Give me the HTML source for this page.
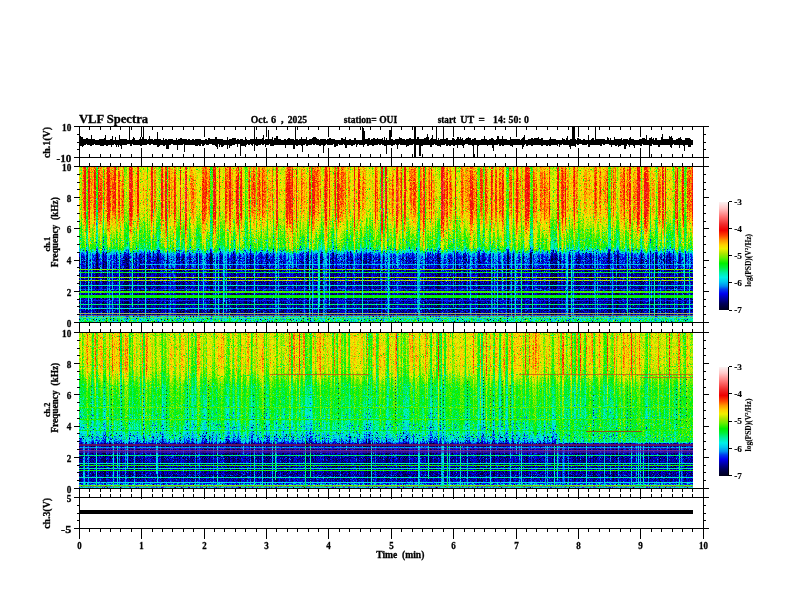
<!DOCTYPE html>
<html><head><meta charset="utf-8"><title>VLF Spectra</title>
<style>html,body{margin:0;padding:0;background:#fff;}body{width:792px;height:612px;position:relative;overflow:hidden;}</style>
</head><body>
<svg width="792" height="612" viewBox="0 0 792 612" style="position:absolute;left:0;top:0;will-change:transform" shape-rendering="crispEdges">
<svg x="79" y="166" width="614" height="157" viewBox="0 0 614 157" overflow="hidden">
<defs>
<filter id="cma" filterUnits="userSpaceOnUse" x="0" y="0" width="614" height="157" color-interpolation-filters="sRGB">
<feColorMatrix in="SourceGraphic" type="matrix" values="0 1 0 0 0 0 1 0 0 0 0 1 0 0 0 0 0 0 0 1" result="AG"/>
<feColorMatrix in="SourceGraphic" type="matrix" values="0 0 1 0 0 0 0 1 0 0 0 0 1 0 0 0 0 0 0 1" result="AB"/>
<feColorMatrix in="SourceGraphic" type="matrix" values="1 0 0 0 0 1 0 0 0 0 1 0 0 0 0 0 0 0 0 1" result="R"/>
<feTurbulence type="fractalNoise" baseFrequency="1.3 1.1" numOctaves="1" seed="3" result="T1"/>
<feColorMatrix in="T1" type="matrix" values="1 0 0 0 0 1 0 0 0 0 1 0 0 0 0 0 0 0 0 1" result="T1r"/>
<feComponentTransfer in="T1r" result="N1"><feFuncR type="table" tableValues="0.000 0.000 0.000 0.000 0.000 0.000 0.000 0.000 0.000 0.000 0.000 0.000 0.000 0.000 0.000 0.000 0.000 0.000 0.000 0.000 0.000 0.000 0.000 0.000 0.000 0.000 0.000 0.000 0.000 0.000 0.000 0.310 0.320 0.330 0.340 0.350 0.360 0.370 0.380 0.390 0.400 0.410 0.420 0.430 0.440 0.450 0.460 0.470 0.480 0.490 0.500 0.510 0.520 0.530 0.540 0.550 0.560 0.570 0.580 0.590 0.600 0.610 0.620 0.630 0.640 0.650 0.660 0.670 0.680 0.690 0.700 0.710 0.720 0.730 0.740 0.750 0.760 0.770 0.780 0.790 0.800 0.810 0.820 0.830 0.840 0.850 0.860 0.870 0.880 0.890 0.900 0.910 0.920 0.930 0.940 0.950 0.960 0.970 0.980 0.990 1.000"/><feFuncG type="table" tableValues="0.000 0.000 0.000 0.000 0.000 0.000 0.000 0.000 0.000 0.000 0.000 0.000 0.000 0.000 0.000 0.000 0.000 0.000 0.000 0.000 0.000 0.000 0.000 0.000 0.000 0.000 0.000 0.000 0.000 0.000 0.000 0.310 0.320 0.330 0.340 0.350 0.360 0.370 0.380 0.390 0.400 0.410 0.420 0.430 0.440 0.450 0.460 0.470 0.480 0.490 0.500 0.510 0.520 0.530 0.540 0.550 0.560 0.570 0.580 0.590 0.600 0.610 0.620 0.630 0.640 0.650 0.660 0.670 0.680 0.690 0.700 0.710 0.720 0.730 0.740 0.750 0.760 0.770 0.780 0.790 0.800 0.810 0.820 0.830 0.840 0.850 0.860 0.870 0.880 0.890 0.900 0.910 0.920 0.930 0.940 0.950 0.960 0.970 0.980 0.990 1.000"/><feFuncB type="table" tableValues="0.000 0.000 0.000 0.000 0.000 0.000 0.000 0.000 0.000 0.000 0.000 0.000 0.000 0.000 0.000 0.000 0.000 0.000 0.000 0.000 0.000 0.000 0.000 0.000 0.000 0.000 0.000 0.000 0.000 0.000 0.000 0.310 0.320 0.330 0.340 0.350 0.360 0.370 0.380 0.390 0.400 0.410 0.420 0.430 0.440 0.450 0.460 0.470 0.480 0.490 0.500 0.510 0.520 0.530 0.540 0.550 0.560 0.570 0.580 0.590 0.600 0.610 0.620 0.630 0.640 0.650 0.660 0.670 0.680 0.690 0.700 0.710 0.720 0.730 0.740 0.750 0.760 0.770 0.780 0.790 0.800 0.810 0.820 0.830 0.840 0.850 0.860 0.870 0.880 0.890 0.900 0.910 0.920 0.930 0.940 0.950 0.960 0.970 0.980 0.990 1.000"/></feComponentTransfer>
<feTurbulence type="fractalNoise" baseFrequency="0.5 0.006" numOctaves="2" seed="20" result="T2"/>
<feColorMatrix in="T2" type="matrix" values="3 0 0 0 -1 3 0 0 0 -1 3 0 0 0 -1 0 0 0 0 1" result="N2"/>
<feComposite in="AG" in2="N1" operator="arithmetic" k1="1" k2="-0.5" k3="0" k4="0.5" result="M1"/>
<feComposite in="AB" in2="N2" operator="arithmetic" k1="1" k2="-0.5" k3="0" k4="0.5" result="M2"/>
<feComposite in="R" in2="M1" operator="arithmetic" k1="0" k2="1" k3="1" k4="-0.5" result="S1"/>
<feComposite in="S1" in2="M2" operator="arithmetic" k1="0" k2="1" k3="1" k4="-0.5" result="S"/>
<feComponentTransfer in="S"><feFuncR type="table" tableValues="0.000 0.000 0.000 0.000 0.000 0.000 0.000 0.000 0.000 0.000 0.000 0.000 0.000 0.000 0.000 0.000 0.000 0.000 0.000 0.000 0.000 0.000 0.000 0.000 0.000 0.000 0.000 0.000 0.000 0.000 0.000 0.000 0.000 0.000 0.000 0.000 0.000 0.000 0.000 0.000 0.000 0.000 0.000 0.000 0.000 0.000 0.000 0.000 0.000 0.000 0.000 0.000 0.000 0.000 0.000 0.024 0.086 0.148 0.209 0.271 0.333 0.394 0.448 0.502 0.556 0.610 0.665 0.713 0.761 0.809 0.857 0.905 0.944 0.958 0.971 0.984 0.997 1.000 1.000 1.000 1.000 1.000 1.000 1.000 1.000 1.000 1.000 0.999 0.990 0.981 0.972 0.963 0.954 0.945 0.941 0.941 0.941 0.941 0.941 0.941 0.942 0.948 0.955 0.961 0.968 0.975 0.981 0.988 0.994 1.000 1.000 1.000 1.000 1.000 1.000 1.000 1.000 1.000 1.000 1.000 0.998 0.996 0.993 0.991 0.988 0.986 0.983 0.980"/><feFuncG type="table" tableValues="0.000 0.000 0.000 0.000 0.000 0.000 0.000 0.000 0.000 0.000 0.000 0.000 0.000 0.000 0.000 0.000 0.000 0.000 0.000 0.000 0.044 0.090 0.137 0.183 0.229 0.307 0.389 0.472 0.552 0.598 0.644 0.691 0.737 0.783 0.815 0.845 0.876 0.907 0.938 0.941 0.941 0.941 0.941 0.941 0.941 0.941 0.941 0.941 0.941 0.941 0.941 0.941 0.941 0.941 0.941 0.941 0.941 0.941 0.941 0.941 0.941 0.941 0.933 0.925 0.918 0.910 0.902 0.909 0.915 0.922 0.929 0.936 0.935 0.908 0.882 0.855 0.829 0.789 0.746 0.703 0.660 0.617 0.568 0.508 0.447 0.387 0.327 0.269 0.227 0.186 0.144 0.103 0.061 0.020 0.013 0.037 0.061 0.085 0.110 0.134 0.158 0.189 0.220 0.251 0.282 0.313 0.344 0.375 0.405 0.437 0.470 0.504 0.537 0.571 0.604 0.638 0.671 0.705 0.738 0.772 0.799 0.822 0.845 0.868 0.891 0.914 0.938 0.961"/><feFuncB type="table" tableValues="0.118 0.149 0.179 0.210 0.241 0.272 0.303 0.334 0.372 0.421 0.471 0.520 0.569 0.619 0.668 0.722 0.776 0.830 0.884 0.938 0.941 0.941 0.941 0.941 0.941 0.941 0.941 0.941 0.941 0.941 0.941 0.941 0.941 0.941 0.934 0.926 0.918 0.910 0.903 0.859 0.811 0.763 0.715 0.667 0.615 0.546 0.478 0.409 0.340 0.272 0.214 0.167 0.121 0.075 0.028 0.000 0.000 0.000 0.000 0.000 0.000 0.000 0.000 0.000 0.000 0.000 0.000 0.000 0.000 0.000 0.000 0.000 0.000 0.000 0.000 0.000 0.000 0.000 0.000 0.000 0.000 0.000 0.000 0.000 0.000 0.000 0.000 0.000 0.000 0.000 0.000 0.000 0.000 0.000 0.013 0.037 0.061 0.085 0.110 0.134 0.158 0.189 0.220 0.251 0.282 0.313 0.344 0.375 0.405 0.437 0.470 0.504 0.537 0.571 0.604 0.638 0.671 0.705 0.738 0.772 0.799 0.822 0.845 0.868 0.891 0.914 0.938 0.961"/><feFuncA type="identity"/></feComponentTransfer>
</filter>
<linearGradient id="ga0" x1="0" y1="0" x2="0" y2="1">
<stop offset="0.0032" stop-color="rgb(112,71,18)"/>
<stop offset="0.1025" stop-color="rgb(120,74,20)"/>
<stop offset="0.1522" stop-color="rgb(121,75,21)"/>
<stop offset="0.2019" stop-color="rgb(120,77,22)"/>
<stop offset="0.2417" stop-color="rgb(118,78,22)"/>
<stop offset="0.2516" stop-color="rgb(117,78,23)"/>
<stop offset="0.2715" stop-color="rgb(115,78,23)"/>
<stop offset="0.2913" stop-color="rgb(113,79,23)"/>
<stop offset="0.3013" stop-color="rgb(113,79,24)"/>
<stop offset="0.3211" stop-color="rgb(110,80,24)"/>
<stop offset="0.3410" stop-color="rgb(107,80,24)"/>
<stop offset="0.3609" stop-color="rgb(104,81,25)"/>
<stop offset="0.3708" stop-color="rgb(102,81,25)"/>
<stop offset="0.4006" stop-color="rgb(102,82,26)"/>
<stop offset="0.4304" stop-color="rgb(102,88,29)"/>
<stop offset="0.4603" stop-color="rgb(102,94,32)"/>
<stop offset="0.4901" stop-color="rgb(102,100,35)"/>
<stop offset="0.5000" stop-color="rgb(102,102,36)"/>
<stop offset="0.5099" stop-color="rgb(102,105,38)"/>
<stop offset="0.5199" stop-color="rgb(89,108,41)"/>
<stop offset="0.5298" stop-color="rgb(76,112,43)"/>
<stop offset="0.5348" stop-color="rgb(65,113,45)"/>
<stop offset="0.5397" stop-color="rgb(56,115,46)"/>
<stop offset="0.5497" stop-color="rgb(45,108,38)"/>
<stop offset="0.5596" stop-color="rgb(30,102,31)"/>
<stop offset="0.5696" stop-color="rgb(24,102,30)"/>
<stop offset="0.5795" stop-color="rgb(19,102,29)"/>
<stop offset="0.5994" stop-color="rgb(20,102,28)"/>
<stop offset="0.6292" stop-color="rgb(21,102,27)"/>
<stop offset="0.6391" stop-color="rgb(21,102,26)"/>
<stop offset="0.6490" stop-color="rgb(21,102,26)"/>
<stop offset="0.6590" stop-color="rgb(14,97,20)"/>
<stop offset="0.6689" stop-color="rgb(14,97,20)"/>
<stop offset="0.6888" stop-color="rgb(13,97,20)"/>
<stop offset="0.6987" stop-color="rgb(13,97,20)"/>
<stop offset="0.7037" stop-color="rgb(13,97,20)"/>
<stop offset="0.7087" stop-color="rgb(13,97,20)"/>
<stop offset="0.7136" stop-color="rgb(13,97,20)"/>
<stop offset="0.7186" stop-color="rgb(13,97,20)"/>
<stop offset="0.7981" stop-color="rgb(12,97,20)"/>
<stop offset="0.8975" stop-color="rgb(12,97,20)"/>
<stop offset="0.9471" stop-color="rgb(11,97,20)"/>
<stop offset="0.9620" stop-color="rgb(65,139,20)"/>
<stop offset="0.9670" stop-color="rgb(67,153,20)"/>
<stop offset="0.9769" stop-color="rgb(71,153,20)"/>
<stop offset="0.9869" stop-color="rgb(76,153,20)"/>
<stop offset="0.9968" stop-color="rgb(80,153,20)"/>
</linearGradient>
<linearGradient id="ga1" x1="0" y1="0" x2="0" y2="1">
<stop offset="0.0032" stop-color="rgb(118,71,18)"/>
<stop offset="0.1025" stop-color="rgb(125,74,20)"/>
<stop offset="0.1522" stop-color="rgb(127,75,21)"/>
<stop offset="0.2019" stop-color="rgb(126,77,22)"/>
<stop offset="0.2417" stop-color="rgb(124,78,22)"/>
<stop offset="0.2516" stop-color="rgb(123,78,23)"/>
<stop offset="0.2715" stop-color="rgb(121,78,23)"/>
<stop offset="0.2913" stop-color="rgb(119,79,23)"/>
<stop offset="0.3013" stop-color="rgb(118,79,24)"/>
<stop offset="0.3211" stop-color="rgb(116,80,24)"/>
<stop offset="0.3410" stop-color="rgb(113,80,24)"/>
<stop offset="0.3609" stop-color="rgb(110,81,25)"/>
<stop offset="0.3708" stop-color="rgb(108,81,25)"/>
<stop offset="0.4006" stop-color="rgb(102,82,26)"/>
<stop offset="0.4304" stop-color="rgb(102,88,29)"/>
<stop offset="0.4603" stop-color="rgb(102,94,32)"/>
<stop offset="0.4901" stop-color="rgb(102,100,35)"/>
<stop offset="0.5000" stop-color="rgb(102,102,36)"/>
<stop offset="0.5099" stop-color="rgb(102,105,38)"/>
<stop offset="0.5199" stop-color="rgb(89,108,41)"/>
<stop offset="0.5298" stop-color="rgb(76,112,43)"/>
<stop offset="0.5348" stop-color="rgb(69,113,45)"/>
<stop offset="0.5397" stop-color="rgb(60,115,46)"/>
<stop offset="0.5497" stop-color="rgb(49,108,38)"/>
<stop offset="0.5596" stop-color="rgb(32,102,31)"/>
<stop offset="0.5696" stop-color="rgb(27,102,30)"/>
<stop offset="0.5795" stop-color="rgb(22,102,29)"/>
<stop offset="0.5994" stop-color="rgb(22,102,28)"/>
<stop offset="0.6292" stop-color="rgb(23,102,27)"/>
<stop offset="0.6391" stop-color="rgb(23,102,26)"/>
<stop offset="0.6490" stop-color="rgb(23,102,26)"/>
<stop offset="0.6590" stop-color="rgb(15,97,20)"/>
<stop offset="0.6689" stop-color="rgb(15,97,20)"/>
<stop offset="0.6888" stop-color="rgb(15,97,20)"/>
<stop offset="0.6987" stop-color="rgb(15,97,20)"/>
<stop offset="0.7037" stop-color="rgb(15,97,20)"/>
<stop offset="0.7087" stop-color="rgb(15,97,20)"/>
<stop offset="0.7136" stop-color="rgb(15,97,20)"/>
<stop offset="0.7186" stop-color="rgb(15,97,20)"/>
<stop offset="0.7981" stop-color="rgb(14,97,20)"/>
<stop offset="0.8975" stop-color="rgb(13,97,20)"/>
<stop offset="0.9471" stop-color="rgb(13,97,20)"/>
<stop offset="0.9620" stop-color="rgb(66,139,20)"/>
<stop offset="0.9670" stop-color="rgb(69,153,20)"/>
<stop offset="0.9769" stop-color="rgb(73,153,20)"/>
<stop offset="0.9869" stop-color="rgb(77,153,20)"/>
<stop offset="0.9968" stop-color="rgb(82,153,20)"/>
</linearGradient>
<linearGradient id="ga2" x1="0" y1="0" x2="0" y2="1">
<stop offset="0.0032" stop-color="rgb(123,71,18)"/>
<stop offset="0.1025" stop-color="rgb(131,74,20)"/>
<stop offset="0.1522" stop-color="rgb(132,75,21)"/>
<stop offset="0.2019" stop-color="rgb(131,77,22)"/>
<stop offset="0.2417" stop-color="rgb(129,78,22)"/>
<stop offset="0.2516" stop-color="rgb(128,78,23)"/>
<stop offset="0.2715" stop-color="rgb(127,78,23)"/>
<stop offset="0.2913" stop-color="rgb(125,79,23)"/>
<stop offset="0.3013" stop-color="rgb(124,79,24)"/>
<stop offset="0.3211" stop-color="rgb(121,80,24)"/>
<stop offset="0.3410" stop-color="rgb(118,80,24)"/>
<stop offset="0.3609" stop-color="rgb(115,81,25)"/>
<stop offset="0.3708" stop-color="rgb(113,81,25)"/>
<stop offset="0.4006" stop-color="rgb(107,82,26)"/>
<stop offset="0.4304" stop-color="rgb(103,88,29)"/>
<stop offset="0.4603" stop-color="rgb(102,94,32)"/>
<stop offset="0.4901" stop-color="rgb(102,100,35)"/>
<stop offset="0.5000" stop-color="rgb(102,102,36)"/>
<stop offset="0.5099" stop-color="rgb(102,105,38)"/>
<stop offset="0.5199" stop-color="rgb(89,108,41)"/>
<stop offset="0.5298" stop-color="rgb(78,112,43)"/>
<stop offset="0.5348" stop-color="rgb(73,113,45)"/>
<stop offset="0.5397" stop-color="rgb(64,115,46)"/>
<stop offset="0.5497" stop-color="rgb(52,108,38)"/>
<stop offset="0.5596" stop-color="rgb(35,102,31)"/>
<stop offset="0.5696" stop-color="rgb(30,102,30)"/>
<stop offset="0.5795" stop-color="rgb(25,102,29)"/>
<stop offset="0.5994" stop-color="rgb(25,102,28)"/>
<stop offset="0.6292" stop-color="rgb(25,102,27)"/>
<stop offset="0.6391" stop-color="rgb(25,102,26)"/>
<stop offset="0.6490" stop-color="rgb(25,102,26)"/>
<stop offset="0.6590" stop-color="rgb(17,97,20)"/>
<stop offset="0.6689" stop-color="rgb(17,97,20)"/>
<stop offset="0.6888" stop-color="rgb(17,97,20)"/>
<stop offset="0.6987" stop-color="rgb(17,97,20)"/>
<stop offset="0.7037" stop-color="rgb(17,97,20)"/>
<stop offset="0.7087" stop-color="rgb(17,97,20)"/>
<stop offset="0.7136" stop-color="rgb(17,97,20)"/>
<stop offset="0.7186" stop-color="rgb(17,97,20)"/>
<stop offset="0.7981" stop-color="rgb(16,97,20)"/>
<stop offset="0.8975" stop-color="rgb(15,97,20)"/>
<stop offset="0.9471" stop-color="rgb(15,97,20)"/>
<stop offset="0.9620" stop-color="rgb(68,139,20)"/>
<stop offset="0.9670" stop-color="rgb(70,153,20)"/>
<stop offset="0.9769" stop-color="rgb(75,153,20)"/>
<stop offset="0.9869" stop-color="rgb(79,153,20)"/>
<stop offset="0.9968" stop-color="rgb(84,153,20)"/>
</linearGradient>
<linearGradient id="ga3" x1="0" y1="0" x2="0" y2="1">
<stop offset="0.0032" stop-color="rgb(129,71,18)"/>
<stop offset="0.1025" stop-color="rgb(137,74,20)"/>
<stop offset="0.1522" stop-color="rgb(138,75,21)"/>
<stop offset="0.2019" stop-color="rgb(137,77,22)"/>
<stop offset="0.2417" stop-color="rgb(135,78,22)"/>
<stop offset="0.2516" stop-color="rgb(134,78,23)"/>
<stop offset="0.2715" stop-color="rgb(133,78,23)"/>
<stop offset="0.2913" stop-color="rgb(131,79,23)"/>
<stop offset="0.3013" stop-color="rgb(130,79,24)"/>
<stop offset="0.3211" stop-color="rgb(127,80,24)"/>
<stop offset="0.3410" stop-color="rgb(124,80,24)"/>
<stop offset="0.3609" stop-color="rgb(120,81,25)"/>
<stop offset="0.3708" stop-color="rgb(118,81,25)"/>
<stop offset="0.4006" stop-color="rgb(112,82,26)"/>
<stop offset="0.4304" stop-color="rgb(107,88,29)"/>
<stop offset="0.4603" stop-color="rgb(103,94,32)"/>
<stop offset="0.4901" stop-color="rgb(102,100,35)"/>
<stop offset="0.5000" stop-color="rgb(102,102,36)"/>
<stop offset="0.5099" stop-color="rgb(102,105,38)"/>
<stop offset="0.5199" stop-color="rgb(92,108,41)"/>
<stop offset="0.5298" stop-color="rgb(82,112,43)"/>
<stop offset="0.5348" stop-color="rgb(77,113,45)"/>
<stop offset="0.5397" stop-color="rgb(69,115,46)"/>
<stop offset="0.5497" stop-color="rgb(56,108,38)"/>
<stop offset="0.5596" stop-color="rgb(38,102,31)"/>
<stop offset="0.5696" stop-color="rgb(33,102,30)"/>
<stop offset="0.5795" stop-color="rgb(27,102,29)"/>
<stop offset="0.5994" stop-color="rgb(27,102,28)"/>
<stop offset="0.6292" stop-color="rgb(27,102,27)"/>
<stop offset="0.6391" stop-color="rgb(27,102,26)"/>
<stop offset="0.6490" stop-color="rgb(27,102,26)"/>
<stop offset="0.6590" stop-color="rgb(19,97,20)"/>
<stop offset="0.6689" stop-color="rgb(19,97,20)"/>
<stop offset="0.6888" stop-color="rgb(19,97,20)"/>
<stop offset="0.6987" stop-color="rgb(19,97,20)"/>
<stop offset="0.7037" stop-color="rgb(19,97,20)"/>
<stop offset="0.7087" stop-color="rgb(19,97,20)"/>
<stop offset="0.7136" stop-color="rgb(19,97,20)"/>
<stop offset="0.7186" stop-color="rgb(19,97,20)"/>
<stop offset="0.7981" stop-color="rgb(18,97,20)"/>
<stop offset="0.8975" stop-color="rgb(17,97,20)"/>
<stop offset="0.9471" stop-color="rgb(17,97,20)"/>
<stop offset="0.9620" stop-color="rgb(70,139,20)"/>
<stop offset="0.9670" stop-color="rgb(72,153,20)"/>
<stop offset="0.9769" stop-color="rgb(77,153,20)"/>
<stop offset="0.9869" stop-color="rgb(81,153,20)"/>
<stop offset="0.9968" stop-color="rgb(85,153,20)"/>
</linearGradient>
<linearGradient id="ga4" x1="0" y1="0" x2="0" y2="1">
<stop offset="0.0032" stop-color="rgb(134,71,18)"/>
<stop offset="0.1025" stop-color="rgb(142,74,20)"/>
<stop offset="0.1522" stop-color="rgb(144,75,21)"/>
<stop offset="0.2019" stop-color="rgb(143,77,22)"/>
<stop offset="0.2417" stop-color="rgb(141,78,22)"/>
<stop offset="0.2516" stop-color="rgb(140,78,23)"/>
<stop offset="0.2715" stop-color="rgb(138,78,23)"/>
<stop offset="0.2913" stop-color="rgb(137,79,23)"/>
<stop offset="0.3013" stop-color="rgb(136,79,24)"/>
<stop offset="0.3211" stop-color="rgb(133,80,24)"/>
<stop offset="0.3410" stop-color="rgb(129,80,24)"/>
<stop offset="0.3609" stop-color="rgb(126,81,25)"/>
<stop offset="0.3708" stop-color="rgb(124,81,25)"/>
<stop offset="0.4006" stop-color="rgb(117,82,26)"/>
<stop offset="0.4304" stop-color="rgb(112,88,29)"/>
<stop offset="0.4603" stop-color="rgb(107,94,32)"/>
<stop offset="0.4901" stop-color="rgb(103,100,35)"/>
<stop offset="0.5000" stop-color="rgb(102,102,36)"/>
<stop offset="0.5099" stop-color="rgb(102,105,38)"/>
<stop offset="0.5199" stop-color="rgb(95,108,41)"/>
<stop offset="0.5298" stop-color="rgb(86,112,43)"/>
<stop offset="0.5348" stop-color="rgb(81,113,45)"/>
<stop offset="0.5397" stop-color="rgb(73,115,46)"/>
<stop offset="0.5497" stop-color="rgb(60,108,38)"/>
<stop offset="0.5596" stop-color="rgb(41,102,31)"/>
<stop offset="0.5696" stop-color="rgb(36,102,30)"/>
<stop offset="0.5795" stop-color="rgb(30,102,29)"/>
<stop offset="0.5994" stop-color="rgb(30,102,28)"/>
<stop offset="0.6292" stop-color="rgb(30,102,27)"/>
<stop offset="0.6391" stop-color="rgb(30,102,26)"/>
<stop offset="0.6490" stop-color="rgb(29,102,26)"/>
<stop offset="0.6590" stop-color="rgb(21,97,20)"/>
<stop offset="0.6689" stop-color="rgb(21,97,20)"/>
<stop offset="0.6888" stop-color="rgb(21,97,20)"/>
<stop offset="0.6987" stop-color="rgb(21,97,20)"/>
<stop offset="0.7037" stop-color="rgb(21,97,20)"/>
<stop offset="0.7087" stop-color="rgb(21,97,20)"/>
<stop offset="0.7136" stop-color="rgb(20,97,20)"/>
<stop offset="0.7186" stop-color="rgb(20,97,20)"/>
<stop offset="0.7981" stop-color="rgb(20,97,20)"/>
<stop offset="0.8975" stop-color="rgb(19,97,20)"/>
<stop offset="0.9471" stop-color="rgb(18,97,20)"/>
<stop offset="0.9620" stop-color="rgb(72,139,20)"/>
<stop offset="0.9670" stop-color="rgb(74,153,20)"/>
<stop offset="0.9769" stop-color="rgb(79,153,20)"/>
<stop offset="0.9869" stop-color="rgb(83,153,20)"/>
<stop offset="0.9968" stop-color="rgb(87,153,20)"/>
</linearGradient>
<linearGradient id="ga5" x1="0" y1="0" x2="0" y2="1">
<stop offset="0.0032" stop-color="rgb(140,71,18)"/>
<stop offset="0.1025" stop-color="rgb(148,74,20)"/>
<stop offset="0.1522" stop-color="rgb(149,75,21)"/>
<stop offset="0.2019" stop-color="rgb(149,77,22)"/>
<stop offset="0.2417" stop-color="rgb(147,78,22)"/>
<stop offset="0.2516" stop-color="rgb(146,78,23)"/>
<stop offset="0.2715" stop-color="rgb(144,78,23)"/>
<stop offset="0.2913" stop-color="rgb(143,79,23)"/>
<stop offset="0.3013" stop-color="rgb(142,79,24)"/>
<stop offset="0.3211" stop-color="rgb(138,80,24)"/>
<stop offset="0.3410" stop-color="rgb(135,80,24)"/>
<stop offset="0.3609" stop-color="rgb(131,81,25)"/>
<stop offset="0.3708" stop-color="rgb(129,81,25)"/>
<stop offset="0.4006" stop-color="rgb(122,82,26)"/>
<stop offset="0.4304" stop-color="rgb(116,88,29)"/>
<stop offset="0.4603" stop-color="rgb(111,94,32)"/>
<stop offset="0.4901" stop-color="rgb(107,100,35)"/>
<stop offset="0.5000" stop-color="rgb(105,102,36)"/>
<stop offset="0.5099" stop-color="rgb(102,105,38)"/>
<stop offset="0.5199" stop-color="rgb(99,108,41)"/>
<stop offset="0.5298" stop-color="rgb(90,112,43)"/>
<stop offset="0.5348" stop-color="rgb(86,113,45)"/>
<stop offset="0.5397" stop-color="rgb(78,115,46)"/>
<stop offset="0.5497" stop-color="rgb(63,108,38)"/>
<stop offset="0.5596" stop-color="rgb(44,102,31)"/>
<stop offset="0.5696" stop-color="rgb(38,102,30)"/>
<stop offset="0.5795" stop-color="rgb(33,102,29)"/>
<stop offset="0.5994" stop-color="rgb(32,102,28)"/>
<stop offset="0.6292" stop-color="rgb(32,102,27)"/>
<stop offset="0.6391" stop-color="rgb(32,102,26)"/>
<stop offset="0.6490" stop-color="rgb(31,102,26)"/>
<stop offset="0.6590" stop-color="rgb(23,97,20)"/>
<stop offset="0.6689" stop-color="rgb(23,97,20)"/>
<stop offset="0.6888" stop-color="rgb(23,97,20)"/>
<stop offset="0.6987" stop-color="rgb(22,97,20)"/>
<stop offset="0.7037" stop-color="rgb(22,97,20)"/>
<stop offset="0.7087" stop-color="rgb(22,97,20)"/>
<stop offset="0.7136" stop-color="rgb(22,97,20)"/>
<stop offset="0.7186" stop-color="rgb(22,97,20)"/>
<stop offset="0.7981" stop-color="rgb(22,97,20)"/>
<stop offset="0.8975" stop-color="rgb(21,97,20)"/>
<stop offset="0.9471" stop-color="rgb(20,97,20)"/>
<stop offset="0.9620" stop-color="rgb(74,139,20)"/>
<stop offset="0.9670" stop-color="rgb(76,153,20)"/>
<stop offset="0.9769" stop-color="rgb(80,153,20)"/>
<stop offset="0.9869" stop-color="rgb(85,153,20)"/>
<stop offset="0.9968" stop-color="rgb(89,153,20)"/>
</linearGradient>
<linearGradient id="ga6" x1="0" y1="0" x2="0" y2="1">
<stop offset="0.0032" stop-color="rgb(145,71,18)"/>
<stop offset="0.1025" stop-color="rgb(153,74,20)"/>
<stop offset="0.1522" stop-color="rgb(155,75,21)"/>
<stop offset="0.2019" stop-color="rgb(154,77,22)"/>
<stop offset="0.2417" stop-color="rgb(152,78,22)"/>
<stop offset="0.2516" stop-color="rgb(152,78,23)"/>
<stop offset="0.2715" stop-color="rgb(150,78,23)"/>
<stop offset="0.2913" stop-color="rgb(148,79,23)"/>
<stop offset="0.3013" stop-color="rgb(148,79,24)"/>
<stop offset="0.3211" stop-color="rgb(144,80,24)"/>
<stop offset="0.3410" stop-color="rgb(141,80,24)"/>
<stop offset="0.3609" stop-color="rgb(137,81,25)"/>
<stop offset="0.3708" stop-color="rgb(134,81,25)"/>
<stop offset="0.4006" stop-color="rgb(128,82,26)"/>
<stop offset="0.4304" stop-color="rgb(121,88,29)"/>
<stop offset="0.4603" stop-color="rgb(115,94,32)"/>
<stop offset="0.4901" stop-color="rgb(111,100,35)"/>
<stop offset="0.5000" stop-color="rgb(109,102,36)"/>
<stop offset="0.5099" stop-color="rgb(106,105,38)"/>
<stop offset="0.5199" stop-color="rgb(103,108,41)"/>
<stop offset="0.5298" stop-color="rgb(94,112,43)"/>
<stop offset="0.5348" stop-color="rgb(90,113,45)"/>
<stop offset="0.5397" stop-color="rgb(82,115,46)"/>
<stop offset="0.5497" stop-color="rgb(67,108,38)"/>
<stop offset="0.5596" stop-color="rgb(47,102,31)"/>
<stop offset="0.5696" stop-color="rgb(41,102,30)"/>
<stop offset="0.5795" stop-color="rgb(36,102,29)"/>
<stop offset="0.5994" stop-color="rgb(35,102,28)"/>
<stop offset="0.6292" stop-color="rgb(34,102,27)"/>
<stop offset="0.6391" stop-color="rgb(34,102,26)"/>
<stop offset="0.6490" stop-color="rgb(33,102,26)"/>
<stop offset="0.6590" stop-color="rgb(25,97,20)"/>
<stop offset="0.6689" stop-color="rgb(25,97,20)"/>
<stop offset="0.6888" stop-color="rgb(24,97,20)"/>
<stop offset="0.6987" stop-color="rgb(24,97,20)"/>
<stop offset="0.7037" stop-color="rgb(24,97,20)"/>
<stop offset="0.7087" stop-color="rgb(24,97,20)"/>
<stop offset="0.7136" stop-color="rgb(24,97,20)"/>
<stop offset="0.7186" stop-color="rgb(24,97,20)"/>
<stop offset="0.7981" stop-color="rgb(23,97,20)"/>
<stop offset="0.8975" stop-color="rgb(22,97,20)"/>
<stop offset="0.9471" stop-color="rgb(22,97,20)"/>
<stop offset="0.9620" stop-color="rgb(76,139,20)"/>
<stop offset="0.9670" stop-color="rgb(78,153,20)"/>
<stop offset="0.9769" stop-color="rgb(82,153,20)"/>
<stop offset="0.9869" stop-color="rgb(87,153,20)"/>
<stop offset="0.9968" stop-color="rgb(91,153,20)"/>
</linearGradient>
<linearGradient id="ga7" x1="0" y1="0" x2="0" y2="1">
<stop offset="0.0032" stop-color="rgb(151,71,18)"/>
<stop offset="0.1025" stop-color="rgb(159,74,20)"/>
<stop offset="0.1522" stop-color="rgb(161,75,21)"/>
<stop offset="0.2019" stop-color="rgb(160,77,22)"/>
<stop offset="0.2417" stop-color="rgb(158,78,22)"/>
<stop offset="0.2516" stop-color="rgb(157,78,23)"/>
<stop offset="0.2715" stop-color="rgb(156,78,23)"/>
<stop offset="0.2913" stop-color="rgb(154,79,23)"/>
<stop offset="0.3013" stop-color="rgb(153,79,24)"/>
<stop offset="0.3211" stop-color="rgb(150,80,24)"/>
<stop offset="0.3410" stop-color="rgb(146,80,24)"/>
<stop offset="0.3609" stop-color="rgb(142,81,25)"/>
<stop offset="0.3708" stop-color="rgb(140,81,25)"/>
<stop offset="0.4006" stop-color="rgb(133,82,26)"/>
<stop offset="0.4304" stop-color="rgb(125,88,29)"/>
<stop offset="0.4603" stop-color="rgb(119,94,32)"/>
<stop offset="0.4901" stop-color="rgb(114,100,35)"/>
<stop offset="0.5000" stop-color="rgb(113,102,36)"/>
<stop offset="0.5099" stop-color="rgb(110,105,38)"/>
<stop offset="0.5199" stop-color="rgb(106,108,41)"/>
<stop offset="0.5298" stop-color="rgb(98,112,43)"/>
<stop offset="0.5348" stop-color="rgb(94,113,45)"/>
<stop offset="0.5397" stop-color="rgb(86,115,46)"/>
<stop offset="0.5497" stop-color="rgb(71,108,38)"/>
<stop offset="0.5596" stop-color="rgb(50,102,31)"/>
<stop offset="0.5696" stop-color="rgb(44,102,30)"/>
<stop offset="0.5795" stop-color="rgb(38,102,29)"/>
<stop offset="0.5994" stop-color="rgb(38,102,28)"/>
<stop offset="0.6292" stop-color="rgb(36,102,27)"/>
<stop offset="0.6391" stop-color="rgb(36,102,26)"/>
<stop offset="0.6490" stop-color="rgb(35,102,26)"/>
<stop offset="0.6590" stop-color="rgb(26,97,20)"/>
<stop offset="0.6689" stop-color="rgb(26,97,20)"/>
<stop offset="0.6888" stop-color="rgb(26,97,20)"/>
<stop offset="0.6987" stop-color="rgb(26,97,20)"/>
<stop offset="0.7037" stop-color="rgb(26,97,20)"/>
<stop offset="0.7087" stop-color="rgb(26,97,20)"/>
<stop offset="0.7136" stop-color="rgb(26,97,20)"/>
<stop offset="0.7186" stop-color="rgb(26,97,20)"/>
<stop offset="0.7981" stop-color="rgb(25,97,20)"/>
<stop offset="0.8975" stop-color="rgb(24,97,20)"/>
<stop offset="0.9471" stop-color="rgb(24,97,20)"/>
<stop offset="0.9620" stop-color="rgb(77,139,20)"/>
<stop offset="0.9670" stop-color="rgb(80,153,20)"/>
<stop offset="0.9769" stop-color="rgb(84,153,20)"/>
<stop offset="0.9869" stop-color="rgb(88,153,20)"/>
<stop offset="0.9968" stop-color="rgb(93,153,20)"/>
</linearGradient>
<linearGradient id="ga8" x1="0" y1="0" x2="0" y2="1">
<stop offset="0.0032" stop-color="rgb(156,71,18)"/>
<stop offset="0.1025" stop-color="rgb(165,74,20)"/>
<stop offset="0.1522" stop-color="rgb(166,75,21)"/>
<stop offset="0.2019" stop-color="rgb(166,77,22)"/>
<stop offset="0.2417" stop-color="rgb(164,78,22)"/>
<stop offset="0.2516" stop-color="rgb(163,78,23)"/>
<stop offset="0.2715" stop-color="rgb(162,78,23)"/>
<stop offset="0.2913" stop-color="rgb(160,79,23)"/>
<stop offset="0.3013" stop-color="rgb(159,79,24)"/>
<stop offset="0.3211" stop-color="rgb(155,80,24)"/>
<stop offset="0.3410" stop-color="rgb(152,80,24)"/>
<stop offset="0.3609" stop-color="rgb(147,81,25)"/>
<stop offset="0.3708" stop-color="rgb(145,81,25)"/>
<stop offset="0.4006" stop-color="rgb(138,82,26)"/>
<stop offset="0.4304" stop-color="rgb(130,88,29)"/>
<stop offset="0.4603" stop-color="rgb(123,94,32)"/>
<stop offset="0.4901" stop-color="rgb(118,100,35)"/>
<stop offset="0.5000" stop-color="rgb(116,102,36)"/>
<stop offset="0.5099" stop-color="rgb(113,105,38)"/>
<stop offset="0.5199" stop-color="rgb(110,108,41)"/>
<stop offset="0.5298" stop-color="rgb(102,112,43)"/>
<stop offset="0.5348" stop-color="rgb(98,113,45)"/>
<stop offset="0.5397" stop-color="rgb(91,115,46)"/>
<stop offset="0.5497" stop-color="rgb(74,108,38)"/>
<stop offset="0.5596" stop-color="rgb(53,102,31)"/>
<stop offset="0.5696" stop-color="rgb(47,102,30)"/>
<stop offset="0.5795" stop-color="rgb(41,102,29)"/>
<stop offset="0.5994" stop-color="rgb(40,102,28)"/>
<stop offset="0.6292" stop-color="rgb(38,102,27)"/>
<stop offset="0.6391" stop-color="rgb(38,102,26)"/>
<stop offset="0.6490" stop-color="rgb(37,102,26)"/>
<stop offset="0.6590" stop-color="rgb(28,97,20)"/>
<stop offset="0.6689" stop-color="rgb(28,97,20)"/>
<stop offset="0.6888" stop-color="rgb(28,97,20)"/>
<stop offset="0.6987" stop-color="rgb(28,97,20)"/>
<stop offset="0.7037" stop-color="rgb(28,97,20)"/>
<stop offset="0.7087" stop-color="rgb(28,97,20)"/>
<stop offset="0.7136" stop-color="rgb(28,97,20)"/>
<stop offset="0.7186" stop-color="rgb(28,97,20)"/>
<stop offset="0.7981" stop-color="rgb(27,97,20)"/>
<stop offset="0.8975" stop-color="rgb(26,97,20)"/>
<stop offset="0.9471" stop-color="rgb(26,97,20)"/>
<stop offset="0.9620" stop-color="rgb(79,139,20)"/>
<stop offset="0.9670" stop-color="rgb(81,153,20)"/>
<stop offset="0.9769" stop-color="rgb(86,153,20)"/>
<stop offset="0.9869" stop-color="rgb(90,153,20)"/>
<stop offset="0.9968" stop-color="rgb(95,153,20)"/>
</linearGradient>
<linearGradient id="ga9" x1="0" y1="0" x2="0" y2="1">
<stop offset="0.0032" stop-color="rgb(162,71,18)"/>
<stop offset="0.1025" stop-color="rgb(170,74,20)"/>
<stop offset="0.1522" stop-color="rgb(172,75,21)"/>
<stop offset="0.2019" stop-color="rgb(171,77,22)"/>
<stop offset="0.2417" stop-color="rgb(170,78,22)"/>
<stop offset="0.2516" stop-color="rgb(169,78,23)"/>
<stop offset="0.2715" stop-color="rgb(167,78,23)"/>
<stop offset="0.2913" stop-color="rgb(166,79,23)"/>
<stop offset="0.3013" stop-color="rgb(165,79,24)"/>
<stop offset="0.3211" stop-color="rgb(161,80,24)"/>
<stop offset="0.3410" stop-color="rgb(157,80,24)"/>
<stop offset="0.3609" stop-color="rgb(153,81,25)"/>
<stop offset="0.3708" stop-color="rgb(150,81,25)"/>
<stop offset="0.4006" stop-color="rgb(143,82,26)"/>
<stop offset="0.4304" stop-color="rgb(135,88,29)"/>
<stop offset="0.4603" stop-color="rgb(127,94,32)"/>
<stop offset="0.4901" stop-color="rgb(122,100,35)"/>
<stop offset="0.5000" stop-color="rgb(120,102,36)"/>
<stop offset="0.5099" stop-color="rgb(117,105,38)"/>
<stop offset="0.5199" stop-color="rgb(114,108,41)"/>
<stop offset="0.5298" stop-color="rgb(106,112,43)"/>
<stop offset="0.5348" stop-color="rgb(102,113,45)"/>
<stop offset="0.5397" stop-color="rgb(95,115,46)"/>
<stop offset="0.5497" stop-color="rgb(78,108,38)"/>
<stop offset="0.5596" stop-color="rgb(56,102,31)"/>
<stop offset="0.5696" stop-color="rgb(50,102,30)"/>
<stop offset="0.5795" stop-color="rgb(44,102,29)"/>
<stop offset="0.5994" stop-color="rgb(43,102,28)"/>
<stop offset="0.6292" stop-color="rgb(41,102,27)"/>
<stop offset="0.6391" stop-color="rgb(40,102,26)"/>
<stop offset="0.6490" stop-color="rgb(39,102,26)"/>
<stop offset="0.6590" stop-color="rgb(30,97,20)"/>
<stop offset="0.6689" stop-color="rgb(30,97,20)"/>
<stop offset="0.6888" stop-color="rgb(30,97,20)"/>
<stop offset="0.6987" stop-color="rgb(30,97,20)"/>
<stop offset="0.7037" stop-color="rgb(30,97,20)"/>
<stop offset="0.7087" stop-color="rgb(30,97,20)"/>
<stop offset="0.7136" stop-color="rgb(30,97,20)"/>
<stop offset="0.7186" stop-color="rgb(30,97,20)"/>
<stop offset="0.7981" stop-color="rgb(29,97,20)"/>
<stop offset="0.8975" stop-color="rgb(28,97,20)"/>
<stop offset="0.9471" stop-color="rgb(28,97,20)"/>
<stop offset="0.9620" stop-color="rgb(81,139,20)"/>
<stop offset="0.9670" stop-color="rgb(83,153,20)"/>
<stop offset="0.9769" stop-color="rgb(88,153,20)"/>
<stop offset="0.9869" stop-color="rgb(92,153,20)"/>
<stop offset="0.9968" stop-color="rgb(96,153,20)"/>
</linearGradient>
<linearGradient id="ga10" x1="0" y1="0" x2="0" y2="1">
<stop offset="0.0032" stop-color="rgb(167,71,18)"/>
<stop offset="0.1025" stop-color="rgb(176,74,20)"/>
<stop offset="0.1522" stop-color="rgb(178,75,21)"/>
<stop offset="0.2019" stop-color="rgb(177,77,22)"/>
<stop offset="0.2417" stop-color="rgb(175,78,22)"/>
<stop offset="0.2516" stop-color="rgb(175,78,23)"/>
<stop offset="0.2715" stop-color="rgb(173,78,23)"/>
<stop offset="0.2913" stop-color="rgb(172,79,23)"/>
<stop offset="0.3013" stop-color="rgb(171,79,24)"/>
<stop offset="0.3211" stop-color="rgb(167,80,24)"/>
<stop offset="0.3410" stop-color="rgb(163,80,24)"/>
<stop offset="0.3609" stop-color="rgb(158,81,25)"/>
<stop offset="0.3708" stop-color="rgb(156,81,25)"/>
<stop offset="0.4006" stop-color="rgb(148,82,26)"/>
<stop offset="0.4304" stop-color="rgb(139,88,29)"/>
<stop offset="0.4603" stop-color="rgb(131,94,32)"/>
<stop offset="0.4901" stop-color="rgb(125,100,35)"/>
<stop offset="0.5000" stop-color="rgb(124,102,36)"/>
<stop offset="0.5099" stop-color="rgb(120,105,38)"/>
<stop offset="0.5199" stop-color="rgb(117,108,41)"/>
<stop offset="0.5298" stop-color="rgb(110,112,43)"/>
<stop offset="0.5348" stop-color="rgb(106,113,45)"/>
<stop offset="0.5397" stop-color="rgb(99,115,46)"/>
<stop offset="0.5497" stop-color="rgb(82,108,38)"/>
<stop offset="0.5596" stop-color="rgb(59,102,31)"/>
<stop offset="0.5696" stop-color="rgb(53,102,30)"/>
<stop offset="0.5795" stop-color="rgb(46,102,29)"/>
<stop offset="0.5994" stop-color="rgb(45,102,28)"/>
<stop offset="0.6292" stop-color="rgb(43,102,27)"/>
<stop offset="0.6391" stop-color="rgb(42,102,26)"/>
<stop offset="0.6490" stop-color="rgb(41,102,26)"/>
<stop offset="0.6590" stop-color="rgb(32,97,20)"/>
<stop offset="0.6689" stop-color="rgb(32,97,20)"/>
<stop offset="0.6888" stop-color="rgb(32,97,20)"/>
<stop offset="0.6987" stop-color="rgb(32,97,20)"/>
<stop offset="0.7037" stop-color="rgb(31,97,20)"/>
<stop offset="0.7087" stop-color="rgb(31,97,20)"/>
<stop offset="0.7136" stop-color="rgb(31,97,20)"/>
<stop offset="0.7186" stop-color="rgb(31,97,20)"/>
<stop offset="0.7981" stop-color="rgb(31,97,20)"/>
<stop offset="0.8975" stop-color="rgb(30,97,20)"/>
<stop offset="0.9471" stop-color="rgb(29,97,20)"/>
<stop offset="0.9620" stop-color="rgb(83,139,20)"/>
<stop offset="0.9670" stop-color="rgb(85,153,20)"/>
<stop offset="0.9769" stop-color="rgb(89,153,20)"/>
<stop offset="0.9869" stop-color="rgb(94,153,20)"/>
<stop offset="0.9968" stop-color="rgb(98,153,20)"/>
</linearGradient>
<linearGradient id="ga11" x1="0" y1="0" x2="0" y2="1">
<stop offset="0.0032" stop-color="rgb(172,71,18)"/>
<stop offset="0.1025" stop-color="rgb(181,74,20)"/>
<stop offset="0.1522" stop-color="rgb(183,75,21)"/>
<stop offset="0.2019" stop-color="rgb(183,77,22)"/>
<stop offset="0.2417" stop-color="rgb(181,78,22)"/>
<stop offset="0.2516" stop-color="rgb(180,78,23)"/>
<stop offset="0.2715" stop-color="rgb(179,78,23)"/>
<stop offset="0.2913" stop-color="rgb(177,79,23)"/>
<stop offset="0.3013" stop-color="rgb(177,79,24)"/>
<stop offset="0.3211" stop-color="rgb(172,80,24)"/>
<stop offset="0.3410" stop-color="rgb(168,80,24)"/>
<stop offset="0.3609" stop-color="rgb(163,81,25)"/>
<stop offset="0.3708" stop-color="rgb(161,81,25)"/>
<stop offset="0.4006" stop-color="rgb(153,82,26)"/>
<stop offset="0.4304" stop-color="rgb(144,88,29)"/>
<stop offset="0.4603" stop-color="rgb(135,94,32)"/>
<stop offset="0.4901" stop-color="rgb(129,100,35)"/>
<stop offset="0.5000" stop-color="rgb(127,102,36)"/>
<stop offset="0.5099" stop-color="rgb(124,105,38)"/>
<stop offset="0.5199" stop-color="rgb(121,108,41)"/>
<stop offset="0.5298" stop-color="rgb(114,112,43)"/>
<stop offset="0.5348" stop-color="rgb(111,113,45)"/>
<stop offset="0.5397" stop-color="rgb(104,115,46)"/>
<stop offset="0.5497" stop-color="rgb(85,108,38)"/>
<stop offset="0.5596" stop-color="rgb(62,102,31)"/>
<stop offset="0.5696" stop-color="rgb(55,102,30)"/>
<stop offset="0.5795" stop-color="rgb(49,102,29)"/>
<stop offset="0.5994" stop-color="rgb(48,102,28)"/>
<stop offset="0.6292" stop-color="rgb(45,102,27)"/>
<stop offset="0.6391" stop-color="rgb(44,102,26)"/>
<stop offset="0.6490" stop-color="rgb(43,102,26)"/>
<stop offset="0.6590" stop-color="rgb(34,97,20)"/>
<stop offset="0.6689" stop-color="rgb(34,97,20)"/>
<stop offset="0.6888" stop-color="rgb(33,97,20)"/>
<stop offset="0.6987" stop-color="rgb(33,97,20)"/>
<stop offset="0.7037" stop-color="rgb(33,97,20)"/>
<stop offset="0.7087" stop-color="rgb(33,97,20)"/>
<stop offset="0.7136" stop-color="rgb(33,97,20)"/>
<stop offset="0.7186" stop-color="rgb(33,97,20)"/>
<stop offset="0.7981" stop-color="rgb(32,97,20)"/>
<stop offset="0.8975" stop-color="rgb(32,97,20)"/>
<stop offset="0.9471" stop-color="rgb(31,97,20)"/>
<stop offset="0.9620" stop-color="rgb(85,139,20)"/>
<stop offset="0.9670" stop-color="rgb(87,153,20)"/>
<stop offset="0.9769" stop-color="rgb(91,153,20)"/>
<stop offset="0.9869" stop-color="rgb(96,153,20)"/>
<stop offset="0.9968" stop-color="rgb(100,153,20)"/>
</linearGradient>
<linearGradient id="ga12" x1="0" y1="0" x2="0" y2="1">
<stop offset="0.0032" stop-color="rgb(178,71,18)"/>
<stop offset="0.1025" stop-color="rgb(187,74,20)"/>
<stop offset="0.1522" stop-color="rgb(189,75,21)"/>
<stop offset="0.2019" stop-color="rgb(188,77,22)"/>
<stop offset="0.2417" stop-color="rgb(187,78,22)"/>
<stop offset="0.2516" stop-color="rgb(186,78,23)"/>
<stop offset="0.2715" stop-color="rgb(185,78,23)"/>
<stop offset="0.2913" stop-color="rgb(183,79,23)"/>
<stop offset="0.3013" stop-color="rgb(183,79,24)"/>
<stop offset="0.3211" stop-color="rgb(178,80,24)"/>
<stop offset="0.3410" stop-color="rgb(174,80,24)"/>
<stop offset="0.3609" stop-color="rgb(169,81,25)"/>
<stop offset="0.3708" stop-color="rgb(166,81,25)"/>
<stop offset="0.4006" stop-color="rgb(158,82,26)"/>
<stop offset="0.4304" stop-color="rgb(148,88,29)"/>
<stop offset="0.4603" stop-color="rgb(139,94,32)"/>
<stop offset="0.4901" stop-color="rgb(132,100,35)"/>
<stop offset="0.5000" stop-color="rgb(131,102,36)"/>
<stop offset="0.5099" stop-color="rgb(128,105,38)"/>
<stop offset="0.5199" stop-color="rgb(125,108,41)"/>
<stop offset="0.5298" stop-color="rgb(118,112,43)"/>
<stop offset="0.5348" stop-color="rgb(115,113,45)"/>
<stop offset="0.5397" stop-color="rgb(108,115,46)"/>
<stop offset="0.5497" stop-color="rgb(89,108,38)"/>
<stop offset="0.5596" stop-color="rgb(64,102,31)"/>
<stop offset="0.5696" stop-color="rgb(58,102,30)"/>
<stop offset="0.5795" stop-color="rgb(52,102,29)"/>
<stop offset="0.5994" stop-color="rgb(50,102,28)"/>
<stop offset="0.6292" stop-color="rgb(47,102,27)"/>
<stop offset="0.6391" stop-color="rgb(46,102,26)"/>
<stop offset="0.6490" stop-color="rgb(45,102,26)"/>
<stop offset="0.6590" stop-color="rgb(36,97,20)"/>
<stop offset="0.6689" stop-color="rgb(35,97,20)"/>
<stop offset="0.6888" stop-color="rgb(35,97,20)"/>
<stop offset="0.6987" stop-color="rgb(35,97,20)"/>
<stop offset="0.7037" stop-color="rgb(35,97,20)"/>
<stop offset="0.7087" stop-color="rgb(35,97,20)"/>
<stop offset="0.7136" stop-color="rgb(35,97,20)"/>
<stop offset="0.7186" stop-color="rgb(35,97,20)"/>
<stop offset="0.7981" stop-color="rgb(34,97,20)"/>
<stop offset="0.8975" stop-color="rgb(33,97,20)"/>
<stop offset="0.9471" stop-color="rgb(33,97,20)"/>
<stop offset="0.9620" stop-color="rgb(87,139,20)"/>
<stop offset="0.9670" stop-color="rgb(89,153,20)"/>
<stop offset="0.9769" stop-color="rgb(93,153,20)"/>
<stop offset="0.9869" stop-color="rgb(97,153,20)"/>
<stop offset="0.9968" stop-color="rgb(102,153,20)"/>
</linearGradient>
<linearGradient id="ga13" x1="0" y1="0" x2="0" y2="1">
<stop offset="0.0032" stop-color="rgb(183,71,18)"/>
<stop offset="0.1025" stop-color="rgb(192,74,20)"/>
<stop offset="0.1522" stop-color="rgb(195,75,21)"/>
<stop offset="0.2019" stop-color="rgb(194,77,22)"/>
<stop offset="0.2417" stop-color="rgb(193,78,22)"/>
<stop offset="0.2516" stop-color="rgb(192,78,23)"/>
<stop offset="0.2715" stop-color="rgb(190,78,23)"/>
<stop offset="0.2913" stop-color="rgb(189,79,23)"/>
<stop offset="0.3013" stop-color="rgb(188,79,24)"/>
<stop offset="0.3211" stop-color="rgb(184,80,24)"/>
<stop offset="0.3410" stop-color="rgb(179,80,24)"/>
<stop offset="0.3609" stop-color="rgb(174,81,25)"/>
<stop offset="0.3708" stop-color="rgb(172,81,25)"/>
<stop offset="0.4006" stop-color="rgb(163,82,26)"/>
<stop offset="0.4304" stop-color="rgb(153,88,29)"/>
<stop offset="0.4603" stop-color="rgb(143,94,32)"/>
<stop offset="0.4901" stop-color="rgb(136,100,35)"/>
<stop offset="0.5000" stop-color="rgb(135,102,36)"/>
<stop offset="0.5099" stop-color="rgb(131,105,38)"/>
<stop offset="0.5199" stop-color="rgb(128,108,41)"/>
<stop offset="0.5298" stop-color="rgb(122,112,43)"/>
<stop offset="0.5348" stop-color="rgb(119,113,45)"/>
<stop offset="0.5397" stop-color="rgb(113,115,46)"/>
<stop offset="0.5497" stop-color="rgb(93,108,38)"/>
<stop offset="0.5596" stop-color="rgb(67,102,31)"/>
<stop offset="0.5696" stop-color="rgb(61,102,30)"/>
<stop offset="0.5795" stop-color="rgb(55,102,29)"/>
<stop offset="0.5994" stop-color="rgb(53,102,28)"/>
<stop offset="0.6292" stop-color="rgb(49,102,27)"/>
<stop offset="0.6391" stop-color="rgb(48,102,26)"/>
<stop offset="0.6490" stop-color="rgb(47,102,26)"/>
<stop offset="0.6590" stop-color="rgb(37,97,20)"/>
<stop offset="0.6689" stop-color="rgb(37,97,20)"/>
<stop offset="0.6888" stop-color="rgb(37,97,20)"/>
<stop offset="0.6987" stop-color="rgb(37,97,20)"/>
<stop offset="0.7037" stop-color="rgb(37,97,20)"/>
<stop offset="0.7087" stop-color="rgb(37,97,20)"/>
<stop offset="0.7136" stop-color="rgb(37,97,20)"/>
<stop offset="0.7186" stop-color="rgb(37,97,20)"/>
<stop offset="0.7981" stop-color="rgb(36,97,20)"/>
<stop offset="0.8975" stop-color="rgb(35,97,20)"/>
<stop offset="0.9471" stop-color="rgb(35,97,20)"/>
<stop offset="0.9620" stop-color="rgb(88,139,20)"/>
<stop offset="0.9670" stop-color="rgb(91,153,20)"/>
<stop offset="0.9769" stop-color="rgb(95,153,20)"/>
<stop offset="0.9869" stop-color="rgb(99,153,20)"/>
<stop offset="0.9968" stop-color="rgb(104,153,20)"/>
</linearGradient>
</defs>
<g filter="url(#cma)">
<rect width="614" height="157" fill="rgb(20,60,0)"/>
<rect x="0" width="3" height="157" fill="url(#ga3)"/>
<rect x="3" width="2" height="157" fill="url(#ga8)"/>
<rect x="5" width="2" height="157" fill="url(#ga13)"/>
<rect x="7" width="2" height="157" fill="url(#ga2)"/>
<rect x="9" width="2" height="157" fill="url(#ga11)"/>
<rect x="11" width="2" height="157" fill="url(#ga7)"/>
<rect x="13" width="1" height="157" fill="url(#ga8)"/>
<rect x="14" width="1" height="157" fill="url(#ga7)"/>
<rect x="15" width="2" height="157" fill="url(#ga12)"/>
<rect x="17" width="2" height="157" fill="url(#ga0)"/>
<rect x="19" width="1" height="157" fill="url(#ga11)"/>
<rect x="20" width="4" height="157" fill="url(#ga8)"/>
<rect x="24" width="1" height="157" fill="url(#ga1)"/>
<rect x="25" width="1" height="157" fill="url(#ga10)"/>
<rect x="26" width="2" height="157" fill="url(#ga8)"/>
<rect x="28" width="3" height="157" fill="url(#ga12)"/>
<rect x="31" width="3" height="157" fill="url(#ga9)"/>
<rect x="34" width="3" height="157" fill="url(#ga11)"/>
<rect x="37" width="2" height="157" fill="url(#ga6)"/>
<rect x="39" width="2" height="157" fill="url(#ga10)"/>
<rect x="41" width="2" height="157" fill="url(#ga6)"/>
<rect x="43" width="2" height="157" fill="url(#ga8)"/>
<rect x="45" width="3" height="157" fill="url(#ga1)"/>
<rect x="48" width="2" height="157" fill="url(#ga4)"/>
<rect x="50" width="3" height="157" fill="url(#ga13)"/>
<rect x="53" width="1" height="157" fill="url(#ga10)"/>
<rect x="54" width="4" height="157" fill="url(#ga5)"/>
<rect x="58" width="2" height="157" fill="url(#ga13)"/>
<rect x="60" width="3" height="157" fill="url(#ga4)"/>
<rect x="63" width="4" height="157" fill="url(#ga5)"/>
<rect x="67" width="1" height="157" fill="url(#ga6)"/>
<rect x="68" width="1" height="157" fill="url(#ga0)"/>
<rect x="69" width="3" height="157" fill="url(#ga6)"/>
<rect x="72" width="2" height="157" fill="url(#ga12)"/>
<rect x="74" width="1" height="157" fill="url(#ga4)"/>
<rect x="75" width="2" height="157" fill="url(#ga9)"/>
<rect x="77" width="1" height="157" fill="url(#ga4)"/>
<rect x="78" width="2" height="157" fill="url(#ga3)"/>
<rect x="80" width="2" height="157" fill="url(#ga1)"/>
<rect x="82" width="2" height="157" fill="url(#ga13)"/>
<rect x="84" width="2" height="157" fill="url(#ga6)"/>
<rect x="86" width="2" height="157" fill="url(#ga12)"/>
<rect x="88" width="1" height="157" fill="url(#ga0)"/>
<rect x="89" width="2" height="157" fill="url(#ga9)"/>
<rect x="91" width="4" height="157" fill="url(#ga7)"/>
<rect x="95" width="2" height="157" fill="url(#ga10)"/>
<rect x="97" width="4" height="157" fill="url(#ga4)"/>
<rect x="101" width="1" height="157" fill="url(#ga12)"/>
<rect x="102" width="4" height="157" fill="url(#ga5)"/>
<rect x="106" width="2" height="157" fill="url(#ga13)"/>
<rect x="108" width="1" height="157" fill="url(#ga4)"/>
<rect x="109" width="2" height="157" fill="url(#ga5)"/>
<rect x="111" width="1" height="157" fill="url(#ga8)"/>
<rect x="112" width="2" height="157" fill="url(#ga7)"/>
<rect x="114" width="1" height="157" fill="url(#ga8)"/>
<rect x="115" width="8" height="157" fill="url(#ga5)"/>
<rect x="123" width="3" height="157" fill="url(#ga9)"/>
<rect x="126" width="2" height="157" fill="url(#ga11)"/>
<rect x="128" width="2" height="157" fill="url(#ga8)"/>
<rect x="130" width="1" height="157" fill="url(#ga10)"/>
<rect x="131" width="3" height="157" fill="url(#ga0)"/>
<rect x="134" width="3" height="157" fill="url(#ga12)"/>
<rect x="137" width="2" height="157" fill="url(#ga5)"/>
<rect x="139" width="1" height="157" fill="url(#ga4)"/>
<rect x="140" width="1" height="157" fill="url(#ga12)"/>
<rect x="141" width="5" height="157" fill="url(#ga5)"/>
<rect x="146" width="4" height="157" fill="url(#ga9)"/>
<rect x="150" width="2" height="157" fill="url(#ga13)"/>
<rect x="152" width="2" height="157" fill="url(#ga8)"/>
<rect x="154" width="1" height="157" fill="url(#ga6)"/>
<rect x="155" width="2" height="157" fill="url(#ga5)"/>
<rect x="157" width="2" height="157" fill="url(#ga11)"/>
<rect x="159" width="1" height="157" fill="url(#ga13)"/>
<rect x="160" width="1" height="157" fill="url(#ga2)"/>
<rect x="161" width="2" height="157" fill="url(#ga10)"/>
<rect x="163" width="1" height="157" fill="url(#ga6)"/>
<rect x="164" width="2" height="157" fill="url(#ga4)"/>
<rect x="166" width="3" height="157" fill="url(#ga1)"/>
<rect x="169" width="2" height="157" fill="url(#ga9)"/>
<rect x="171" width="1" height="157" fill="url(#ga2)"/>
<rect x="172" width="2" height="157" fill="url(#ga8)"/>
<rect x="174" width="3" height="157" fill="url(#ga10)"/>
<rect x="177" width="1" height="157" fill="url(#ga0)"/>
<rect x="178" width="1" height="157" fill="url(#ga7)"/>
<rect x="179" width="2" height="157" fill="url(#ga10)"/>
<rect x="181" width="2" height="157" fill="url(#ga7)"/>
<rect x="183" width="1" height="157" fill="url(#ga11)"/>
<rect x="184" width="2" height="157" fill="url(#ga9)"/>
<rect x="186" width="2" height="157" fill="url(#ga8)"/>
<rect x="188" width="1" height="157" fill="url(#ga4)"/>
<rect x="189" width="4" height="157" fill="url(#ga6)"/>
<rect x="193" width="1" height="157" fill="url(#ga10)"/>
<rect x="194" width="1" height="157" fill="url(#ga2)"/>
<rect x="195" width="2" height="157" fill="url(#ga4)"/>
<rect x="197" width="2" height="157" fill="url(#ga12)"/>
<rect x="199" width="7" height="157" fill="url(#ga4)"/>
<rect x="206" width="2" height="157" fill="url(#ga9)"/>
<rect x="208" width="3" height="157" fill="url(#ga11)"/>
<rect x="211" width="2" height="157" fill="url(#ga9)"/>
<rect x="213" width="1" height="157" fill="url(#ga13)"/>
<rect x="214" width="2" height="157" fill="url(#ga7)"/>
<rect x="216" width="1" height="157" fill="url(#ga4)"/>
<rect x="217" width="1" height="157" fill="url(#ga11)"/>
<rect x="218" width="1" height="157" fill="url(#ga1)"/>
<rect x="219" width="1" height="157" fill="url(#ga6)"/>
<rect x="220" width="2" height="157" fill="url(#ga5)"/>
<rect x="222" width="4" height="157" fill="url(#ga8)"/>
<rect x="226" width="2" height="157" fill="url(#ga5)"/>
<rect x="228" width="2" height="157" fill="url(#ga4)"/>
<rect x="230" width="2" height="157" fill="url(#ga10)"/>
<rect x="232" width="1" height="157" fill="url(#ga0)"/>
<rect x="233" width="3" height="157" fill="url(#ga11)"/>
<rect x="236" width="4" height="157" fill="url(#ga9)"/>
<rect x="240" width="2" height="157" fill="url(#ga8)"/>
<rect x="242" width="3" height="157" fill="url(#ga4)"/>
<rect x="245" width="1" height="157" fill="url(#ga8)"/>
<rect x="246" width="2" height="157" fill="url(#ga12)"/>
<rect x="248" width="2" height="157" fill="url(#ga7)"/>
<rect x="250" width="1" height="157" fill="url(#ga13)"/>
<rect x="251" width="4" height="157" fill="url(#ga5)"/>
<rect x="255" width="2" height="157" fill="url(#ga10)"/>
<rect x="257" width="1" height="157" fill="url(#ga2)"/>
<rect x="258" width="2" height="157" fill="url(#ga13)"/>
<rect x="260" width="2" height="157" fill="url(#ga7)"/>
<rect x="262" width="2" height="157" fill="url(#ga10)"/>
<rect x="264" width="3" height="157" fill="url(#ga9)"/>
<rect x="267" width="1" height="157" fill="url(#ga5)"/>
<rect x="268" width="1" height="157" fill="url(#ga4)"/>
<rect x="269" width="2" height="157" fill="url(#ga9)"/>
<rect x="271" width="1" height="157" fill="url(#ga3)"/>
<rect x="272" width="3" height="157" fill="url(#ga5)"/>
<rect x="275" width="1" height="157" fill="url(#ga13)"/>
<rect x="276" width="3" height="157" fill="url(#ga5)"/>
<rect x="279" width="2" height="157" fill="url(#ga12)"/>
<rect x="281" width="4" height="157" fill="url(#ga7)"/>
<rect x="285" width="2" height="157" fill="url(#ga8)"/>
<rect x="287" width="1" height="157" fill="url(#ga4)"/>
<rect x="288" width="4" height="157" fill="url(#ga5)"/>
<rect x="292" width="1" height="157" fill="url(#ga6)"/>
<rect x="293" width="1" height="157" fill="url(#ga2)"/>
<rect x="294" width="2" height="157" fill="url(#ga6)"/>
<rect x="296" width="3" height="157" fill="url(#ga10)"/>
<rect x="299" width="2" height="157" fill="url(#ga5)"/>
<rect x="301" width="1" height="157" fill="url(#ga1)"/>
<rect x="302" width="2" height="157" fill="url(#ga13)"/>
<rect x="304" width="2" height="157" fill="url(#ga2)"/>
<rect x="306" width="2" height="157" fill="url(#ga13)"/>
<rect x="308" width="1" height="157" fill="url(#ga3)"/>
<rect x="309" width="4" height="157" fill="url(#ga6)"/>
<rect x="313" width="2" height="157" fill="url(#ga8)"/>
<rect x="315" width="2" height="157" fill="url(#ga6)"/>
<rect x="317" width="2" height="157" fill="url(#ga12)"/>
<rect x="319" width="3" height="157" fill="url(#ga8)"/>
<rect x="322" width="1" height="157" fill="url(#ga11)"/>
<rect x="323" width="2" height="157" fill="url(#ga2)"/>
<rect x="325" width="1" height="157" fill="url(#ga12)"/>
<rect x="326" width="1" height="157" fill="url(#ga13)"/>
<rect x="327" width="2" height="157" fill="url(#ga6)"/>
<rect x="329" width="1" height="157" fill="url(#ga5)"/>
<rect x="330" width="5" height="157" fill="url(#ga9)"/>
<rect x="335" width="2" height="157" fill="url(#ga10)"/>
<rect x="337" width="2" height="157" fill="url(#ga6)"/>
<rect x="339" width="2" height="157" fill="url(#ga0)"/>
<rect x="341" width="1" height="157" fill="url(#ga10)"/>
<rect x="342" width="1" height="157" fill="url(#ga7)"/>
<rect x="343" width="1" height="157" fill="url(#ga6)"/>
<rect x="344" width="1" height="157" fill="url(#ga13)"/>
<rect x="345" width="1" height="157" fill="url(#ga11)"/>
<rect x="346" width="1" height="157" fill="url(#ga0)"/>
<rect x="347" width="2" height="157" fill="url(#ga7)"/>
<rect x="349" width="2" height="157" fill="url(#ga9)"/>
<rect x="351" width="1" height="157" fill="url(#ga5)"/>
<rect x="352" width="1" height="157" fill="url(#ga13)"/>
<rect x="353" width="3" height="157" fill="url(#ga6)"/>
<rect x="356" width="1" height="157" fill="url(#ga1)"/>
<rect x="357" width="2" height="157" fill="url(#ga6)"/>
<rect x="359" width="3" height="157" fill="url(#ga3)"/>
<rect x="362" width="3" height="157" fill="url(#ga13)"/>
<rect x="365" width="4" height="157" fill="url(#ga9)"/>
<rect x="369" width="1" height="157" fill="url(#ga5)"/>
<rect x="370" width="3" height="157" fill="url(#ga9)"/>
<rect x="373" width="3" height="157" fill="url(#ga5)"/>
<rect x="376" width="1" height="157" fill="url(#ga12)"/>
<rect x="377" width="3" height="157" fill="url(#ga3)"/>
<rect x="380" width="2" height="157" fill="url(#ga5)"/>
<rect x="382" width="2" height="157" fill="url(#ga10)"/>
<rect x="384" width="3" height="157" fill="url(#ga7)"/>
<rect x="387" width="4" height="157" fill="url(#ga8)"/>
<rect x="391" width="2" height="157" fill="url(#ga11)"/>
<rect x="393" width="1" height="157" fill="url(#ga10)"/>
<rect x="394" width="4" height="157" fill="url(#ga8)"/>
<rect x="398" width="3" height="157" fill="url(#ga1)"/>
<rect x="401" width="1" height="157" fill="url(#ga11)"/>
<rect x="402" width="2" height="157" fill="url(#ga9)"/>
<rect x="404" width="2" height="157" fill="url(#ga2)"/>
<rect x="406" width="2" height="157" fill="url(#ga9)"/>
<rect x="408" width="4" height="157" fill="url(#ga6)"/>
<rect x="412" width="2" height="157" fill="url(#ga11)"/>
<rect x="414" width="2" height="157" fill="url(#ga4)"/>
<rect x="416" width="2" height="157" fill="url(#ga10)"/>
<rect x="418" width="2" height="157" fill="url(#ga6)"/>
<rect x="420" width="3" height="157" fill="url(#ga9)"/>
<rect x="423" width="2" height="157" fill="url(#ga10)"/>
<rect x="425" width="2" height="157" fill="url(#ga6)"/>
<rect x="427" width="3" height="157" fill="url(#ga0)"/>
<rect x="430" width="1" height="157" fill="url(#ga10)"/>
<rect x="431" width="2" height="157" fill="url(#ga9)"/>
<rect x="433" width="1" height="157" fill="url(#ga3)"/>
<rect x="434" width="1" height="157" fill="url(#ga0)"/>
<rect x="435" width="1" height="157" fill="url(#ga7)"/>
<rect x="436" width="1" height="157" fill="url(#ga6)"/>
<rect x="437" width="2" height="157" fill="url(#ga11)"/>
<rect x="439" width="1" height="157" fill="url(#ga8)"/>
<rect x="440" width="2" height="157" fill="url(#ga7)"/>
<rect x="442" width="1" height="157" fill="url(#ga0)"/>
<rect x="443" width="1" height="157" fill="url(#ga9)"/>
<rect x="444" width="2" height="157" fill="url(#ga6)"/>
<rect x="446" width="4" height="157" fill="url(#ga12)"/>
<rect x="450" width="1" height="157" fill="url(#ga9)"/>
<rect x="451" width="3" height="157" fill="url(#ga1)"/>
<rect x="454" width="4" height="157" fill="url(#ga8)"/>
<rect x="458" width="1" height="157" fill="url(#ga4)"/>
<rect x="459" width="2" height="157" fill="url(#ga5)"/>
<rect x="461" width="3" height="157" fill="url(#ga9)"/>
<rect x="464" width="1" height="157" fill="url(#ga6)"/>
<rect x="465" width="2" height="157" fill="url(#ga9)"/>
<rect x="467" width="3" height="157" fill="url(#ga6)"/>
<rect x="470" width="1" height="157" fill="url(#ga11)"/>
<rect x="471" width="7" height="157" fill="url(#ga4)"/>
<rect x="478" width="2" height="157" fill="url(#ga12)"/>
<rect x="480" width="1" height="157" fill="url(#ga2)"/>
<rect x="481" width="1" height="157" fill="url(#ga7)"/>
<rect x="482" width="2" height="157" fill="url(#ga11)"/>
<rect x="484" width="2" height="157" fill="url(#ga8)"/>
<rect x="486" width="1" height="157" fill="url(#ga12)"/>
<rect x="487" width="1" height="157" fill="url(#ga6)"/>
<rect x="488" width="2" height="157" fill="url(#ga8)"/>
<rect x="490" width="1" height="157" fill="url(#ga4)"/>
<rect x="491" width="3" height="157" fill="url(#ga5)"/>
<rect x="494" width="1" height="157" fill="url(#ga11)"/>
<rect x="495" width="1" height="157" fill="url(#ga12)"/>
<rect x="496" width="2" height="157" fill="url(#ga8)"/>
<rect x="498" width="1" height="157" fill="url(#ga10)"/>
<rect x="499" width="2" height="157" fill="url(#ga4)"/>
<rect x="501" width="4" height="157" fill="url(#ga5)"/>
<rect x="505" width="3" height="157" fill="url(#ga8)"/>
<rect x="508" width="4" height="157" fill="url(#ga7)"/>
<rect x="512" width="3" height="157" fill="url(#ga5)"/>
<rect x="515" width="3" height="157" fill="url(#ga10)"/>
<rect x="518" width="2" height="157" fill="url(#ga6)"/>
<rect x="520" width="2" height="157" fill="url(#ga10)"/>
<rect x="522" width="3" height="157" fill="url(#ga5)"/>
<rect x="525" width="3" height="157" fill="url(#ga8)"/>
<rect x="528" width="1" height="157" fill="url(#ga11)"/>
<rect x="529" width="3" height="157" fill="url(#ga1)"/>
<rect x="532" width="1" height="157" fill="url(#ga8)"/>
<rect x="533" width="1" height="157" fill="url(#ga2)"/>
<rect x="534" width="2" height="157" fill="url(#ga8)"/>
<rect x="536" width="1" height="157" fill="url(#ga10)"/>
<rect x="537" width="4" height="157" fill="url(#ga4)"/>
<rect x="541" width="3" height="157" fill="url(#ga8)"/>
<rect x="544" width="2" height="157" fill="url(#ga11)"/>
<rect x="546" width="2" height="157" fill="url(#ga7)"/>
<rect x="548" width="2" height="157" fill="url(#ga8)"/>
<rect x="550" width="2" height="157" fill="url(#ga13)"/>
<rect x="552" width="2" height="157" fill="url(#ga5)"/>
<rect x="554" width="4" height="157" fill="url(#ga7)"/>
<rect x="558" width="3" height="157" fill="url(#ga12)"/>
<rect x="561" width="1" height="157" fill="url(#ga8)"/>
<rect x="562" width="1" height="157" fill="url(#ga2)"/>
<rect x="563" width="2" height="157" fill="url(#ga6)"/>
<rect x="565" width="3" height="157" fill="url(#ga13)"/>
<rect x="568" width="3" height="157" fill="url(#ga9)"/>
<rect x="571" width="1" height="157" fill="url(#ga2)"/>
<rect x="572" width="4" height="157" fill="url(#ga7)"/>
<rect x="576" width="3" height="157" fill="url(#ga2)"/>
<rect x="579" width="2" height="157" fill="url(#ga9)"/>
<rect x="581" width="2" height="157" fill="url(#ga8)"/>
<rect x="583" width="2" height="157" fill="url(#ga12)"/>
<rect x="585" width="1" height="157" fill="url(#ga4)"/>
<rect x="586" width="1" height="157" fill="url(#ga13)"/>
<rect x="587" width="4" height="157" fill="url(#ga5)"/>
<rect x="591" width="2" height="157" fill="url(#ga6)"/>
<rect x="593" width="3" height="157" fill="url(#ga2)"/>
<rect x="596" width="2" height="157" fill="url(#ga9)"/>
<rect x="598" width="1" height="157" fill="url(#ga13)"/>
<rect x="599" width="1" height="157" fill="url(#ga2)"/>
<rect x="600" width="2" height="157" fill="url(#ga3)"/>
<rect x="602" width="1" height="157" fill="url(#ga6)"/>
<rect x="603" width="2" height="157" fill="url(#ga12)"/>
<rect x="605" width="3" height="157" fill="url(#ga1)"/>
<rect x="608" width="5" height="157" fill="url(#ga9)"/>
<rect x="613" width="1" height="157" fill="url(#ga11)"/>
<rect x="61.0" y="98.0" width="553.0" height="1.0" fill="rgb(82,26,0)" opacity="0.60"/>
<rect x="0.0" y="102.5" width="614.0" height="1.0" fill="rgb(128,26,0)" opacity="1.00"/>
<rect x="0.0" y="105.5" width="614.0" height="1.0" fill="rgb(135,26,0)" opacity="0.70"/>
<rect x="0.0" y="110.6" width="614.0" height="1.0" fill="rgb(128,26,0)" opacity="1.00"/>
<rect x="0.0" y="114.0" width="614.0" height="1.0" fill="rgb(158,26,0)" opacity="0.80"/>
<rect x="0.0" y="118.7" width="614.0" height="1.0" fill="rgb(82,26,0)" opacity="1.00"/>
<rect x="0.0" y="122.8" width="614.0" height="1.0" fill="rgb(56,26,0)" opacity="0.70"/>
<rect x="0.0" y="125.4" width="614.0" height="2.0" fill="rgb(115,26,0)" opacity="1.00"/>
<rect x="0.0" y="129.0" width="614.0" height="2.5" fill="rgb(107,26,0)" opacity="1.00"/>
<rect x="0.0" y="133.5" width="614.0" height="1.0" fill="rgb(43,26,0)" opacity="1.00"/>
<rect x="0.0" y="138.1" width="614.0" height="1.0" fill="rgb(92,26,0)" opacity="1.00"/>
<rect x="0.0" y="142.1" width="614.0" height="1.0" fill="rgb(76,26,0)" opacity="1.00"/>
<rect x="0.0" y="146.5" width="614.0" height="1.0" fill="rgb(128,26,0)" opacity="0.60"/>
<rect x="1.0" y="83.5" width="1.0" height="73.0" fill="rgb(105,38,0)" opacity="0.47"/>
<rect x="9.0" y="77.7" width="1.0" height="66.1" fill="rgb(80,38,0)" opacity="0.65"/>
<rect x="12.0" y="78.9" width="1.0" height="77.6" fill="rgb(107,38,0)" opacity="0.40"/>
<rect x="28.0" y="78.5" width="1.0" height="72.6" fill="rgb(80,38,0)" opacity="0.34"/>
<rect x="30.0" y="82.5" width="1.0" height="74.0" fill="rgb(85,38,0)" opacity="0.44"/>
<rect x="33.0" y="84.8" width="1.0" height="71.7" fill="rgb(66,38,0)" opacity="0.78"/>
<rect x="38.0" y="85.7" width="1.0" height="70.8" fill="rgb(64,38,0)" opacity="0.30"/>
<rect x="40.0" y="82.6" width="1.0" height="73.9" fill="rgb(104,38,0)" opacity="0.79"/>
<rect x="53.0" y="84.2" width="1.0" height="56.8" fill="rgb(92,38,0)" opacity="0.77"/>
<rect x="66.0" y="82.4" width="1.0" height="74.1" fill="rgb(88,38,0)" opacity="0.71"/>
<rect x="91.0" y="87.4" width="1.0" height="69.1" fill="rgb(93,38,0)" opacity="0.30"/>
<rect x="94.0" y="87.3" width="1.0" height="69.2" fill="rgb(71,38,0)" opacity="0.41"/>
<rect x="119.0" y="84.0" width="1.0" height="72.5" fill="rgb(89,38,0)" opacity="0.79"/>
<rect x="124.0" y="79.3" width="1.0" height="62.6" fill="rgb(80,38,0)" opacity="0.67"/>
<rect x="136.0" y="78.9" width="1.0" height="77.6" fill="rgb(94,38,0)" opacity="0.49"/>
<rect x="139.0" y="79.9" width="1.0" height="76.6" fill="rgb(101,38,0)" opacity="0.58"/>
<rect x="144.0" y="87.3" width="1.0" height="69.2" fill="rgb(76,38,0)" opacity="0.57"/>
<rect x="144.0" y="78.8" width="1.0" height="77.7" fill="rgb(86,38,0)" opacity="0.56"/>
<rect x="145.0" y="81.3" width="1.0" height="54.7" fill="rgb(87,38,0)" opacity="0.57"/>
<rect x="147.0" y="81.1" width="1.0" height="75.4" fill="rgb(87,38,0)" opacity="0.57"/>
<rect x="166.0" y="85.8" width="1.0" height="41.6" fill="rgb(87,38,0)" opacity="0.67"/>
<rect x="175.0" y="83.0" width="1.0" height="73.5" fill="rgb(105,38,0)" opacity="0.46"/>
<rect x="194.0" y="85.2" width="1.0" height="65.0" fill="rgb(63,38,0)" opacity="0.31"/>
<rect x="196.0" y="87.1" width="1.0" height="69.4" fill="rgb(93,38,0)" opacity="0.44"/>
<rect x="199.0" y="81.9" width="1.0" height="74.6" fill="rgb(92,38,0)" opacity="0.58"/>
<rect x="225.0" y="77.8" width="1.0" height="78.7" fill="rgb(74,38,0)" opacity="0.57"/>
<rect x="230.0" y="85.7" width="1.0" height="70.8" fill="rgb(95,38,0)" opacity="0.44"/>
<rect x="233.0" y="83.9" width="1.0" height="72.6" fill="rgb(65,38,0)" opacity="0.81"/>
<rect x="234.0" y="85.5" width="1.0" height="71.0" fill="rgb(61,38,0)" opacity="0.33"/>
<rect x="239.0" y="78.1" width="1.0" height="78.4" fill="rgb(89,38,0)" opacity="0.84"/>
<rect x="240.0" y="86.8" width="1.0" height="54.3" fill="rgb(89,38,0)" opacity="0.81"/>
<rect x="244.0" y="81.0" width="1.0" height="75.5" fill="rgb(97,38,0)" opacity="0.48"/>
<rect x="245.0" y="78.9" width="1.0" height="77.6" fill="rgb(66,38,0)" opacity="0.72"/>
<rect x="250.0" y="83.8" width="1.0" height="56.4" fill="rgb(79,38,0)" opacity="0.82"/>
<rect x="266.0" y="87.2" width="1.0" height="69.3" fill="rgb(78,38,0)" opacity="0.50"/>
<rect x="267.0" y="81.9" width="1.0" height="74.6" fill="rgb(72,38,0)" opacity="0.33"/>
<rect x="274.0" y="77.8" width="1.0" height="78.7" fill="rgb(62,38,0)" opacity="0.39"/>
<rect x="283.0" y="86.6" width="1.0" height="69.9" fill="rgb(78,38,0)" opacity="0.82"/>
<rect x="293.0" y="87.1" width="1.0" height="42.7" fill="rgb(98,38,0)" opacity="0.31"/>
<rect x="301.0" y="85.1" width="1.0" height="34.3" fill="rgb(73,38,0)" opacity="0.56"/>
<rect x="308.0" y="85.9" width="1.0" height="70.6" fill="rgb(64,38,0)" opacity="0.59"/>
<rect x="309.0" y="85.8" width="1.0" height="70.7" fill="rgb(95,38,0)" opacity="0.69"/>
<rect x="310.0" y="80.4" width="1.0" height="63.0" fill="rgb(81,38,0)" opacity="0.51"/>
<rect x="315.0" y="83.9" width="1.0" height="53.1" fill="rgb(81,38,0)" opacity="0.34"/>
<rect x="338.0" y="81.7" width="1.0" height="64.7" fill="rgb(87,38,0)" opacity="0.63"/>
<rect x="339.0" y="82.4" width="1.0" height="68.7" fill="rgb(76,38,0)" opacity="0.79"/>
<rect x="340.0" y="82.7" width="1.0" height="68.7" fill="rgb(97,38,0)" opacity="0.56"/>
<rect x="374.0" y="84.1" width="1.0" height="56.9" fill="rgb(85,38,0)" opacity="0.44"/>
<rect x="388.0" y="76.9" width="1.0" height="53.1" fill="rgb(97,38,0)" opacity="0.31"/>
<rect x="391.0" y="85.8" width="1.0" height="70.7" fill="rgb(70,38,0)" opacity="0.66"/>
<rect x="398.0" y="86.1" width="1.0" height="70.4" fill="rgb(63,38,0)" opacity="0.34"/>
<rect x="412.0" y="78.8" width="1.0" height="77.7" fill="rgb(100,38,0)" opacity="0.43"/>
<rect x="413.0" y="77.7" width="1.0" height="78.2" fill="rgb(64,38,0)" opacity="0.33"/>
<rect x="415.0" y="85.0" width="1.0" height="71.5" fill="rgb(104,38,0)" opacity="0.42"/>
<rect x="418.0" y="83.9" width="1.0" height="72.6" fill="rgb(71,38,0)" opacity="0.84"/>
<rect x="423.0" y="79.8" width="1.0" height="53.4" fill="rgb(87,38,0)" opacity="0.45"/>
<rect x="427.0" y="80.6" width="1.0" height="75.9" fill="rgb(65,38,0)" opacity="0.74"/>
<rect x="432.0" y="84.5" width="1.0" height="72.0" fill="rgb(91,38,0)" opacity="0.44"/>
<rect x="435.0" y="85.9" width="1.0" height="70.6" fill="rgb(64,38,0)" opacity="0.62"/>
<rect x="436.0" y="85.2" width="1.0" height="71.3" fill="rgb(103,38,0)" opacity="0.62"/>
<rect x="442.0" y="79.1" width="1.0" height="77.4" fill="rgb(107,38,0)" opacity="0.79"/>
<rect x="453.0" y="86.9" width="1.0" height="69.6" fill="rgb(88,38,0)" opacity="0.62"/>
<rect x="487.0" y="79.8" width="1.0" height="76.7" fill="rgb(85,38,0)" opacity="0.59"/>
<rect x="488.0" y="84.6" width="1.0" height="71.9" fill="rgb(71,38,0)" opacity="0.84"/>
<rect x="488.0" y="81.7" width="1.0" height="74.8" fill="rgb(64,38,0)" opacity="0.47"/>
<rect x="488.0" y="86.2" width="1.0" height="32.8" fill="rgb(74,38,0)" opacity="0.44"/>
<rect x="492.0" y="87.1" width="1.0" height="69.4" fill="rgb(103,38,0)" opacity="0.54"/>
<rect x="492.0" y="79.9" width="1.0" height="41.7" fill="rgb(85,38,0)" opacity="0.51"/>
<rect x="493.0" y="77.9" width="1.0" height="73.6" fill="rgb(83,38,0)" opacity="0.43"/>
<rect x="494.0" y="78.9" width="1.0" height="76.8" fill="rgb(71,38,0)" opacity="0.66"/>
<rect x="515.0" y="81.8" width="1.0" height="52.9" fill="rgb(70,38,0)" opacity="0.53"/>
<rect x="516.0" y="80.8" width="1.0" height="75.7" fill="rgb(85,38,0)" opacity="0.43"/>
<rect x="518.0" y="86.5" width="1.0" height="70.0" fill="rgb(105,38,0)" opacity="0.40"/>
<rect x="531.0" y="86.0" width="1.0" height="38.4" fill="rgb(76,38,0)" opacity="0.55"/>
<rect x="533.0" y="86.9" width="1.0" height="69.6" fill="rgb(61,38,0)" opacity="0.80"/>
<rect x="537.0" y="85.5" width="1.0" height="38.3" fill="rgb(84,38,0)" opacity="0.53"/>
<rect x="547.0" y="82.2" width="1.0" height="74.3" fill="rgb(72,38,0)" opacity="0.39"/>
<rect x="548.0" y="78.7" width="1.0" height="77.8" fill="rgb(104,38,0)" opacity="0.77"/>
<rect x="570.0" y="82.9" width="1.0" height="73.6" fill="rgb(97,38,0)" opacity="0.52"/>
<rect x="572.0" y="85.7" width="1.0" height="48.7" fill="rgb(63,38,0)" opacity="0.67"/>
<rect x="575.0" y="84.6" width="1.0" height="71.9" fill="rgb(88,38,0)" opacity="0.79"/>
<rect x="581.0" y="86.2" width="1.0" height="70.3" fill="rgb(71,38,0)" opacity="0.55"/>
<rect x="595.0" y="84.1" width="1.0" height="72.4" fill="rgb(95,38,0)" opacity="0.51"/>
<rect x="605.0" y="86.0" width="1.0" height="40.3" fill="rgb(86,38,0)" opacity="0.85"/>
<rect x="610.0" y="82.2" width="1.0" height="74.3" fill="rgb(89,38,0)" opacity="0.60"/>
</g>
<rect x="0.0" y="146.5" width="614.0" height="1.0" fill="rgb(190,170,80)" opacity="0.80"/><rect x="0.0" y="148.7" width="614.0" height="1.0" fill="rgb(180,100,50)" opacity="0.70"/><rect x="0.0" y="150.7" width="614.0" height="1.0" fill="rgb(150,220,60)" opacity="0.60"/>
</svg>
<svg x="79" y="332" width="614" height="157" viewBox="0 0 614 157" overflow="hidden">
<defs>
<filter id="cmb" filterUnits="userSpaceOnUse" x="0" y="0" width="614" height="157" color-interpolation-filters="sRGB">
<feColorMatrix in="SourceGraphic" type="matrix" values="0 1 0 0 0 0 1 0 0 0 0 1 0 0 0 0 0 0 0 1" result="AG"/>
<feColorMatrix in="SourceGraphic" type="matrix" values="0 0 1 0 0 0 0 1 0 0 0 0 1 0 0 0 0 0 0 1" result="AB"/>
<feColorMatrix in="SourceGraphic" type="matrix" values="1 0 0 0 0 1 0 0 0 0 1 0 0 0 0 0 0 0 0 1" result="R"/>
<feTurbulence type="fractalNoise" baseFrequency="1.3 1.1" numOctaves="1" seed="8" result="T1"/>
<feColorMatrix in="T1" type="matrix" values="1 0 0 0 0 1 0 0 0 0 1 0 0 0 0 0 0 0 0 1" result="T1r"/>
<feComponentTransfer in="T1r" result="N1"><feFuncR type="table" tableValues="0.000 0.000 0.000 0.000 0.000 0.000 0.000 0.000 0.000 0.000 0.000 0.000 0.000 0.000 0.000 0.000 0.000 0.000 0.000 0.000 0.000 0.000 0.000 0.000 0.000 0.000 0.000 0.000 0.000 0.000 0.000 0.310 0.320 0.330 0.340 0.350 0.360 0.370 0.380 0.390 0.400 0.410 0.420 0.430 0.440 0.450 0.460 0.470 0.480 0.490 0.500 0.510 0.520 0.530 0.540 0.550 0.560 0.570 0.580 0.590 0.600 0.610 0.620 0.630 0.640 0.650 0.660 0.670 0.680 0.690 0.700 0.710 0.720 0.730 0.740 0.750 0.760 0.770 0.780 0.790 0.800 0.810 0.820 0.830 0.840 0.850 0.860 0.870 0.880 0.890 0.900 0.910 0.920 0.930 0.940 0.950 0.960 0.970 0.980 0.990 1.000"/><feFuncG type="table" tableValues="0.000 0.000 0.000 0.000 0.000 0.000 0.000 0.000 0.000 0.000 0.000 0.000 0.000 0.000 0.000 0.000 0.000 0.000 0.000 0.000 0.000 0.000 0.000 0.000 0.000 0.000 0.000 0.000 0.000 0.000 0.000 0.310 0.320 0.330 0.340 0.350 0.360 0.370 0.380 0.390 0.400 0.410 0.420 0.430 0.440 0.450 0.460 0.470 0.480 0.490 0.500 0.510 0.520 0.530 0.540 0.550 0.560 0.570 0.580 0.590 0.600 0.610 0.620 0.630 0.640 0.650 0.660 0.670 0.680 0.690 0.700 0.710 0.720 0.730 0.740 0.750 0.760 0.770 0.780 0.790 0.800 0.810 0.820 0.830 0.840 0.850 0.860 0.870 0.880 0.890 0.900 0.910 0.920 0.930 0.940 0.950 0.960 0.970 0.980 0.990 1.000"/><feFuncB type="table" tableValues="0.000 0.000 0.000 0.000 0.000 0.000 0.000 0.000 0.000 0.000 0.000 0.000 0.000 0.000 0.000 0.000 0.000 0.000 0.000 0.000 0.000 0.000 0.000 0.000 0.000 0.000 0.000 0.000 0.000 0.000 0.000 0.310 0.320 0.330 0.340 0.350 0.360 0.370 0.380 0.390 0.400 0.410 0.420 0.430 0.440 0.450 0.460 0.470 0.480 0.490 0.500 0.510 0.520 0.530 0.540 0.550 0.560 0.570 0.580 0.590 0.600 0.610 0.620 0.630 0.640 0.650 0.660 0.670 0.680 0.690 0.700 0.710 0.720 0.730 0.740 0.750 0.760 0.770 0.780 0.790 0.800 0.810 0.820 0.830 0.840 0.850 0.860 0.870 0.880 0.890 0.900 0.910 0.920 0.930 0.940 0.950 0.960 0.970 0.980 0.990 1.000"/></feComponentTransfer>
<feTurbulence type="fractalNoise" baseFrequency="0.5 0.006" numOctaves="2" seed="25" result="T2"/>
<feColorMatrix in="T2" type="matrix" values="3 0 0 0 -1 3 0 0 0 -1 3 0 0 0 -1 0 0 0 0 1" result="N2"/>
<feComposite in="AG" in2="N1" operator="arithmetic" k1="1" k2="-0.5" k3="0" k4="0.5" result="M1"/>
<feComposite in="AB" in2="N2" operator="arithmetic" k1="1" k2="-0.5" k3="0" k4="0.5" result="M2"/>
<feComposite in="R" in2="M1" operator="arithmetic" k1="0" k2="1" k3="1" k4="-0.5" result="S1"/>
<feComposite in="S1" in2="M2" operator="arithmetic" k1="0" k2="1" k3="1" k4="-0.5" result="S"/>
<feComponentTransfer in="S"><feFuncR type="table" tableValues="0.000 0.000 0.000 0.000 0.000 0.000 0.000 0.000 0.000 0.000 0.000 0.000 0.000 0.000 0.000 0.000 0.000 0.000 0.000 0.000 0.000 0.000 0.000 0.000 0.000 0.000 0.000 0.000 0.000 0.000 0.000 0.000 0.000 0.000 0.000 0.000 0.000 0.000 0.000 0.000 0.000 0.000 0.000 0.000 0.000 0.000 0.000 0.000 0.000 0.000 0.000 0.000 0.000 0.000 0.000 0.024 0.086 0.148 0.209 0.271 0.333 0.394 0.448 0.502 0.556 0.610 0.665 0.713 0.761 0.809 0.857 0.905 0.944 0.958 0.971 0.984 0.997 1.000 1.000 1.000 1.000 1.000 1.000 1.000 1.000 1.000 1.000 0.999 0.990 0.981 0.972 0.963 0.954 0.945 0.941 0.941 0.941 0.941 0.941 0.941 0.942 0.948 0.955 0.961 0.968 0.975 0.981 0.988 0.994 1.000 1.000 1.000 1.000 1.000 1.000 1.000 1.000 1.000 1.000 1.000 0.998 0.996 0.993 0.991 0.988 0.986 0.983 0.980"/><feFuncG type="table" tableValues="0.000 0.000 0.000 0.000 0.000 0.000 0.000 0.000 0.000 0.000 0.000 0.000 0.000 0.000 0.000 0.000 0.000 0.000 0.000 0.000 0.044 0.090 0.137 0.183 0.229 0.307 0.389 0.472 0.552 0.598 0.644 0.691 0.737 0.783 0.815 0.845 0.876 0.907 0.938 0.941 0.941 0.941 0.941 0.941 0.941 0.941 0.941 0.941 0.941 0.941 0.941 0.941 0.941 0.941 0.941 0.941 0.941 0.941 0.941 0.941 0.941 0.941 0.933 0.925 0.918 0.910 0.902 0.909 0.915 0.922 0.929 0.936 0.935 0.908 0.882 0.855 0.829 0.789 0.746 0.703 0.660 0.617 0.568 0.508 0.447 0.387 0.327 0.269 0.227 0.186 0.144 0.103 0.061 0.020 0.013 0.037 0.061 0.085 0.110 0.134 0.158 0.189 0.220 0.251 0.282 0.313 0.344 0.375 0.405 0.437 0.470 0.504 0.537 0.571 0.604 0.638 0.671 0.705 0.738 0.772 0.799 0.822 0.845 0.868 0.891 0.914 0.938 0.961"/><feFuncB type="table" tableValues="0.118 0.149 0.179 0.210 0.241 0.272 0.303 0.334 0.372 0.421 0.471 0.520 0.569 0.619 0.668 0.722 0.776 0.830 0.884 0.938 0.941 0.941 0.941 0.941 0.941 0.941 0.941 0.941 0.941 0.941 0.941 0.941 0.941 0.941 0.934 0.926 0.918 0.910 0.903 0.859 0.811 0.763 0.715 0.667 0.615 0.546 0.478 0.409 0.340 0.272 0.214 0.167 0.121 0.075 0.028 0.000 0.000 0.000 0.000 0.000 0.000 0.000 0.000 0.000 0.000 0.000 0.000 0.000 0.000 0.000 0.000 0.000 0.000 0.000 0.000 0.000 0.000 0.000 0.000 0.000 0.000 0.000 0.000 0.000 0.000 0.000 0.000 0.000 0.000 0.000 0.000 0.000 0.000 0.000 0.013 0.037 0.061 0.085 0.110 0.134 0.158 0.189 0.220 0.251 0.282 0.313 0.344 0.375 0.405 0.437 0.470 0.504 0.537 0.571 0.604 0.638 0.671 0.705 0.738 0.772 0.799 0.822 0.845 0.868 0.891 0.914 0.938 0.961"/><feFuncA type="identity"/></feComponentTransfer>
</filter>
<linearGradient id="gb0" x1="0" y1="0" x2="0" y2="1">
<stop offset="0.0032" stop-color="rgb(109,76,26)"/>
<stop offset="0.1025" stop-color="rgb(110,76,26)"/>
<stop offset="0.1522" stop-color="rgb(111,76,26)"/>
<stop offset="0.2019" stop-color="rgb(109,76,26)"/>
<stop offset="0.2417" stop-color="rgb(106,76,26)"/>
<stop offset="0.2516" stop-color="rgb(104,76,26)"/>
<stop offset="0.2715" stop-color="rgb(101,72,26)"/>
<stop offset="0.2913" stop-color="rgb(99,68,26)"/>
<stop offset="0.3013" stop-color="rgb(99,66,26)"/>
<stop offset="0.3211" stop-color="rgb(98,66,26)"/>
<stop offset="0.3410" stop-color="rgb(95,66,26)"/>
<stop offset="0.3609" stop-color="rgb(93,66,26)"/>
<stop offset="0.3708" stop-color="rgb(93,66,26)"/>
<stop offset="0.4006" stop-color="rgb(93,66,26)"/>
<stop offset="0.4304" stop-color="rgb(91,66,26)"/>
<stop offset="0.4603" stop-color="rgb(90,68,26)"/>
<stop offset="0.4901" stop-color="rgb(88,72,26)"/>
<stop offset="0.5000" stop-color="rgb(88,74,27)"/>
<stop offset="0.5099" stop-color="rgb(87,75,27)"/>
<stop offset="0.5199" stop-color="rgb(86,77,27)"/>
<stop offset="0.5298" stop-color="rgb(85,79,27)"/>
<stop offset="0.5348" stop-color="rgb(85,79,27)"/>
<stop offset="0.5397" stop-color="rgb(85,80,27)"/>
<stop offset="0.5497" stop-color="rgb(83,82,28)"/>
<stop offset="0.5596" stop-color="rgb(82,83,28)"/>
<stop offset="0.5696" stop-color="rgb(80,85,28)"/>
<stop offset="0.5795" stop-color="rgb(79,86,28)"/>
<stop offset="0.5994" stop-color="rgb(76,89,29)"/>
<stop offset="0.6292" stop-color="rgb(70,101,29)"/>
<stop offset="0.6391" stop-color="rgb(68,105,29)"/>
<stop offset="0.6490" stop-color="rgb(64,108,30)"/>
<stop offset="0.6590" stop-color="rgb(61,112,30)"/>
<stop offset="0.6689" stop-color="rgb(58,116,30)"/>
<stop offset="0.6888" stop-color="rgb(49,124,30)"/>
<stop offset="0.6987" stop-color="rgb(41,128,31)"/>
<stop offset="0.7037" stop-color="rgb(35,121,26)"/>
<stop offset="0.7087" stop-color="rgb(24,115,22)"/>
<stop offset="0.7136" stop-color="rgb(18,108,17)"/>
<stop offset="0.7186" stop-color="rgb(16,102,13)"/>
<stop offset="0.7981" stop-color="rgb(16,102,13)"/>
<stop offset="0.8975" stop-color="rgb(16,102,13)"/>
<stop offset="0.9471" stop-color="rgb(16,102,13)"/>
<stop offset="0.9620" stop-color="rgb(28,102,13)"/>
<stop offset="0.9670" stop-color="rgb(40,102,13)"/>
<stop offset="0.9769" stop-color="rgb(53,102,13)"/>
<stop offset="0.9869" stop-color="rgb(55,102,13)"/>
<stop offset="0.9968" stop-color="rgb(57,102,13)"/>
</linearGradient>
<linearGradient id="gb1" x1="0" y1="0" x2="0" y2="1">
<stop offset="0.0032" stop-color="rgb(114,76,26)"/>
<stop offset="0.1025" stop-color="rgb(115,76,26)"/>
<stop offset="0.1522" stop-color="rgb(115,76,26)"/>
<stop offset="0.2019" stop-color="rgb(114,76,26)"/>
<stop offset="0.2417" stop-color="rgb(110,76,26)"/>
<stop offset="0.2516" stop-color="rgb(109,76,26)"/>
<stop offset="0.2715" stop-color="rgb(106,72,26)"/>
<stop offset="0.2913" stop-color="rgb(103,68,26)"/>
<stop offset="0.3013" stop-color="rgb(102,66,26)"/>
<stop offset="0.3211" stop-color="rgb(101,66,26)"/>
<stop offset="0.3410" stop-color="rgb(98,66,26)"/>
<stop offset="0.3609" stop-color="rgb(96,66,26)"/>
<stop offset="0.3708" stop-color="rgb(95,66,26)"/>
<stop offset="0.4006" stop-color="rgb(95,66,26)"/>
<stop offset="0.4304" stop-color="rgb(94,66,26)"/>
<stop offset="0.4603" stop-color="rgb(92,68,26)"/>
<stop offset="0.4901" stop-color="rgb(91,72,26)"/>
<stop offset="0.5000" stop-color="rgb(90,74,27)"/>
<stop offset="0.5099" stop-color="rgb(89,75,27)"/>
<stop offset="0.5199" stop-color="rgb(88,77,27)"/>
<stop offset="0.5298" stop-color="rgb(88,79,27)"/>
<stop offset="0.5348" stop-color="rgb(87,79,27)"/>
<stop offset="0.5397" stop-color="rgb(87,80,27)"/>
<stop offset="0.5497" stop-color="rgb(85,82,28)"/>
<stop offset="0.5596" stop-color="rgb(84,83,28)"/>
<stop offset="0.5696" stop-color="rgb(83,85,28)"/>
<stop offset="0.5795" stop-color="rgb(81,86,28)"/>
<stop offset="0.5994" stop-color="rgb(78,89,29)"/>
<stop offset="0.6292" stop-color="rgb(72,101,29)"/>
<stop offset="0.6391" stop-color="rgb(70,105,29)"/>
<stop offset="0.6490" stop-color="rgb(67,108,30)"/>
<stop offset="0.6590" stop-color="rgb(64,112,30)"/>
<stop offset="0.6689" stop-color="rgb(61,116,30)"/>
<stop offset="0.6888" stop-color="rgb(51,124,30)"/>
<stop offset="0.6987" stop-color="rgb(43,128,31)"/>
<stop offset="0.7037" stop-color="rgb(37,121,26)"/>
<stop offset="0.7087" stop-color="rgb(26,115,22)"/>
<stop offset="0.7136" stop-color="rgb(20,108,17)"/>
<stop offset="0.7186" stop-color="rgb(17,102,13)"/>
<stop offset="0.7981" stop-color="rgb(17,102,13)"/>
<stop offset="0.8975" stop-color="rgb(17,102,13)"/>
<stop offset="0.9471" stop-color="rgb(17,102,13)"/>
<stop offset="0.9620" stop-color="rgb(29,102,13)"/>
<stop offset="0.9670" stop-color="rgb(41,102,13)"/>
<stop offset="0.9769" stop-color="rgb(54,102,13)"/>
<stop offset="0.9869" stop-color="rgb(56,102,13)"/>
<stop offset="0.9968" stop-color="rgb(58,102,13)"/>
</linearGradient>
<linearGradient id="gb2" x1="0" y1="0" x2="0" y2="1">
<stop offset="0.0032" stop-color="rgb(119,76,26)"/>
<stop offset="0.1025" stop-color="rgb(120,76,26)"/>
<stop offset="0.1522" stop-color="rgb(120,76,26)"/>
<stop offset="0.2019" stop-color="rgb(119,76,26)"/>
<stop offset="0.2417" stop-color="rgb(115,76,26)"/>
<stop offset="0.2516" stop-color="rgb(113,76,26)"/>
<stop offset="0.2715" stop-color="rgb(110,72,26)"/>
<stop offset="0.2913" stop-color="rgb(107,68,26)"/>
<stop offset="0.3013" stop-color="rgb(106,66,26)"/>
<stop offset="0.3211" stop-color="rgb(104,66,26)"/>
<stop offset="0.3410" stop-color="rgb(101,66,26)"/>
<stop offset="0.3609" stop-color="rgb(98,66,26)"/>
<stop offset="0.3708" stop-color="rgb(98,66,26)"/>
<stop offset="0.4006" stop-color="rgb(97,66,26)"/>
<stop offset="0.4304" stop-color="rgb(96,66,26)"/>
<stop offset="0.4603" stop-color="rgb(94,68,26)"/>
<stop offset="0.4901" stop-color="rgb(93,72,26)"/>
<stop offset="0.5000" stop-color="rgb(92,74,27)"/>
<stop offset="0.5099" stop-color="rgb(91,75,27)"/>
<stop offset="0.5199" stop-color="rgb(91,77,27)"/>
<stop offset="0.5298" stop-color="rgb(90,79,27)"/>
<stop offset="0.5348" stop-color="rgb(90,79,27)"/>
<stop offset="0.5397" stop-color="rgb(89,80,27)"/>
<stop offset="0.5497" stop-color="rgb(88,82,28)"/>
<stop offset="0.5596" stop-color="rgb(86,83,28)"/>
<stop offset="0.5696" stop-color="rgb(85,85,28)"/>
<stop offset="0.5795" stop-color="rgb(84,86,28)"/>
<stop offset="0.5994" stop-color="rgb(81,89,29)"/>
<stop offset="0.6292" stop-color="rgb(75,101,29)"/>
<stop offset="0.6391" stop-color="rgb(73,105,29)"/>
<stop offset="0.6490" stop-color="rgb(69,108,30)"/>
<stop offset="0.6590" stop-color="rgb(66,112,30)"/>
<stop offset="0.6689" stop-color="rgb(63,116,30)"/>
<stop offset="0.6888" stop-color="rgb(54,124,30)"/>
<stop offset="0.6987" stop-color="rgb(45,128,31)"/>
<stop offset="0.7037" stop-color="rgb(39,121,26)"/>
<stop offset="0.7087" stop-color="rgb(28,115,22)"/>
<stop offset="0.7136" stop-color="rgb(21,108,17)"/>
<stop offset="0.7186" stop-color="rgb(19,102,13)"/>
<stop offset="0.7981" stop-color="rgb(19,102,13)"/>
<stop offset="0.8975" stop-color="rgb(19,102,13)"/>
<stop offset="0.9471" stop-color="rgb(19,102,13)"/>
<stop offset="0.9620" stop-color="rgb(31,102,13)"/>
<stop offset="0.9670" stop-color="rgb(43,102,13)"/>
<stop offset="0.9769" stop-color="rgb(56,102,13)"/>
<stop offset="0.9869" stop-color="rgb(58,102,13)"/>
<stop offset="0.9968" stop-color="rgb(60,102,13)"/>
</linearGradient>
<linearGradient id="gb3" x1="0" y1="0" x2="0" y2="1">
<stop offset="0.0032" stop-color="rgb(124,76,26)"/>
<stop offset="0.1025" stop-color="rgb(125,76,26)"/>
<stop offset="0.1522" stop-color="rgb(125,76,26)"/>
<stop offset="0.2019" stop-color="rgb(124,76,26)"/>
<stop offset="0.2417" stop-color="rgb(120,76,26)"/>
<stop offset="0.2516" stop-color="rgb(118,76,26)"/>
<stop offset="0.2715" stop-color="rgb(114,72,26)"/>
<stop offset="0.2913" stop-color="rgb(111,68,26)"/>
<stop offset="0.3013" stop-color="rgb(110,66,26)"/>
<stop offset="0.3211" stop-color="rgb(107,66,26)"/>
<stop offset="0.3410" stop-color="rgb(103,66,26)"/>
<stop offset="0.3609" stop-color="rgb(101,66,26)"/>
<stop offset="0.3708" stop-color="rgb(100,66,26)"/>
<stop offset="0.4006" stop-color="rgb(99,66,26)"/>
<stop offset="0.4304" stop-color="rgb(98,66,26)"/>
<stop offset="0.4603" stop-color="rgb(97,68,26)"/>
<stop offset="0.4901" stop-color="rgb(95,72,26)"/>
<stop offset="0.5000" stop-color="rgb(94,74,27)"/>
<stop offset="0.5099" stop-color="rgb(94,75,27)"/>
<stop offset="0.5199" stop-color="rgb(93,77,27)"/>
<stop offset="0.5298" stop-color="rgb(92,79,27)"/>
<stop offset="0.5348" stop-color="rgb(92,79,27)"/>
<stop offset="0.5397" stop-color="rgb(91,80,27)"/>
<stop offset="0.5497" stop-color="rgb(90,82,28)"/>
<stop offset="0.5596" stop-color="rgb(89,83,28)"/>
<stop offset="0.5696" stop-color="rgb(87,85,28)"/>
<stop offset="0.5795" stop-color="rgb(86,86,28)"/>
<stop offset="0.5994" stop-color="rgb(83,89,29)"/>
<stop offset="0.6292" stop-color="rgb(77,101,29)"/>
<stop offset="0.6391" stop-color="rgb(75,105,29)"/>
<stop offset="0.6490" stop-color="rgb(72,108,30)"/>
<stop offset="0.6590" stop-color="rgb(69,112,30)"/>
<stop offset="0.6689" stop-color="rgb(66,116,30)"/>
<stop offset="0.6888" stop-color="rgb(56,124,30)"/>
<stop offset="0.6987" stop-color="rgb(47,128,31)"/>
<stop offset="0.7037" stop-color="rgb(41,121,26)"/>
<stop offset="0.7087" stop-color="rgb(29,115,22)"/>
<stop offset="0.7136" stop-color="rgb(23,108,17)"/>
<stop offset="0.7186" stop-color="rgb(20,102,13)"/>
<stop offset="0.7981" stop-color="rgb(20,102,13)"/>
<stop offset="0.8975" stop-color="rgb(20,102,13)"/>
<stop offset="0.9471" stop-color="rgb(20,102,13)"/>
<stop offset="0.9620" stop-color="rgb(32,102,13)"/>
<stop offset="0.9670" stop-color="rgb(44,102,13)"/>
<stop offset="0.9769" stop-color="rgb(57,102,13)"/>
<stop offset="0.9869" stop-color="rgb(59,102,13)"/>
<stop offset="0.9968" stop-color="rgb(61,102,13)"/>
</linearGradient>
<linearGradient id="gb4" x1="0" y1="0" x2="0" y2="1">
<stop offset="0.0032" stop-color="rgb(128,76,26)"/>
<stop offset="0.1025" stop-color="rgb(129,76,26)"/>
<stop offset="0.1522" stop-color="rgb(130,76,26)"/>
<stop offset="0.2019" stop-color="rgb(128,76,26)"/>
<stop offset="0.2417" stop-color="rgb(125,76,26)"/>
<stop offset="0.2516" stop-color="rgb(123,76,26)"/>
<stop offset="0.2715" stop-color="rgb(119,72,26)"/>
<stop offset="0.2913" stop-color="rgb(115,68,26)"/>
<stop offset="0.3013" stop-color="rgb(113,66,26)"/>
<stop offset="0.3211" stop-color="rgb(110,66,26)"/>
<stop offset="0.3410" stop-color="rgb(106,66,26)"/>
<stop offset="0.3609" stop-color="rgb(103,66,26)"/>
<stop offset="0.3708" stop-color="rgb(103,66,26)"/>
<stop offset="0.4006" stop-color="rgb(102,66,26)"/>
<stop offset="0.4304" stop-color="rgb(100,66,26)"/>
<stop offset="0.4603" stop-color="rgb(99,68,26)"/>
<stop offset="0.4901" stop-color="rgb(97,72,26)"/>
<stop offset="0.5000" stop-color="rgb(97,74,27)"/>
<stop offset="0.5099" stop-color="rgb(96,75,27)"/>
<stop offset="0.5199" stop-color="rgb(95,77,27)"/>
<stop offset="0.5298" stop-color="rgb(94,79,27)"/>
<stop offset="0.5348" stop-color="rgb(94,79,27)"/>
<stop offset="0.5397" stop-color="rgb(94,80,27)"/>
<stop offset="0.5497" stop-color="rgb(92,82,28)"/>
<stop offset="0.5596" stop-color="rgb(91,83,28)"/>
<stop offset="0.5696" stop-color="rgb(90,85,28)"/>
<stop offset="0.5795" stop-color="rgb(88,86,28)"/>
<stop offset="0.5994" stop-color="rgb(86,89,29)"/>
<stop offset="0.6292" stop-color="rgb(80,101,29)"/>
<stop offset="0.6391" stop-color="rgb(78,105,29)"/>
<stop offset="0.6490" stop-color="rgb(74,108,30)"/>
<stop offset="0.6590" stop-color="rgb(71,112,30)"/>
<stop offset="0.6689" stop-color="rgb(68,116,30)"/>
<stop offset="0.6888" stop-color="rgb(58,124,30)"/>
<stop offset="0.6987" stop-color="rgb(49,128,31)"/>
<stop offset="0.7037" stop-color="rgb(43,121,26)"/>
<stop offset="0.7087" stop-color="rgb(31,115,22)"/>
<stop offset="0.7136" stop-color="rgb(25,108,17)"/>
<stop offset="0.7186" stop-color="rgb(22,102,13)"/>
<stop offset="0.7981" stop-color="rgb(22,102,13)"/>
<stop offset="0.8975" stop-color="rgb(22,102,13)"/>
<stop offset="0.9471" stop-color="rgb(22,102,13)"/>
<stop offset="0.9620" stop-color="rgb(34,102,13)"/>
<stop offset="0.9670" stop-color="rgb(46,102,13)"/>
<stop offset="0.9769" stop-color="rgb(59,102,13)"/>
<stop offset="0.9869" stop-color="rgb(61,102,13)"/>
<stop offset="0.9968" stop-color="rgb(63,102,13)"/>
</linearGradient>
<linearGradient id="gb5" x1="0" y1="0" x2="0" y2="1">
<stop offset="0.0032" stop-color="rgb(133,76,26)"/>
<stop offset="0.1025" stop-color="rgb(134,76,26)"/>
<stop offset="0.1522" stop-color="rgb(134,76,26)"/>
<stop offset="0.2019" stop-color="rgb(133,76,26)"/>
<stop offset="0.2417" stop-color="rgb(129,76,26)"/>
<stop offset="0.2516" stop-color="rgb(127,76,26)"/>
<stop offset="0.2715" stop-color="rgb(123,72,26)"/>
<stop offset="0.2913" stop-color="rgb(119,68,26)"/>
<stop offset="0.3013" stop-color="rgb(117,66,26)"/>
<stop offset="0.3211" stop-color="rgb(113,66,26)"/>
<stop offset="0.3410" stop-color="rgb(109,66,26)"/>
<stop offset="0.3609" stop-color="rgb(106,66,26)"/>
<stop offset="0.3708" stop-color="rgb(105,66,26)"/>
<stop offset="0.4006" stop-color="rgb(104,66,26)"/>
<stop offset="0.4304" stop-color="rgb(102,66,26)"/>
<stop offset="0.4603" stop-color="rgb(101,68,26)"/>
<stop offset="0.4901" stop-color="rgb(99,72,26)"/>
<stop offset="0.5000" stop-color="rgb(99,74,27)"/>
<stop offset="0.5099" stop-color="rgb(98,75,27)"/>
<stop offset="0.5199" stop-color="rgb(97,77,27)"/>
<stop offset="0.5298" stop-color="rgb(97,79,27)"/>
<stop offset="0.5348" stop-color="rgb(96,79,27)"/>
<stop offset="0.5397" stop-color="rgb(96,80,27)"/>
<stop offset="0.5497" stop-color="rgb(95,82,28)"/>
<stop offset="0.5596" stop-color="rgb(93,83,28)"/>
<stop offset="0.5696" stop-color="rgb(92,85,28)"/>
<stop offset="0.5795" stop-color="rgb(91,86,28)"/>
<stop offset="0.5994" stop-color="rgb(88,89,29)"/>
<stop offset="0.6292" stop-color="rgb(82,101,29)"/>
<stop offset="0.6391" stop-color="rgb(80,105,29)"/>
<stop offset="0.6490" stop-color="rgb(77,108,30)"/>
<stop offset="0.6590" stop-color="rgb(74,112,30)"/>
<stop offset="0.6689" stop-color="rgb(70,116,30)"/>
<stop offset="0.6888" stop-color="rgb(60,124,30)"/>
<stop offset="0.6987" stop-color="rgb(52,128,31)"/>
<stop offset="0.7037" stop-color="rgb(45,121,26)"/>
<stop offset="0.7087" stop-color="rgb(33,115,22)"/>
<stop offset="0.7136" stop-color="rgb(26,108,17)"/>
<stop offset="0.7186" stop-color="rgb(23,102,13)"/>
<stop offset="0.7981" stop-color="rgb(23,102,13)"/>
<stop offset="0.8975" stop-color="rgb(23,102,13)"/>
<stop offset="0.9471" stop-color="rgb(23,102,13)"/>
<stop offset="0.9620" stop-color="rgb(35,102,13)"/>
<stop offset="0.9670" stop-color="rgb(47,102,13)"/>
<stop offset="0.9769" stop-color="rgb(60,102,13)"/>
<stop offset="0.9869" stop-color="rgb(62,102,13)"/>
<stop offset="0.9968" stop-color="rgb(64,102,13)"/>
</linearGradient>
<linearGradient id="gb6" x1="0" y1="0" x2="0" y2="1">
<stop offset="0.0032" stop-color="rgb(138,76,26)"/>
<stop offset="0.1025" stop-color="rgb(139,76,26)"/>
<stop offset="0.1522" stop-color="rgb(139,76,26)"/>
<stop offset="0.2019" stop-color="rgb(138,76,26)"/>
<stop offset="0.2417" stop-color="rgb(134,76,26)"/>
<stop offset="0.2516" stop-color="rgb(132,76,26)"/>
<stop offset="0.2715" stop-color="rgb(128,72,26)"/>
<stop offset="0.2913" stop-color="rgb(123,68,26)"/>
<stop offset="0.3013" stop-color="rgb(121,66,26)"/>
<stop offset="0.3211" stop-color="rgb(116,66,26)"/>
<stop offset="0.3410" stop-color="rgb(112,66,26)"/>
<stop offset="0.3609" stop-color="rgb(108,66,26)"/>
<stop offset="0.3708" stop-color="rgb(108,66,26)"/>
<stop offset="0.4006" stop-color="rgb(106,66,26)"/>
<stop offset="0.4304" stop-color="rgb(105,66,26)"/>
<stop offset="0.4603" stop-color="rgb(103,68,26)"/>
<stop offset="0.4901" stop-color="rgb(102,72,26)"/>
<stop offset="0.5000" stop-color="rgb(101,74,27)"/>
<stop offset="0.5099" stop-color="rgb(100,75,27)"/>
<stop offset="0.5199" stop-color="rgb(100,77,27)"/>
<stop offset="0.5298" stop-color="rgb(99,79,27)"/>
<stop offset="0.5348" stop-color="rgb(99,79,27)"/>
<stop offset="0.5397" stop-color="rgb(98,80,27)"/>
<stop offset="0.5497" stop-color="rgb(97,82,28)"/>
<stop offset="0.5596" stop-color="rgb(96,83,28)"/>
<stop offset="0.5696" stop-color="rgb(94,85,28)"/>
<stop offset="0.5795" stop-color="rgb(93,86,28)"/>
<stop offset="0.5994" stop-color="rgb(91,89,29)"/>
<stop offset="0.6292" stop-color="rgb(85,101,29)"/>
<stop offset="0.6391" stop-color="rgb(83,105,29)"/>
<stop offset="0.6490" stop-color="rgb(79,108,30)"/>
<stop offset="0.6590" stop-color="rgb(76,112,30)"/>
<stop offset="0.6689" stop-color="rgb(73,116,30)"/>
<stop offset="0.6888" stop-color="rgb(63,124,30)"/>
<stop offset="0.6987" stop-color="rgb(54,128,31)"/>
<stop offset="0.7037" stop-color="rgb(47,121,26)"/>
<stop offset="0.7087" stop-color="rgb(35,115,22)"/>
<stop offset="0.7136" stop-color="rgb(28,108,17)"/>
<stop offset="0.7186" stop-color="rgb(25,102,13)"/>
<stop offset="0.7981" stop-color="rgb(25,102,13)"/>
<stop offset="0.8975" stop-color="rgb(25,102,13)"/>
<stop offset="0.9471" stop-color="rgb(25,102,13)"/>
<stop offset="0.9620" stop-color="rgb(37,102,13)"/>
<stop offset="0.9670" stop-color="rgb(49,102,13)"/>
<stop offset="0.9769" stop-color="rgb(61,102,13)"/>
<stop offset="0.9869" stop-color="rgb(64,102,13)"/>
<stop offset="0.9968" stop-color="rgb(66,102,13)"/>
</linearGradient>
<linearGradient id="gb7" x1="0" y1="0" x2="0" y2="1">
<stop offset="0.0032" stop-color="rgb(143,76,26)"/>
<stop offset="0.1025" stop-color="rgb(143,76,26)"/>
<stop offset="0.1522" stop-color="rgb(144,76,26)"/>
<stop offset="0.2019" stop-color="rgb(143,76,26)"/>
<stop offset="0.2417" stop-color="rgb(139,76,26)"/>
<stop offset="0.2516" stop-color="rgb(137,76,26)"/>
<stop offset="0.2715" stop-color="rgb(132,72,26)"/>
<stop offset="0.2913" stop-color="rgb(127,68,26)"/>
<stop offset="0.3013" stop-color="rgb(124,66,26)"/>
<stop offset="0.3211" stop-color="rgb(119,66,26)"/>
<stop offset="0.3410" stop-color="rgb(114,66,26)"/>
<stop offset="0.3609" stop-color="rgb(111,66,26)"/>
<stop offset="0.3708" stop-color="rgb(110,66,26)"/>
<stop offset="0.4006" stop-color="rgb(108,66,26)"/>
<stop offset="0.4304" stop-color="rgb(107,66,26)"/>
<stop offset="0.4603" stop-color="rgb(105,68,26)"/>
<stop offset="0.4901" stop-color="rgb(104,72,26)"/>
<stop offset="0.5000" stop-color="rgb(103,74,27)"/>
<stop offset="0.5099" stop-color="rgb(102,75,27)"/>
<stop offset="0.5199" stop-color="rgb(102,77,27)"/>
<stop offset="0.5298" stop-color="rgb(101,79,27)"/>
<stop offset="0.5348" stop-color="rgb(101,79,27)"/>
<stop offset="0.5397" stop-color="rgb(101,80,27)"/>
<stop offset="0.5497" stop-color="rgb(99,82,28)"/>
<stop offset="0.5596" stop-color="rgb(98,83,28)"/>
<stop offset="0.5696" stop-color="rgb(97,85,28)"/>
<stop offset="0.5795" stop-color="rgb(96,86,28)"/>
<stop offset="0.5994" stop-color="rgb(93,89,29)"/>
<stop offset="0.6292" stop-color="rgb(87,101,29)"/>
<stop offset="0.6391" stop-color="rgb(85,105,29)"/>
<stop offset="0.6490" stop-color="rgb(82,108,30)"/>
<stop offset="0.6590" stop-color="rgb(79,112,30)"/>
<stop offset="0.6689" stop-color="rgb(75,116,30)"/>
<stop offset="0.6888" stop-color="rgb(65,124,30)"/>
<stop offset="0.6987" stop-color="rgb(56,128,31)"/>
<stop offset="0.7037" stop-color="rgb(49,121,26)"/>
<stop offset="0.7087" stop-color="rgb(37,115,22)"/>
<stop offset="0.7136" stop-color="rgb(30,108,17)"/>
<stop offset="0.7186" stop-color="rgb(26,102,13)"/>
<stop offset="0.7981" stop-color="rgb(26,102,13)"/>
<stop offset="0.8975" stop-color="rgb(26,102,13)"/>
<stop offset="0.9471" stop-color="rgb(26,102,13)"/>
<stop offset="0.9620" stop-color="rgb(38,102,13)"/>
<stop offset="0.9670" stop-color="rgb(50,102,13)"/>
<stop offset="0.9769" stop-color="rgb(63,102,13)"/>
<stop offset="0.9869" stop-color="rgb(65,102,13)"/>
<stop offset="0.9968" stop-color="rgb(67,102,13)"/>
</linearGradient>
<linearGradient id="gb8" x1="0" y1="0" x2="0" y2="1">
<stop offset="0.0032" stop-color="rgb(147,76,26)"/>
<stop offset="0.1025" stop-color="rgb(148,76,26)"/>
<stop offset="0.1522" stop-color="rgb(149,76,26)"/>
<stop offset="0.2019" stop-color="rgb(147,76,26)"/>
<stop offset="0.2417" stop-color="rgb(144,76,26)"/>
<stop offset="0.2516" stop-color="rgb(141,76,26)"/>
<stop offset="0.2715" stop-color="rgb(137,72,26)"/>
<stop offset="0.2913" stop-color="rgb(131,68,26)"/>
<stop offset="0.3013" stop-color="rgb(128,66,26)"/>
<stop offset="0.3211" stop-color="rgb(122,66,26)"/>
<stop offset="0.3410" stop-color="rgb(117,66,26)"/>
<stop offset="0.3609" stop-color="rgb(113,66,26)"/>
<stop offset="0.3708" stop-color="rgb(113,66,26)"/>
<stop offset="0.4006" stop-color="rgb(110,66,26)"/>
<stop offset="0.4304" stop-color="rgb(109,66,26)"/>
<stop offset="0.4603" stop-color="rgb(108,68,26)"/>
<stop offset="0.4901" stop-color="rgb(106,72,26)"/>
<stop offset="0.5000" stop-color="rgb(105,74,27)"/>
<stop offset="0.5099" stop-color="rgb(105,75,27)"/>
<stop offset="0.5199" stop-color="rgb(104,77,27)"/>
<stop offset="0.5298" stop-color="rgb(103,79,27)"/>
<stop offset="0.5348" stop-color="rgb(103,79,27)"/>
<stop offset="0.5397" stop-color="rgb(103,80,27)"/>
<stop offset="0.5497" stop-color="rgb(102,82,28)"/>
<stop offset="0.5596" stop-color="rgb(100,83,28)"/>
<stop offset="0.5696" stop-color="rgb(99,85,28)"/>
<stop offset="0.5795" stop-color="rgb(98,86,28)"/>
<stop offset="0.5994" stop-color="rgb(95,89,29)"/>
<stop offset="0.6292" stop-color="rgb(90,101,29)"/>
<stop offset="0.6391" stop-color="rgb(88,105,29)"/>
<stop offset="0.6490" stop-color="rgb(85,108,30)"/>
<stop offset="0.6590" stop-color="rgb(81,112,30)"/>
<stop offset="0.6689" stop-color="rgb(78,116,30)"/>
<stop offset="0.6888" stop-color="rgb(67,124,30)"/>
<stop offset="0.6987" stop-color="rgb(58,128,31)"/>
<stop offset="0.7037" stop-color="rgb(51,121,26)"/>
<stop offset="0.7087" stop-color="rgb(38,115,22)"/>
<stop offset="0.7136" stop-color="rgb(31,108,17)"/>
<stop offset="0.7186" stop-color="rgb(28,102,13)"/>
<stop offset="0.7981" stop-color="rgb(28,102,13)"/>
<stop offset="0.8975" stop-color="rgb(28,102,13)"/>
<stop offset="0.9471" stop-color="rgb(28,102,13)"/>
<stop offset="0.9620" stop-color="rgb(40,102,13)"/>
<stop offset="0.9670" stop-color="rgb(51,102,13)"/>
<stop offset="0.9769" stop-color="rgb(64,102,13)"/>
<stop offset="0.9869" stop-color="rgb(66,102,13)"/>
<stop offset="0.9968" stop-color="rgb(68,102,13)"/>
</linearGradient>
<linearGradient id="gb9" x1="0" y1="0" x2="0" y2="1">
<stop offset="0.0032" stop-color="rgb(152,76,26)"/>
<stop offset="0.1025" stop-color="rgb(153,76,26)"/>
<stop offset="0.1522" stop-color="rgb(153,76,26)"/>
<stop offset="0.2019" stop-color="rgb(152,76,26)"/>
<stop offset="0.2417" stop-color="rgb(148,76,26)"/>
<stop offset="0.2516" stop-color="rgb(146,76,26)"/>
<stop offset="0.2715" stop-color="rgb(141,72,26)"/>
<stop offset="0.2913" stop-color="rgb(135,68,26)"/>
<stop offset="0.3013" stop-color="rgb(132,66,26)"/>
<stop offset="0.3211" stop-color="rgb(125,66,26)"/>
<stop offset="0.3410" stop-color="rgb(120,66,26)"/>
<stop offset="0.3609" stop-color="rgb(116,66,26)"/>
<stop offset="0.3708" stop-color="rgb(115,66,26)"/>
<stop offset="0.4006" stop-color="rgb(113,66,26)"/>
<stop offset="0.4304" stop-color="rgb(111,66,26)"/>
<stop offset="0.4603" stop-color="rgb(110,68,26)"/>
<stop offset="0.4901" stop-color="rgb(108,72,26)"/>
<stop offset="0.5000" stop-color="rgb(107,74,27)"/>
<stop offset="0.5099" stop-color="rgb(107,75,27)"/>
<stop offset="0.5199" stop-color="rgb(106,77,27)"/>
<stop offset="0.5298" stop-color="rgb(106,79,27)"/>
<stop offset="0.5348" stop-color="rgb(105,79,27)"/>
<stop offset="0.5397" stop-color="rgb(105,80,27)"/>
<stop offset="0.5497" stop-color="rgb(104,82,28)"/>
<stop offset="0.5596" stop-color="rgb(103,83,28)"/>
<stop offset="0.5696" stop-color="rgb(102,85,28)"/>
<stop offset="0.5795" stop-color="rgb(100,86,28)"/>
<stop offset="0.5994" stop-color="rgb(98,89,29)"/>
<stop offset="0.6292" stop-color="rgb(92,101,29)"/>
<stop offset="0.6391" stop-color="rgb(90,105,29)"/>
<stop offset="0.6490" stop-color="rgb(87,108,30)"/>
<stop offset="0.6590" stop-color="rgb(84,112,30)"/>
<stop offset="0.6689" stop-color="rgb(80,116,30)"/>
<stop offset="0.6888" stop-color="rgb(69,124,30)"/>
<stop offset="0.6987" stop-color="rgb(60,128,31)"/>
<stop offset="0.7037" stop-color="rgb(53,121,26)"/>
<stop offset="0.7087" stop-color="rgb(40,115,22)"/>
<stop offset="0.7136" stop-color="rgb(33,108,17)"/>
<stop offset="0.7186" stop-color="rgb(29,102,13)"/>
<stop offset="0.7981" stop-color="rgb(29,102,13)"/>
<stop offset="0.8975" stop-color="rgb(29,102,13)"/>
<stop offset="0.9471" stop-color="rgb(29,102,13)"/>
<stop offset="0.9620" stop-color="rgb(41,102,13)"/>
<stop offset="0.9670" stop-color="rgb(53,102,13)"/>
<stop offset="0.9769" stop-color="rgb(66,102,13)"/>
<stop offset="0.9869" stop-color="rgb(68,102,13)"/>
<stop offset="0.9968" stop-color="rgb(70,102,13)"/>
</linearGradient>
<linearGradient id="gb10" x1="0" y1="0" x2="0" y2="1">
<stop offset="0.0032" stop-color="rgb(157,76,26)"/>
<stop offset="0.1025" stop-color="rgb(158,76,26)"/>
<stop offset="0.1522" stop-color="rgb(158,76,26)"/>
<stop offset="0.2019" stop-color="rgb(157,76,26)"/>
<stop offset="0.2417" stop-color="rgb(153,76,26)"/>
<stop offset="0.2516" stop-color="rgb(151,76,26)"/>
<stop offset="0.2715" stop-color="rgb(146,72,26)"/>
<stop offset="0.2913" stop-color="rgb(139,68,26)"/>
<stop offset="0.3013" stop-color="rgb(135,66,26)"/>
<stop offset="0.3211" stop-color="rgb(127,66,26)"/>
<stop offset="0.3410" stop-color="rgb(123,66,26)"/>
<stop offset="0.3609" stop-color="rgb(119,66,26)"/>
<stop offset="0.3708" stop-color="rgb(118,66,26)"/>
<stop offset="0.4006" stop-color="rgb(115,66,26)"/>
<stop offset="0.4304" stop-color="rgb(113,66,26)"/>
<stop offset="0.4603" stop-color="rgb(112,68,26)"/>
<stop offset="0.4901" stop-color="rgb(110,72,26)"/>
<stop offset="0.5000" stop-color="rgb(110,74,27)"/>
<stop offset="0.5099" stop-color="rgb(109,75,27)"/>
<stop offset="0.5199" stop-color="rgb(109,77,27)"/>
<stop offset="0.5298" stop-color="rgb(108,79,27)"/>
<stop offset="0.5348" stop-color="rgb(108,79,27)"/>
<stop offset="0.5397" stop-color="rgb(107,80,27)"/>
<stop offset="0.5497" stop-color="rgb(106,82,28)"/>
<stop offset="0.5596" stop-color="rgb(105,83,28)"/>
<stop offset="0.5696" stop-color="rgb(104,85,28)"/>
<stop offset="0.5795" stop-color="rgb(103,86,28)"/>
<stop offset="0.5994" stop-color="rgb(100,89,29)"/>
<stop offset="0.6292" stop-color="rgb(95,101,29)"/>
<stop offset="0.6391" stop-color="rgb(93,105,29)"/>
<stop offset="0.6490" stop-color="rgb(90,108,30)"/>
<stop offset="0.6590" stop-color="rgb(86,112,30)"/>
<stop offset="0.6689" stop-color="rgb(82,116,30)"/>
<stop offset="0.6888" stop-color="rgb(72,124,30)"/>
<stop offset="0.6987" stop-color="rgb(62,128,31)"/>
<stop offset="0.7037" stop-color="rgb(55,121,26)"/>
<stop offset="0.7087" stop-color="rgb(42,115,22)"/>
<stop offset="0.7136" stop-color="rgb(34,108,17)"/>
<stop offset="0.7186" stop-color="rgb(31,102,13)"/>
<stop offset="0.7981" stop-color="rgb(31,102,13)"/>
<stop offset="0.8975" stop-color="rgb(31,102,13)"/>
<stop offset="0.9471" stop-color="rgb(31,102,13)"/>
<stop offset="0.9620" stop-color="rgb(43,102,13)"/>
<stop offset="0.9670" stop-color="rgb(54,102,13)"/>
<stop offset="0.9769" stop-color="rgb(67,102,13)"/>
<stop offset="0.9869" stop-color="rgb(69,102,13)"/>
<stop offset="0.9968" stop-color="rgb(71,102,13)"/>
</linearGradient>
<linearGradient id="gb11" x1="0" y1="0" x2="0" y2="1">
<stop offset="0.0032" stop-color="rgb(162,76,26)"/>
<stop offset="0.1025" stop-color="rgb(162,76,26)"/>
<stop offset="0.1522" stop-color="rgb(163,76,26)"/>
<stop offset="0.2019" stop-color="rgb(162,76,26)"/>
<stop offset="0.2417" stop-color="rgb(158,76,26)"/>
<stop offset="0.2516" stop-color="rgb(155,76,26)"/>
<stop offset="0.2715" stop-color="rgb(150,72,26)"/>
<stop offset="0.2913" stop-color="rgb(143,68,26)"/>
<stop offset="0.3013" stop-color="rgb(139,66,26)"/>
<stop offset="0.3211" stop-color="rgb(130,66,26)"/>
<stop offset="0.3410" stop-color="rgb(125,66,26)"/>
<stop offset="0.3609" stop-color="rgb(121,66,26)"/>
<stop offset="0.3708" stop-color="rgb(120,66,26)"/>
<stop offset="0.4006" stop-color="rgb(117,66,26)"/>
<stop offset="0.4304" stop-color="rgb(116,66,26)"/>
<stop offset="0.4603" stop-color="rgb(114,68,26)"/>
<stop offset="0.4901" stop-color="rgb(112,72,26)"/>
<stop offset="0.5000" stop-color="rgb(112,74,27)"/>
<stop offset="0.5099" stop-color="rgb(111,75,27)"/>
<stop offset="0.5199" stop-color="rgb(111,77,27)"/>
<stop offset="0.5298" stop-color="rgb(110,79,27)"/>
<stop offset="0.5348" stop-color="rgb(110,79,27)"/>
<stop offset="0.5397" stop-color="rgb(110,80,27)"/>
<stop offset="0.5497" stop-color="rgb(109,82,28)"/>
<stop offset="0.5596" stop-color="rgb(107,83,28)"/>
<stop offset="0.5696" stop-color="rgb(106,85,28)"/>
<stop offset="0.5795" stop-color="rgb(105,86,28)"/>
<stop offset="0.5994" stop-color="rgb(103,89,29)"/>
<stop offset="0.6292" stop-color="rgb(97,101,29)"/>
<stop offset="0.6391" stop-color="rgb(96,105,29)"/>
<stop offset="0.6490" stop-color="rgb(92,108,30)"/>
<stop offset="0.6590" stop-color="rgb(88,112,30)"/>
<stop offset="0.6689" stop-color="rgb(85,116,30)"/>
<stop offset="0.6888" stop-color="rgb(74,124,30)"/>
<stop offset="0.6987" stop-color="rgb(65,128,31)"/>
<stop offset="0.7037" stop-color="rgb(57,121,26)"/>
<stop offset="0.7087" stop-color="rgb(44,115,22)"/>
<stop offset="0.7136" stop-color="rgb(36,108,17)"/>
<stop offset="0.7186" stop-color="rgb(32,102,13)"/>
<stop offset="0.7981" stop-color="rgb(32,102,13)"/>
<stop offset="0.8975" stop-color="rgb(32,102,13)"/>
<stop offset="0.9471" stop-color="rgb(32,102,13)"/>
<stop offset="0.9620" stop-color="rgb(44,102,13)"/>
<stop offset="0.9670" stop-color="rgb(56,102,13)"/>
<stop offset="0.9769" stop-color="rgb(69,102,13)"/>
<stop offset="0.9869" stop-color="rgb(71,102,13)"/>
<stop offset="0.9968" stop-color="rgb(73,102,13)"/>
</linearGradient>
<linearGradient id="gb12" x1="0" y1="0" x2="0" y2="1">
<stop offset="0.0032" stop-color="rgb(166,76,26)"/>
<stop offset="0.1025" stop-color="rgb(167,76,26)"/>
<stop offset="0.1522" stop-color="rgb(168,76,26)"/>
<stop offset="0.2019" stop-color="rgb(166,76,26)"/>
<stop offset="0.2417" stop-color="rgb(162,76,26)"/>
<stop offset="0.2516" stop-color="rgb(160,76,26)"/>
<stop offset="0.2715" stop-color="rgb(155,72,26)"/>
<stop offset="0.2913" stop-color="rgb(147,68,26)"/>
<stop offset="0.3013" stop-color="rgb(142,66,26)"/>
<stop offset="0.3211" stop-color="rgb(133,66,26)"/>
<stop offset="0.3410" stop-color="rgb(128,66,26)"/>
<stop offset="0.3609" stop-color="rgb(124,66,26)"/>
<stop offset="0.3708" stop-color="rgb(123,66,26)"/>
<stop offset="0.4006" stop-color="rgb(119,66,26)"/>
<stop offset="0.4304" stop-color="rgb(118,66,26)"/>
<stop offset="0.4603" stop-color="rgb(116,68,26)"/>
<stop offset="0.4901" stop-color="rgb(115,72,26)"/>
<stop offset="0.5000" stop-color="rgb(114,74,27)"/>
<stop offset="0.5099" stop-color="rgb(114,75,27)"/>
<stop offset="0.5199" stop-color="rgb(113,77,27)"/>
<stop offset="0.5298" stop-color="rgb(113,79,27)"/>
<stop offset="0.5348" stop-color="rgb(112,79,27)"/>
<stop offset="0.5397" stop-color="rgb(112,80,27)"/>
<stop offset="0.5497" stop-color="rgb(111,82,28)"/>
<stop offset="0.5596" stop-color="rgb(110,83,28)"/>
<stop offset="0.5696" stop-color="rgb(109,85,28)"/>
<stop offset="0.5795" stop-color="rgb(107,86,28)"/>
<stop offset="0.5994" stop-color="rgb(105,89,29)"/>
<stop offset="0.6292" stop-color="rgb(100,101,29)"/>
<stop offset="0.6391" stop-color="rgb(98,105,29)"/>
<stop offset="0.6490" stop-color="rgb(95,108,30)"/>
<stop offset="0.6590" stop-color="rgb(91,112,30)"/>
<stop offset="0.6689" stop-color="rgb(87,116,30)"/>
<stop offset="0.6888" stop-color="rgb(76,124,30)"/>
<stop offset="0.6987" stop-color="rgb(67,128,31)"/>
<stop offset="0.7037" stop-color="rgb(59,121,26)"/>
<stop offset="0.7087" stop-color="rgb(46,115,22)"/>
<stop offset="0.7136" stop-color="rgb(38,108,17)"/>
<stop offset="0.7186" stop-color="rgb(34,102,13)"/>
<stop offset="0.7981" stop-color="rgb(34,102,13)"/>
<stop offset="0.8975" stop-color="rgb(34,102,13)"/>
<stop offset="0.9471" stop-color="rgb(34,102,13)"/>
<stop offset="0.9620" stop-color="rgb(45,102,13)"/>
<stop offset="0.9670" stop-color="rgb(57,102,13)"/>
<stop offset="0.9769" stop-color="rgb(70,102,13)"/>
<stop offset="0.9869" stop-color="rgb(72,102,13)"/>
<stop offset="0.9968" stop-color="rgb(74,102,13)"/>
</linearGradient>
<linearGradient id="gb13" x1="0" y1="0" x2="0" y2="1">
<stop offset="0.0032" stop-color="rgb(171,76,26)"/>
<stop offset="0.1025" stop-color="rgb(172,76,26)"/>
<stop offset="0.1522" stop-color="rgb(172,76,26)"/>
<stop offset="0.2019" stop-color="rgb(171,76,26)"/>
<stop offset="0.2417" stop-color="rgb(167,76,26)"/>
<stop offset="0.2516" stop-color="rgb(164,76,26)"/>
<stop offset="0.2715" stop-color="rgb(159,72,26)"/>
<stop offset="0.2913" stop-color="rgb(151,68,26)"/>
<stop offset="0.3013" stop-color="rgb(146,66,26)"/>
<stop offset="0.3211" stop-color="rgb(136,66,26)"/>
<stop offset="0.3410" stop-color="rgb(131,66,26)"/>
<stop offset="0.3609" stop-color="rgb(126,66,26)"/>
<stop offset="0.3708" stop-color="rgb(125,66,26)"/>
<stop offset="0.4006" stop-color="rgb(121,66,26)"/>
<stop offset="0.4304" stop-color="rgb(120,66,26)"/>
<stop offset="0.4603" stop-color="rgb(118,68,26)"/>
<stop offset="0.4901" stop-color="rgb(117,72,26)"/>
<stop offset="0.5000" stop-color="rgb(116,74,27)"/>
<stop offset="0.5099" stop-color="rgb(116,75,27)"/>
<stop offset="0.5199" stop-color="rgb(115,77,27)"/>
<stop offset="0.5298" stop-color="rgb(115,79,27)"/>
<stop offset="0.5348" stop-color="rgb(115,79,27)"/>
<stop offset="0.5397" stop-color="rgb(114,80,27)"/>
<stop offset="0.5497" stop-color="rgb(113,82,28)"/>
<stop offset="0.5596" stop-color="rgb(112,83,28)"/>
<stop offset="0.5696" stop-color="rgb(111,85,28)"/>
<stop offset="0.5795" stop-color="rgb(110,86,28)"/>
<stop offset="0.5994" stop-color="rgb(108,89,29)"/>
<stop offset="0.6292" stop-color="rgb(102,101,29)"/>
<stop offset="0.6391" stop-color="rgb(101,105,29)"/>
<stop offset="0.6490" stop-color="rgb(97,108,30)"/>
<stop offset="0.6590" stop-color="rgb(93,112,30)"/>
<stop offset="0.6689" stop-color="rgb(90,116,30)"/>
<stop offset="0.6888" stop-color="rgb(78,124,30)"/>
<stop offset="0.6987" stop-color="rgb(69,128,31)"/>
<stop offset="0.7037" stop-color="rgb(61,121,26)"/>
<stop offset="0.7087" stop-color="rgb(48,115,22)"/>
<stop offset="0.7136" stop-color="rgb(39,108,17)"/>
<stop offset="0.7186" stop-color="rgb(35,102,13)"/>
<stop offset="0.7981" stop-color="rgb(35,102,13)"/>
<stop offset="0.8975" stop-color="rgb(35,102,13)"/>
<stop offset="0.9471" stop-color="rgb(35,102,13)"/>
<stop offset="0.9620" stop-color="rgb(47,102,13)"/>
<stop offset="0.9670" stop-color="rgb(59,102,13)"/>
<stop offset="0.9769" stop-color="rgb(72,102,13)"/>
<stop offset="0.9869" stop-color="rgb(74,102,13)"/>
<stop offset="0.9968" stop-color="rgb(76,102,13)"/>
</linearGradient>
</defs>
<g filter="url(#cmb)">
<rect width="614" height="157" fill="rgb(20,60,0)"/>
<rect x="0" width="3" height="157" fill="url(#gb6)"/>
<rect x="3" width="1" height="157" fill="url(#gb1)"/>
<rect x="4" width="3" height="157" fill="url(#gb7)"/>
<rect x="7" width="3" height="157" fill="url(#gb9)"/>
<rect x="10" width="3" height="157" fill="url(#gb7)"/>
<rect x="13" width="2" height="157" fill="url(#gb1)"/>
<rect x="15" width="2" height="157" fill="url(#gb10)"/>
<rect x="17" width="2" height="157" fill="url(#gb2)"/>
<rect x="19" width="2" height="157" fill="url(#gb10)"/>
<rect x="21" width="3" height="157" fill="url(#gb8)"/>
<rect x="24" width="2" height="157" fill="url(#gb3)"/>
<rect x="26" width="1" height="157" fill="url(#gb1)"/>
<rect x="27" width="3" height="157" fill="url(#gb8)"/>
<rect x="30" width="2" height="157" fill="url(#gb5)"/>
<rect x="32" width="1" height="157" fill="url(#gb3)"/>
<rect x="33" width="1" height="157" fill="url(#gb11)"/>
<rect x="34" width="2" height="157" fill="url(#gb9)"/>
<rect x="36" width="2" height="157" fill="url(#gb7)"/>
<rect x="38" width="3" height="157" fill="url(#gb9)"/>
<rect x="41" width="2" height="157" fill="url(#gb0)"/>
<rect x="43" width="1" height="157" fill="url(#gb9)"/>
<rect x="44" width="1" height="157" fill="url(#gb7)"/>
<rect x="45" width="1" height="157" fill="url(#gb8)"/>
<rect x="46" width="3" height="157" fill="url(#gb9)"/>
<rect x="49" width="1" height="157" fill="url(#gb5)"/>
<rect x="50" width="2" height="157" fill="url(#gb0)"/>
<rect x="52" width="2" height="157" fill="url(#gb2)"/>
<rect x="54" width="3" height="157" fill="url(#gb9)"/>
<rect x="57" width="1" height="157" fill="url(#gb4)"/>
<rect x="58" width="3" height="157" fill="url(#gb5)"/>
<rect x="61" width="1" height="157" fill="url(#gb4)"/>
<rect x="62" width="1" height="157" fill="url(#gb5)"/>
<rect x="63" width="1" height="157" fill="url(#gb11)"/>
<rect x="64" width="2" height="157" fill="url(#gb0)"/>
<rect x="66" width="2" height="157" fill="url(#gb11)"/>
<rect x="68" width="1" height="157" fill="url(#gb12)"/>
<rect x="69" width="2" height="157" fill="url(#gb7)"/>
<rect x="71" width="4" height="157" fill="url(#gb6)"/>
<rect x="75" width="4" height="157" fill="url(#gb4)"/>
<rect x="79" width="2" height="157" fill="url(#gb7)"/>
<rect x="81" width="1" height="157" fill="url(#gb5)"/>
<rect x="82" width="2" height="157" fill="url(#gb0)"/>
<rect x="84" width="3" height="157" fill="url(#gb4)"/>
<rect x="87" width="4" height="157" fill="url(#gb5)"/>
<rect x="91" width="4" height="157" fill="url(#gb7)"/>
<rect x="95" width="2" height="157" fill="url(#gb1)"/>
<rect x="97" width="3" height="157" fill="url(#gb7)"/>
<rect x="100" width="2" height="157" fill="url(#gb3)"/>
<rect x="102" width="3" height="157" fill="url(#gb8)"/>
<rect x="105" width="3" height="157" fill="url(#gb7)"/>
<rect x="108" width="1" height="157" fill="url(#gb9)"/>
<rect x="109" width="1" height="157" fill="url(#gb0)"/>
<rect x="110" width="3" height="157" fill="url(#gb5)"/>
<rect x="113" width="2" height="157" fill="url(#gb3)"/>
<rect x="115" width="1" height="157" fill="url(#gb5)"/>
<rect x="116" width="2" height="157" fill="url(#gb1)"/>
<rect x="118" width="2" height="157" fill="url(#gb11)"/>
<rect x="120" width="4" height="157" fill="url(#gb7)"/>
<rect x="124" width="4" height="157" fill="url(#gb4)"/>
<rect x="128" width="2" height="157" fill="url(#gb6)"/>
<rect x="130" width="1" height="157" fill="url(#gb5)"/>
<rect x="131" width="1" height="157" fill="url(#gb6)"/>
<rect x="132" width="1" height="157" fill="url(#gb7)"/>
<rect x="133" width="1" height="157" fill="url(#gb6)"/>
<rect x="134" width="2" height="157" fill="url(#gb1)"/>
<rect x="136" width="1" height="157" fill="url(#gb8)"/>
<rect x="137" width="2" height="157" fill="url(#gb7)"/>
<rect x="139" width="3" height="157" fill="url(#gb9)"/>
<rect x="142" width="2" height="157" fill="url(#gb8)"/>
<rect x="144" width="1" height="157" fill="url(#gb12)"/>
<rect x="145" width="4" height="157" fill="url(#gb5)"/>
<rect x="149" width="1" height="157" fill="url(#gb1)"/>
<rect x="150" width="1" height="157" fill="url(#gb0)"/>
<rect x="151" width="1" height="157" fill="url(#gb8)"/>
<rect x="152" width="1" height="157" fill="url(#gb7)"/>
<rect x="153" width="2" height="157" fill="url(#gb4)"/>
<rect x="155" width="4" height="157" fill="url(#gb7)"/>
<rect x="159" width="1" height="157" fill="url(#gb3)"/>
<rect x="160" width="1" height="157" fill="url(#gb2)"/>
<rect x="161" width="1" height="157" fill="url(#gb0)"/>
<rect x="162" width="4" height="157" fill="url(#gb8)"/>
<rect x="166" width="1" height="157" fill="url(#gb2)"/>
<rect x="167" width="1" height="157" fill="url(#gb7)"/>
<rect x="168" width="2" height="157" fill="url(#gb11)"/>
<rect x="170" width="1" height="157" fill="url(#gb7)"/>
<rect x="171" width="1" height="157" fill="url(#gb8)"/>
<rect x="172" width="2" height="157" fill="url(#gb2)"/>
<rect x="174" width="2" height="157" fill="url(#gb7)"/>
<rect x="176" width="1" height="157" fill="url(#gb4)"/>
<rect x="177" width="1" height="157" fill="url(#gb11)"/>
<rect x="178" width="3" height="157" fill="url(#gb7)"/>
<rect x="181" width="1" height="157" fill="url(#gb8)"/>
<rect x="182" width="2" height="157" fill="url(#gb9)"/>
<rect x="184" width="1" height="157" fill="url(#gb8)"/>
<rect x="185" width="1" height="157" fill="url(#gb0)"/>
<rect x="186" width="1" height="157" fill="url(#gb6)"/>
<rect x="187" width="1" height="157" fill="url(#gb2)"/>
<rect x="188" width="3" height="157" fill="url(#gb5)"/>
<rect x="191" width="3" height="157" fill="url(#gb7)"/>
<rect x="194" width="2" height="157" fill="url(#gb4)"/>
<rect x="196" width="1" height="157" fill="url(#gb9)"/>
<rect x="197" width="2" height="157" fill="url(#gb2)"/>
<rect x="199" width="1" height="157" fill="url(#gb7)"/>
<rect x="200" width="1" height="157" fill="url(#gb4)"/>
<rect x="201" width="5" height="157" fill="url(#gb5)"/>
<rect x="206" width="1" height="157" fill="url(#gb10)"/>
<rect x="207" width="3" height="157" fill="url(#gb5)"/>
<rect x="210" width="2" height="157" fill="url(#gb10)"/>
<rect x="212" width="2" height="157" fill="url(#gb3)"/>
<rect x="214" width="2" height="157" fill="url(#gb12)"/>
<rect x="216" width="1" height="157" fill="url(#gb5)"/>
<rect x="217" width="3" height="157" fill="url(#gb8)"/>
<rect x="220" width="1" height="157" fill="url(#gb13)"/>
<rect x="221" width="3" height="157" fill="url(#gb6)"/>
<rect x="224" width="2" height="157" fill="url(#gb12)"/>
<rect x="226" width="2" height="157" fill="url(#gb1)"/>
<rect x="228" width="1" height="157" fill="url(#gb0)"/>
<rect x="229" width="1" height="157" fill="url(#gb4)"/>
<rect x="230" width="1" height="157" fill="url(#gb5)"/>
<rect x="231" width="2" height="157" fill="url(#gb0)"/>
<rect x="233" width="1" height="157" fill="url(#gb7)"/>
<rect x="234" width="1" height="157" fill="url(#gb12)"/>
<rect x="235" width="2" height="157" fill="url(#gb4)"/>
<rect x="237" width="1" height="157" fill="url(#gb8)"/>
<rect x="238" width="3" height="157" fill="url(#gb9)"/>
<rect x="241" width="1" height="157" fill="url(#gb11)"/>
<rect x="242" width="2" height="157" fill="url(#gb8)"/>
<rect x="244" width="1" height="157" fill="url(#gb13)"/>
<rect x="245" width="2" height="157" fill="url(#gb4)"/>
<rect x="247" width="4" height="157" fill="url(#gb7)"/>
<rect x="251" width="2" height="157" fill="url(#gb6)"/>
<rect x="253" width="2" height="157" fill="url(#gb1)"/>
<rect x="255" width="1" height="157" fill="url(#gb11)"/>
<rect x="256" width="3" height="157" fill="url(#gb2)"/>
<rect x="259" width="1" height="157" fill="url(#gb6)"/>
<rect x="260" width="2" height="157" fill="url(#gb10)"/>
<rect x="262" width="3" height="157" fill="url(#gb2)"/>
<rect x="265" width="2" height="157" fill="url(#gb0)"/>
<rect x="267" width="2" height="157" fill="url(#gb8)"/>
<rect x="269" width="2" height="157" fill="url(#gb1)"/>
<rect x="271" width="2" height="157" fill="url(#gb7)"/>
<rect x="273" width="3" height="157" fill="url(#gb9)"/>
<rect x="276" width="3" height="157" fill="url(#gb8)"/>
<rect x="279" width="3" height="157" fill="url(#gb5)"/>
<rect x="282" width="1" height="157" fill="url(#gb12)"/>
<rect x="283" width="1" height="157" fill="url(#gb10)"/>
<rect x="284" width="3" height="157" fill="url(#gb5)"/>
<rect x="287" width="1" height="157" fill="url(#gb0)"/>
<rect x="288" width="1" height="157" fill="url(#gb12)"/>
<rect x="289" width="3" height="157" fill="url(#gb0)"/>
<rect x="292" width="1" height="157" fill="url(#gb3)"/>
<rect x="293" width="1" height="157" fill="url(#gb2)"/>
<rect x="294" width="3" height="157" fill="url(#gb9)"/>
<rect x="297" width="3" height="157" fill="url(#gb1)"/>
<rect x="300" width="6" height="157" fill="url(#gb7)"/>
<rect x="306" width="2" height="157" fill="url(#gb2)"/>
<rect x="308" width="2" height="157" fill="url(#gb1)"/>
<rect x="310" width="2" height="157" fill="url(#gb8)"/>
<rect x="312" width="2" height="157" fill="url(#gb7)"/>
<rect x="314" width="2" height="157" fill="url(#gb6)"/>
<rect x="316" width="2" height="157" fill="url(#gb13)"/>
<rect x="318" width="1" height="157" fill="url(#gb0)"/>
<rect x="319" width="3" height="157" fill="url(#gb3)"/>
<rect x="322" width="2" height="157" fill="url(#gb4)"/>
<rect x="324" width="1" height="157" fill="url(#gb2)"/>
<rect x="325" width="2" height="157" fill="url(#gb0)"/>
<rect x="327" width="3" height="157" fill="url(#gb5)"/>
<rect x="330" width="3" height="157" fill="url(#gb9)"/>
<rect x="333" width="1" height="157" fill="url(#gb12)"/>
<rect x="334" width="2" height="157" fill="url(#gb6)"/>
<rect x="336" width="4" height="157" fill="url(#gb7)"/>
<rect x="340" width="1" height="157" fill="url(#gb1)"/>
<rect x="341" width="1" height="157" fill="url(#gb6)"/>
<rect x="342" width="2" height="157" fill="url(#gb9)"/>
<rect x="344" width="2" height="157" fill="url(#gb8)"/>
<rect x="346" width="1" height="157" fill="url(#gb12)"/>
<rect x="347" width="1" height="157" fill="url(#gb2)"/>
<rect x="348" width="3" height="157" fill="url(#gb8)"/>
<rect x="351" width="2" height="157" fill="url(#gb0)"/>
<rect x="353" width="3" height="157" fill="url(#gb7)"/>
<rect x="356" width="1" height="157" fill="url(#gb8)"/>
<rect x="357" width="1" height="157" fill="url(#gb2)"/>
<rect x="358" width="1" height="157" fill="url(#gb1)"/>
<rect x="359" width="1" height="157" fill="url(#gb13)"/>
<rect x="360" width="3" height="157" fill="url(#gb0)"/>
<rect x="363" width="2" height="157" fill="url(#gb9)"/>
<rect x="365" width="2" height="157" fill="url(#gb1)"/>
<rect x="367" width="2" height="157" fill="url(#gb6)"/>
<rect x="369" width="1" height="157" fill="url(#gb11)"/>
<rect x="370" width="3" height="157" fill="url(#gb6)"/>
<rect x="373" width="1" height="157" fill="url(#gb1)"/>
<rect x="374" width="3" height="157" fill="url(#gb6)"/>
<rect x="377" width="2" height="157" fill="url(#gb8)"/>
<rect x="379" width="2" height="157" fill="url(#gb7)"/>
<rect x="381" width="2" height="157" fill="url(#gb6)"/>
<rect x="383" width="2" height="157" fill="url(#gb7)"/>
<rect x="385" width="1" height="157" fill="url(#gb5)"/>
<rect x="386" width="1" height="157" fill="url(#gb0)"/>
<rect x="387" width="3" height="157" fill="url(#gb8)"/>
<rect x="390" width="4" height="157" fill="url(#gb7)"/>
<rect x="394" width="1" height="157" fill="url(#gb11)"/>
<rect x="395" width="3" height="157" fill="url(#gb6)"/>
<rect x="398" width="1" height="157" fill="url(#gb1)"/>
<rect x="399" width="2" height="157" fill="url(#gb0)"/>
<rect x="401" width="1" height="157" fill="url(#gb8)"/>
<rect x="402" width="2" height="157" fill="url(#gb0)"/>
<rect x="404" width="1" height="157" fill="url(#gb8)"/>
<rect x="405" width="2" height="157" fill="url(#gb5)"/>
<rect x="407" width="1" height="157" fill="url(#gb13)"/>
<rect x="408" width="3" height="157" fill="url(#gb5)"/>
<rect x="411" width="2" height="157" fill="url(#gb9)"/>
<rect x="413" width="1" height="157" fill="url(#gb6)"/>
<rect x="414" width="2" height="157" fill="url(#gb0)"/>
<rect x="416" width="1" height="157" fill="url(#gb11)"/>
<rect x="417" width="3" height="157" fill="url(#gb8)"/>
<rect x="420" width="2" height="157" fill="url(#gb0)"/>
<rect x="422" width="2" height="157" fill="url(#gb6)"/>
<rect x="424" width="2" height="157" fill="url(#gb10)"/>
<rect x="426" width="3" height="157" fill="url(#gb2)"/>
<rect x="429" width="3" height="157" fill="url(#gb9)"/>
<rect x="432" width="2" height="157" fill="url(#gb3)"/>
<rect x="434" width="3" height="157" fill="url(#gb8)"/>
<rect x="437" width="4" height="157" fill="url(#gb9)"/>
<rect x="441" width="2" height="157" fill="url(#gb7)"/>
<rect x="443" width="3" height="157" fill="url(#gb6)"/>
<rect x="446" width="1" height="157" fill="url(#gb13)"/>
<rect x="447" width="2" height="157" fill="url(#gb3)"/>
<rect x="449" width="1" height="157" fill="url(#gb5)"/>
<rect x="450" width="1" height="157" fill="url(#gb12)"/>
<rect x="451" width="2" height="157" fill="url(#gb8)"/>
<rect x="453" width="2" height="157" fill="url(#gb9)"/>
<rect x="455" width="1" height="157" fill="url(#gb7)"/>
<rect x="456" width="1" height="157" fill="url(#gb10)"/>
<rect x="457" width="1" height="157" fill="url(#gb11)"/>
<rect x="458" width="3" height="157" fill="url(#gb9)"/>
<rect x="461" width="3" height="157" fill="url(#gb7)"/>
<rect x="464" width="2" height="157" fill="url(#gb4)"/>
<rect x="466" width="3" height="157" fill="url(#gb8)"/>
<rect x="469" width="2" height="157" fill="url(#gb7)"/>
<rect x="471" width="1" height="157" fill="url(#gb3)"/>
<rect x="472" width="1" height="157" fill="url(#gb5)"/>
<rect x="473" width="2" height="157" fill="url(#gb1)"/>
<rect x="475" width="3" height="157" fill="url(#gb7)"/>
<rect x="478" width="1" height="157" fill="url(#gb6)"/>
<rect x="479" width="2" height="157" fill="url(#gb10)"/>
<rect x="481" width="2" height="157" fill="url(#gb2)"/>
<rect x="483" width="2" height="157" fill="url(#gb11)"/>
<rect x="485" width="2" height="157" fill="url(#gb8)"/>
<rect x="487" width="1" height="157" fill="url(#gb2)"/>
<rect x="488" width="4" height="157" fill="url(#gb6)"/>
<rect x="492" width="1" height="157" fill="url(#gb13)"/>
<rect x="493" width="3" height="157" fill="url(#gb1)"/>
<rect x="496" width="1" height="157" fill="url(#gb2)"/>
<rect x="497" width="2" height="157" fill="url(#gb10)"/>
<rect x="499" width="2" height="157" fill="url(#gb1)"/>
<rect x="501" width="1" height="157" fill="url(#gb13)"/>
<rect x="502" width="2" height="157" fill="url(#gb8)"/>
<rect x="504" width="3" height="157" fill="url(#gb2)"/>
<rect x="507" width="1" height="157" fill="url(#gb12)"/>
<rect x="508" width="3" height="157" fill="url(#gb7)"/>
<rect x="511" width="1" height="157" fill="url(#gb6)"/>
<rect x="512" width="2" height="157" fill="url(#gb12)"/>
<rect x="514" width="2" height="157" fill="url(#gb0)"/>
<rect x="516" width="3" height="157" fill="url(#gb7)"/>
<rect x="519" width="3" height="157" fill="url(#gb9)"/>
<rect x="522" width="2" height="157" fill="url(#gb6)"/>
<rect x="524" width="1" height="157" fill="url(#gb5)"/>
<rect x="525" width="3" height="157" fill="url(#gb1)"/>
<rect x="528" width="1" height="157" fill="url(#gb11)"/>
<rect x="529" width="2" height="157" fill="url(#gb6)"/>
<rect x="531" width="2" height="157" fill="url(#gb5)"/>
<rect x="533" width="2" height="157" fill="url(#gb1)"/>
<rect x="535" width="2" height="157" fill="url(#gb10)"/>
<rect x="537" width="1" height="157" fill="url(#gb3)"/>
<rect x="538" width="2" height="157" fill="url(#gb8)"/>
<rect x="540" width="4" height="157" fill="url(#gb6)"/>
<rect x="544" width="3" height="157" fill="url(#gb9)"/>
<rect x="547" width="5" height="157" fill="url(#gb8)"/>
<rect x="552" width="1" height="157" fill="url(#gb12)"/>
<rect x="553" width="1" height="157" fill="url(#gb5)"/>
<rect x="554" width="2" height="157" fill="url(#gb9)"/>
<rect x="556" width="4" height="157" fill="url(#gb6)"/>
<rect x="560" width="1" height="157" fill="url(#gb9)"/>
<rect x="561" width="4" height="157" fill="url(#gb5)"/>
<rect x="565" width="1" height="157" fill="url(#gb6)"/>
<rect x="566" width="1" height="157" fill="url(#gb5)"/>
<rect x="567" width="2" height="157" fill="url(#gb1)"/>
<rect x="569" width="1" height="157" fill="url(#gb9)"/>
<rect x="570" width="2" height="157" fill="url(#gb2)"/>
<rect x="572" width="3" height="157" fill="url(#gb7)"/>
<rect x="575" width="3" height="157" fill="url(#gb6)"/>
<rect x="578" width="2" height="157" fill="url(#gb10)"/>
<rect x="580" width="4" height="157" fill="url(#gb5)"/>
<rect x="584" width="3" height="157" fill="url(#gb7)"/>
<rect x="587" width="1" height="157" fill="url(#gb1)"/>
<rect x="588" width="2" height="157" fill="url(#gb6)"/>
<rect x="590" width="1" height="157" fill="url(#gb12)"/>
<rect x="591" width="3" height="157" fill="url(#gb5)"/>
<rect x="594" width="1" height="157" fill="url(#gb4)"/>
<rect x="595" width="4" height="157" fill="url(#gb7)"/>
<rect x="599" width="2" height="157" fill="url(#gb12)"/>
<rect x="601" width="3" height="157" fill="url(#gb4)"/>
<rect x="604" width="3" height="157" fill="url(#gb1)"/>
<rect x="607" width="4" height="157" fill="url(#gb7)"/>
<rect x="611" width="3" height="157" fill="url(#gb4)"/>
<rect x="481.0" y="87.9" width="133.0" height="21.8" fill="rgb(107,89,26)" opacity="0.75"/>
<rect x="481.0" y="109.7" width="133.0" height="1.2" fill="rgb(92,89,26)" opacity="0.70"/>
<rect x="0.0" y="62.4" width="614.0" height="1.0" fill="rgb(122,26,0)" opacity="0.40"/>
<rect x="0.0" y="75.0" width="614.0" height="1.0" fill="rgb(128,26,0)" opacity="0.60"/>
<rect x="0.0" y="87.4" width="614.0" height="1.0" fill="rgb(128,26,0)" opacity="0.60"/>
<rect x="0.0" y="98.4" width="614.0" height="1.0" fill="rgb(122,26,0)" opacity="0.50"/>
<rect x="0.0" y="115.1" width="614.0" height="1.0" fill="rgb(56,26,0)" opacity="1.00"/>
<rect x="0.0" y="122.6" width="614.0" height="1.0" fill="rgb(92,26,0)" opacity="1.00"/>
<rect x="0.0" y="131.0" width="614.0" height="1.0" fill="rgb(84,26,0)" opacity="1.00"/>
<rect x="0.0" y="133.4" width="614.0" height="1.0" fill="rgb(112,26,0)" opacity="1.00"/>
<rect x="0.0" y="135.7" width="614.0" height="1.0" fill="rgb(84,26,0)" opacity="1.00"/>
<rect x="0.0" y="138.1" width="614.0" height="1.0" fill="rgb(112,26,0)" opacity="1.00"/>
<rect x="0.0" y="144.8" width="614.0" height="1.0" fill="rgb(84,26,0)" opacity="1.00"/>
<rect x="0.0" y="150.4" width="614.0" height="1.0" fill="rgb(76,51,0)" opacity="1.00"/>
<rect x="0.0" y="153.3" width="614.0" height="1.0" fill="rgb(122,51,0)" opacity="1.00"/>
<rect x="4.0" y="107.1" width="1.0" height="49.4" fill="rgb(87,38,0)" opacity="0.49"/>
<rect x="5.0" y="106.2" width="1.0" height="50.3" fill="rgb(91,38,0)" opacity="0.57"/>
<rect x="9.0" y="104.6" width="1.0" height="51.9" fill="rgb(63,38,0)" opacity="0.73"/>
<rect x="17.0" y="108.9" width="1.0" height="47.6" fill="rgb(95,38,0)" opacity="0.76"/>
<rect x="34.0" y="111.0" width="1.0" height="45.5" fill="rgb(95,38,0)" opacity="0.76"/>
<rect x="38.0" y="114.2" width="1.0" height="42.3" fill="rgb(96,38,0)" opacity="0.58"/>
<rect x="40.0" y="108.3" width="1.0" height="48.2" fill="rgb(71,38,0)" opacity="0.62"/>
<rect x="46.0" y="108.9" width="1.0" height="47.6" fill="rgb(77,38,0)" opacity="0.52"/>
<rect x="48.0" y="103.5" width="1.0" height="33.8" fill="rgb(87,38,0)" opacity="0.69"/>
<rect x="55.0" y="104.0" width="1.0" height="52.5" fill="rgb(106,38,0)" opacity="0.37"/>
<rect x="77.0" y="107.7" width="1.0" height="34.4" fill="rgb(83,38,0)" opacity="0.77"/>
<rect x="78.0" y="111.8" width="1.0" height="38.6" fill="rgb(87,38,0)" opacity="0.66"/>
<rect x="81.0" y="105.5" width="1.0" height="51.0" fill="rgb(67,38,0)" opacity="0.45"/>
<rect x="104.0" y="108.2" width="1.0" height="48.3" fill="rgb(63,38,0)" opacity="0.41"/>
<rect x="110.0" y="106.9" width="1.0" height="49.6" fill="rgb(76,38,0)" opacity="0.42"/>
<rect x="116.0" y="104.5" width="1.0" height="52.0" fill="rgb(78,38,0)" opacity="0.55"/>
<rect x="120.0" y="110.3" width="1.0" height="46.2" fill="rgb(67,38,0)" opacity="0.53"/>
<rect x="134.0" y="107.2" width="1.0" height="49.3" fill="rgb(67,38,0)" opacity="0.53"/>
<rect x="138.0" y="104.8" width="1.0" height="51.7" fill="rgb(105,38,0)" opacity="0.50"/>
<rect x="164.0" y="108.5" width="1.0" height="13.5" fill="rgb(80,38,0)" opacity="0.69"/>
<rect x="171.0" y="107.3" width="1.0" height="44.8" fill="rgb(74,38,0)" opacity="0.48"/>
<rect x="175.0" y="112.8" width="1.0" height="43.7" fill="rgb(103,38,0)" opacity="0.49"/>
<rect x="183.0" y="113.1" width="1.0" height="43.4" fill="rgb(98,38,0)" opacity="0.44"/>
<rect x="193.0" y="108.8" width="1.0" height="47.7" fill="rgb(103,38,0)" opacity="0.47"/>
<rect x="196.0" y="109.1" width="1.0" height="38.8" fill="rgb(104,38,0)" opacity="0.77"/>
<rect x="197.0" y="106.0" width="1.0" height="34.2" fill="rgb(80,38,0)" opacity="0.61"/>
<rect x="226.0" y="105.1" width="1.0" height="51.4" fill="rgb(104,38,0)" opacity="0.84"/>
<rect x="231.0" y="112.5" width="1.0" height="44.0" fill="rgb(99,38,0)" opacity="0.45"/>
<rect x="231.0" y="111.1" width="1.0" height="35.1" fill="rgb(98,38,0)" opacity="0.84"/>
<rect x="267.0" y="108.7" width="1.0" height="10.0" fill="rgb(97,38,0)" opacity="0.39"/>
<rect x="292.0" y="109.9" width="1.0" height="46.6" fill="rgb(92,38,0)" opacity="0.68"/>
<rect x="296.0" y="106.2" width="1.0" height="50.3" fill="rgb(98,38,0)" opacity="0.34"/>
<rect x="312.0" y="108.6" width="1.0" height="47.9" fill="rgb(64,38,0)" opacity="0.38"/>
<rect x="330.0" y="105.7" width="1.0" height="32.7" fill="rgb(67,38,0)" opacity="0.48"/>
<rect x="339.0" y="108.8" width="1.0" height="47.7" fill="rgb(78,38,0)" opacity="0.85"/>
<rect x="340.0" y="107.6" width="1.0" height="48.9" fill="rgb(100,38,0)" opacity="0.58"/>
<rect x="349.0" y="109.5" width="1.0" height="37.7" fill="rgb(100,38,0)" opacity="0.72"/>
<rect x="362.0" y="113.0" width="1.0" height="42.7" fill="rgb(77,38,0)" opacity="0.67"/>
<rect x="363.0" y="104.6" width="1.0" height="51.9" fill="rgb(104,38,0)" opacity="0.46"/>
<rect x="364.0" y="109.6" width="1.0" height="46.9" fill="rgb(97,38,0)" opacity="0.59"/>
<rect x="368.0" y="111.1" width="1.0" height="45.4" fill="rgb(107,38,0)" opacity="0.79"/>
<rect x="368.0" y="113.5" width="1.0" height="43.0" fill="rgb(104,38,0)" opacity="0.37"/>
<rect x="370.0" y="107.3" width="1.0" height="49.2" fill="rgb(70,38,0)" opacity="0.30"/>
<rect x="370.0" y="103.9" width="1.0" height="52.6" fill="rgb(72,38,0)" opacity="0.70"/>
<rect x="377.0" y="108.9" width="1.0" height="47.6" fill="rgb(83,38,0)" opacity="0.33"/>
<rect x="381.0" y="111.3" width="1.0" height="32.2" fill="rgb(86,38,0)" opacity="0.36"/>
<rect x="381.0" y="113.2" width="1.0" height="43.3" fill="rgb(98,38,0)" opacity="0.66"/>
<rect x="388.0" y="112.3" width="1.0" height="44.2" fill="rgb(85,38,0)" opacity="0.56"/>
<rect x="411.0" y="109.9" width="1.0" height="46.6" fill="rgb(96,38,0)" opacity="0.62"/>
<rect x="431.0" y="108.3" width="1.0" height="47.5" fill="rgb(82,38,0)" opacity="0.57"/>
<rect x="433.0" y="113.4" width="1.0" height="18.6" fill="rgb(89,38,0)" opacity="0.34"/>
<rect x="437.0" y="108.7" width="1.0" height="13.2" fill="rgb(84,38,0)" opacity="0.74"/>
<rect x="440.0" y="110.1" width="1.0" height="46.4" fill="rgb(106,38,0)" opacity="0.33"/>
<rect x="442.0" y="110.5" width="1.0" height="46.0" fill="rgb(93,38,0)" opacity="0.64"/>
<rect x="452.0" y="106.1" width="1.0" height="50.4" fill="rgb(85,38,0)" opacity="0.36"/>
<rect x="466.0" y="111.6" width="1.0" height="44.9" fill="rgb(65,38,0)" opacity="0.72"/>
<rect x="468.0" y="112.1" width="1.0" height="44.4" fill="rgb(94,38,0)" opacity="0.51"/>
<rect x="475.0" y="112.2" width="1.0" height="44.3" fill="rgb(95,38,0)" opacity="0.77"/>
<rect x="478.0" y="114.1" width="1.0" height="28.3" fill="rgb(94,38,0)" opacity="0.36"/>
<rect x="478.0" y="106.8" width="1.0" height="41.4" fill="rgb(100,38,0)" opacity="0.75"/>
<rect x="478.0" y="112.4" width="1.0" height="44.1" fill="rgb(82,38,0)" opacity="0.42"/>
<rect x="479.0" y="108.6" width="1.0" height="28.2" fill="rgb(77,38,0)" opacity="0.40"/>
<rect x="483.0" y="106.1" width="1.0" height="50.4" fill="rgb(68,38,0)" opacity="0.38"/>
<rect x="484.0" y="103.9" width="1.0" height="52.6" fill="rgb(64,38,0)" opacity="0.76"/>
<rect x="485.0" y="106.7" width="1.0" height="46.6" fill="rgb(64,38,0)" opacity="0.43"/>
<rect x="489.0" y="103.5" width="1.0" height="53.0" fill="rgb(106,38,0)" opacity="0.37"/>
<rect x="507.0" y="105.6" width="1.0" height="50.9" fill="rgb(83,38,0)" opacity="0.74"/>
<rect x="525.0" y="104.2" width="1.0" height="52.2" fill="rgb(70,38,0)" opacity="0.82"/>
<rect x="531.0" y="108.2" width="1.0" height="48.3" fill="rgb(86,38,0)" opacity="0.46"/>
<rect x="539.0" y="111.4" width="1.0" height="45.1" fill="rgb(96,38,0)" opacity="0.36"/>
<rect x="552.0" y="111.6" width="1.0" height="44.9" fill="rgb(102,38,0)" opacity="0.49"/>
<rect x="557.0" y="107.4" width="1.0" height="49.1" fill="rgb(81,38,0)" opacity="0.59"/>
<rect x="559.0" y="109.2" width="1.0" height="47.3" fill="rgb(93,38,0)" opacity="0.68"/>
<rect x="561.0" y="109.7" width="1.0" height="46.8" fill="rgb(98,38,0)" opacity="0.55"/>
<rect x="564.0" y="104.3" width="1.0" height="52.2" fill="rgb(100,38,0)" opacity="0.71"/>
<rect x="569.0" y="111.0" width="1.0" height="43.9" fill="rgb(75,38,0)" opacity="0.53"/>
<rect x="588.0" y="113.2" width="1.0" height="24.9" fill="rgb(69,38,0)" opacity="0.79"/>
<rect x="600.0" y="107.4" width="1.0" height="49.1" fill="rgb(103,38,0)" opacity="0.70"/>
<rect x="602.0" y="113.9" width="1.0" height="42.6" fill="rgb(96,38,0)" opacity="0.43"/>
<rect x="603.0" y="109.6" width="1.0" height="46.9" fill="rgb(80,38,0)" opacity="0.33"/>
</g>
<line x1="551.5" y1="61.3" x2="551.5" y2="97.7" stroke="rgb(0,0,60)" stroke-width="1" stroke-dasharray="1 2" opacity="0.52"/><line x1="42.5" y1="53.1" x2="42.5" y2="98.7" stroke="rgb(0,0,60)" stroke-width="1" stroke-dasharray="1 3" opacity="0.79"/><line x1="411.5" y1="57.6" x2="411.5" y2="99.3" stroke="rgb(0,0,60)" stroke-width="1" stroke-dasharray="1 3" opacity="0.59"/><line x1="289.5" y1="52.0" x2="289.5" y2="102.9" stroke="rgb(0,0,60)" stroke-width="1" stroke-dasharray="1 4" opacity="0.52"/><line x1="414.5" y1="63.2" x2="414.5" y2="109.6" stroke="rgb(0,0,60)" stroke-width="1" stroke-dasharray="1 4" opacity="0.82"/><line x1="25.5" y1="48.6" x2="25.5" y2="104.0" stroke="rgb(0,0,60)" stroke-width="1" stroke-dasharray="1 5" opacity="0.60"/><line x1="32.5" y1="56.6" x2="32.5" y2="110.6" stroke="rgb(0,0,60)" stroke-width="1" stroke-dasharray="1 4" opacity="0.80"/><line x1="108.5" y1="53.3" x2="108.5" y2="98.7" stroke="rgb(0,0,60)" stroke-width="1" stroke-dasharray="1 3" opacity="0.67"/><line x1="597.5" y1="56.7" x2="597.5" y2="94.0" stroke="rgb(0,0,60)" stroke-width="1" stroke-dasharray="1 4" opacity="0.86"/><line x1="185.5" y1="61.0" x2="185.5" y2="101.2" stroke="rgb(0,0,60)" stroke-width="1" stroke-dasharray="1 4" opacity="0.67"/><line x1="361.5" y1="58.2" x2="361.5" y2="97.6" stroke="rgb(0,0,60)" stroke-width="1" stroke-dasharray="1 3" opacity="0.75"/><line x1="601.5" y1="52.0" x2="601.5" y2="91.7" stroke="rgb(0,0,60)" stroke-width="1" stroke-dasharray="1 3" opacity="0.59"/><line x1="431.5" y1="52.6" x2="431.5" y2="94.2" stroke="rgb(0,0,60)" stroke-width="1" stroke-dasharray="1 2" opacity="0.60"/><line x1="129.5" y1="48.7" x2="129.5" y2="96.7" stroke="rgb(0,0,60)" stroke-width="1" stroke-dasharray="1 3" opacity="0.77"/><line x1="259.5" y1="50.5" x2="259.5" y2="105.0" stroke="rgb(0,0,60)" stroke-width="1" stroke-dasharray="1 4" opacity="0.85"/><line x1="64.5" y1="57.4" x2="64.5" y2="110.1" stroke="rgb(0,0,60)" stroke-width="1" stroke-dasharray="1 3" opacity="0.75"/><line x1="174.5" y1="63.0" x2="174.5" y2="102.9" stroke="rgb(0,0,60)" stroke-width="1" stroke-dasharray="1 5" opacity="0.86"/><line x1="185.5" y1="48.6" x2="185.5" y2="104.2" stroke="rgb(0,0,60)" stroke-width="1" stroke-dasharray="1 5" opacity="0.59"/><line x1="12.5" y1="54.0" x2="12.5" y2="97.6" stroke="rgb(0,0,60)" stroke-width="1" stroke-dasharray="1 3" opacity="0.53"/><line x1="514.5" y1="62.7" x2="514.5" y2="109.9" stroke="rgb(0,0,60)" stroke-width="1" stroke-dasharray="1 4" opacity="0.87"/><line x1="548.5" y1="53.7" x2="548.5" y2="109.9" stroke="rgb(0,0,60)" stroke-width="1" stroke-dasharray="1 3" opacity="0.55"/><line x1="316.5" y1="44.5" x2="316.5" y2="92.4" stroke="rgb(0,0,60)" stroke-width="1" stroke-dasharray="1 2" opacity="0.73"/><line x1="388.5" y1="49.0" x2="388.5" y2="109.6" stroke="rgb(0,0,60)" stroke-width="1" stroke-dasharray="1 2" opacity="0.66"/><line x1="364.5" y1="47.5" x2="364.5" y2="105.5" stroke="rgb(0,0,60)" stroke-width="1" stroke-dasharray="1 3" opacity="0.80"/><line x1="404.5" y1="44.9" x2="404.5" y2="95.1" stroke="rgb(0,0,60)" stroke-width="1" stroke-dasharray="1 2" opacity="0.85"/><line x1="607.5" y1="46.6" x2="607.5" y2="95.2" stroke="rgb(0,0,60)" stroke-width="1" stroke-dasharray="1 5" opacity="0.78"/><line x1="353.5" y1="45.3" x2="353.5" y2="108.4" stroke="rgb(0,0,60)" stroke-width="1" stroke-dasharray="1 5" opacity="0.67"/><line x1="87.5" y1="57.5" x2="87.5" y2="98.8" stroke="rgb(0,0,60)" stroke-width="1" stroke-dasharray="1 3" opacity="0.74"/><line x1="423.5" y1="48.9" x2="423.5" y2="91.7" stroke="rgb(0,0,60)" stroke-width="1" stroke-dasharray="1 2" opacity="0.61"/><line x1="422.5" y1="62.2" x2="422.5" y2="95.2" stroke="rgb(0,0,60)" stroke-width="1" stroke-dasharray="1 5" opacity="0.63"/><rect x="0.0" y="112.3" width="614.0" height="1.6" fill="rgb(110,20,90)" opacity="0.90"/><rect x="0.0" y="117.7" width="614.0" height="1.4" fill="rgb(140,50,140)" opacity="0.85"/><rect x="0.0" y="118.7" width="614.0" height="2.0" fill="rgb(90,30,170)" opacity="0.55"/><rect x="0.0" y="116.1" width="614.0" height="1.0" fill="rgb(100,40,160)" opacity="0.50"/><rect x="0.0" y="153.8" width="614.0" height="1.0" fill="rgb(170,110,60)" opacity="0.60"/><rect x="191.0" y="42.4" width="99.0" height="1.0" fill="rgb(200,80,20)" opacity="0.80"/><rect x="440.0" y="42.4" width="174.0" height="1.0" fill="rgb(200,80,20)" opacity="0.70"/><rect x="562.0" y="45.2" width="52.0" height="1.0" fill="rgb(200,80,20)" opacity="0.70"/><rect x="507.0" y="98.9" width="56.0" height="1.0" fill="rgb(150,60,30)" opacity="0.90"/>
</svg>
<path d="M79.5 135.9V145.6M80.0 136.2V145.6M80.5 136.5V144.9M81.0 136.8V144.9M81.5 137.1V145.8M82.0 137.4V147.4M82.5 138.9V145.7M83.0 139.2V145.7M83.5 139.6V144.2M84.0 139.9V144.2M84.5 139.1V145.3M85.0 139.1V145.3M85.5 139.2V144.3M86.0 139.2V144.3M86.5 138.1V144.2M87.0 138.1V144.2M87.5 140.0V144.9M88.0 140.0V144.9M88.5 139.4V144.6M89.0 139.4V144.6M89.5 140.0V145.1M90.0 140.0V145.1M90.5 139.3V146.2M91.0 139.3V146.2M91.5 134.7V144.5M92.0 139.0V144.5M92.5 139.8V144.8M93.0 139.8V144.8M93.5 139.3V144.2M94.0 139.3V144.2M94.5 139.9V144.3M95.0 139.9V144.3M95.5 139.9V144.9M96.0 139.9V144.9M96.5 139.8V144.2M97.0 139.8V144.2M97.5 139.5V144.8M98.0 139.5V144.8M98.5 139.8V144.8M99.0 139.8V144.8M99.5 139.3V144.3M100.0 139.3V144.3M100.5 139.9V145.8M101.0 139.9V145.8M101.5 138.9V145.1M102.0 138.9V145.1M102.5 139.3V145.6M103.0 139.3V145.6M103.5 139.6V144.3M104.0 137.9V144.3M104.5 139.7V145.0M105.0 134.7V145.0M105.5 139.7V144.5M106.0 139.7V144.5M106.5 140.0V146.0M107.0 140.0V146.0M107.5 139.9V144.6M108.0 139.9V144.6M108.5 139.6V144.8M109.0 139.6V144.8M109.5 139.8V144.4M110.0 139.8V144.4M110.5 139.2V144.6M111.0 139.2V144.6M111.5 139.6V147.4M112.0 136.0V145.0M112.5 139.9V144.8M113.0 139.9V144.8M113.5 139.7V144.2M114.0 139.7V144.2M114.5 139.6V144.2M115.0 137.0V144.2M115.5 139.8V144.6M116.0 139.8V147.4M116.5 139.8V145.1M117.0 139.8V145.1M117.5 139.5V144.8M118.0 139.5V147.1M118.5 139.8V144.3M119.0 134.7V144.3M119.5 139.2V145.2M120.0 139.2V145.2M120.5 139.2V146.2M121.0 139.2V146.2M121.5 139.3V148.6M122.0 139.3V144.4M122.5 140.0V144.6M123.0 140.0V144.6M123.5 139.3V144.6M124.0 139.3V144.6M124.5 139.2V144.4M125.0 139.2V144.4M125.5 139.3V144.5M126.0 139.3V144.5M126.5 139.8V144.4M127.0 139.8V144.4M127.5 139.8V144.3M128.0 139.8V144.3M128.5 139.9V144.2M129.0 127.2V144.2M129.5 139.8V144.4M130.0 139.8V144.4M130.5 140.0V145.5M131.0 140.0V145.5M131.5 139.9V144.4M132.0 139.9V144.4M132.5 139.2V144.4M133.0 139.2V144.4M133.5 136.6V145.1M134.0 137.6V145.1M134.5 139.7V144.5M135.0 139.7V144.5M135.5 139.8V145.1M136.0 139.8V145.1M136.5 139.8V144.9M137.0 139.8V144.9M137.5 139.8V144.9M138.0 139.8V144.9M138.5 139.9V144.4M139.0 139.9V144.4M139.5 139.4V144.7M140.0 137.2V144.7M140.5 139.2V145.9M141.0 139.2V145.9M141.5 139.1V145.0M142.0 139.1V145.0M142.5 136.8V144.9M143.0 136.8V144.9M143.5 127.2V144.6M144.0 138.7V144.6M144.5 139.0V144.9M145.0 139.0V144.9M145.5 139.4V144.6M146.0 139.4V144.6M146.5 139.6V144.3M147.0 139.6V144.3M147.5 140.0V144.4M148.0 140.0V144.4M148.5 139.4V144.3M149.0 139.4V144.3M149.5 136.0V144.9M150.0 139.6V144.9M150.5 139.1V144.3M151.0 139.1V144.3M151.5 138.8V144.3M152.0 138.8V144.3M152.5 139.8V144.3M153.0 139.8V144.3M153.5 140.0V144.5M154.0 140.0V144.5M154.5 139.4V144.3M155.0 139.4V144.3M155.5 138.5V145.0M156.0 138.5V145.0M156.5 139.5V144.7M157.0 139.5V144.7M157.5 131.6V147.3M158.0 138.7V147.3M158.5 139.5V146.2M159.0 139.5V146.2M159.5 139.2V144.6M160.0 139.2V144.6M160.5 139.8V144.6M161.0 139.8V144.6M161.5 139.9V144.3M162.0 139.9V144.3M162.5 139.9V145.2M163.0 137.6V145.2M163.5 139.9V146.3M164.0 139.9V146.3M164.5 140.0V144.6M165.0 140.0V144.6M165.5 139.0V145.1M166.0 139.0V145.1M166.5 139.7V148.6M167.0 139.7V144.2M167.5 139.8V148.6M168.0 139.8V148.6M168.5 139.4V144.3M169.0 139.4V144.3M169.5 139.9V145.1M170.0 139.9V145.1M170.5 138.8V144.2M171.0 138.8V144.2M171.5 139.2V144.4M172.0 139.2V144.4M172.5 139.8V144.4M173.0 139.8V144.4M173.5 139.9V144.8M174.0 139.9V144.8M174.5 139.7V144.2M175.0 139.7V144.2M175.5 139.8V144.5M176.0 137.5V144.5M176.5 140.0V144.3M177.0 140.0V149.9M177.5 139.7V144.3M178.0 139.7V144.3M178.5 138.6V145.2M179.0 138.6V145.2M179.5 139.4V144.5M180.0 139.4V144.5M180.5 138.2V144.3M181.0 138.2V144.3M181.5 138.8V144.5M182.0 138.8V144.5M182.5 139.3V144.3M183.0 139.3V144.3M183.5 138.9V144.2M184.0 138.9V152.4M184.5 139.6V144.3M185.0 139.6V144.3M185.5 139.4V144.9M186.0 139.4V144.9M186.5 139.8V144.2M187.0 139.8V144.2M187.5 139.9V144.5M188.0 139.9V144.5M188.5 138.7V144.6M189.0 138.7V144.6M189.5 139.9V144.4M190.0 139.9V144.4M190.5 139.9V144.7M191.0 139.9V144.7M191.5 139.8V145.3M192.0 139.8V145.3M192.5 139.4V144.6M193.0 139.4V144.6M193.5 139.8V144.6M194.0 139.8V144.6M194.5 139.6V144.3M195.0 139.6V146.4M195.5 138.7V144.6M196.0 138.7V144.6M196.5 139.1V145.6M197.0 139.1V145.6M197.5 139.3V144.5M198.0 139.3V144.5M198.5 139.9V144.6M199.0 139.9V144.6M199.5 139.3V145.9M200.0 139.3V145.9M200.5 139.7V144.4M201.0 139.7V144.4M201.5 139.9V144.2M202.0 139.9V144.2M202.5 139.8V145.5M203.0 139.8V145.5M203.5 140.0V144.6M204.0 140.0V144.6M204.5 139.5V144.3M205.0 139.5V144.3M205.5 139.4V144.3M206.0 139.4V144.3M206.5 139.8V144.6M207.0 139.8V144.6M207.5 140.0V145.1M208.0 140.0V145.1M208.5 138.4V144.2M209.0 138.4V144.2M209.5 139.5V144.2M210.0 139.5V144.2M210.5 139.1V144.3M211.0 139.1V144.3M211.5 139.8V144.3M212.0 139.8V144.3M212.5 139.0V144.8M213.0 139.0V144.8M213.5 139.0V144.2M214.0 139.0V144.2M214.5 139.9V145.3M215.0 139.9V145.3M215.5 136.7V145.7M216.0 136.7V145.7M216.5 139.6V147.2M217.0 139.6V148.8M217.5 139.2V144.2M218.0 139.2V144.2M218.5 139.9V144.3M219.0 139.9V146.5M219.5 139.4V144.6M220.0 139.4V144.6M220.5 139.8V144.2M221.0 139.8V144.2M221.5 139.0V146.7M222.0 139.0V146.7M222.5 139.7V146.2M223.0 139.7V146.2M223.5 139.5V144.6M224.0 139.5V144.6M224.5 139.7V145.4M225.0 139.7V145.4M225.5 139.5V145.4M226.0 139.5V145.4M226.5 139.7V144.7M227.0 139.7V149.0M227.5 136.6V144.5M228.0 139.6V144.5M228.5 140.0V145.4M229.0 140.0V147.8M229.5 139.0V144.6M230.0 139.0V144.6M230.5 138.5V145.7M231.0 138.5V145.7M231.5 139.7V144.8M232.0 139.7V144.8M232.5 138.0V144.6M233.0 138.0V144.6M233.5 139.9V144.5M234.0 139.9V144.5M234.5 138.3V144.4M235.0 138.3V144.4M235.5 139.8V144.3M236.0 139.8V144.3M236.5 139.6V144.2M237.0 139.6V146.7M237.5 138.5V144.4M238.0 138.5V144.4M238.5 139.9V144.2M239.0 139.9V144.2M239.5 139.9V144.4M240.0 139.9V144.4M240.5 139.2V156.2M241.0 139.2V146.2M241.5 139.4V145.7M242.0 139.4V145.7M242.5 139.8V145.6M243.0 139.8V145.6M243.5 139.7V144.4M244.0 139.7V144.4M244.5 139.6V146.0M245.0 137.2V146.0M245.5 138.9V147.1M246.0 138.9V144.9M246.5 139.8V144.2M247.0 139.8V144.2M247.5 139.5V144.4M248.0 139.5V144.4M248.5 139.8V144.8M249.0 139.8V144.8M249.5 139.8V144.3M250.0 139.8V144.3M250.5 138.7V144.3M251.0 138.7V144.3M251.5 139.7V145.1M252.0 139.7V145.1M252.5 139.2V145.9M253.0 139.2V144.2M253.5 139.8V144.2M254.0 126.5V151.0M254.5 139.9V145.4M255.0 139.9V145.4M255.5 139.3V144.4M256.0 139.3V144.4M256.5 137.2V145.8M257.0 139.1V145.8M257.5 139.4V145.1M258.0 139.4V145.1M258.5 139.3V144.9M259.0 139.3V144.9M259.5 139.4V144.5M260.0 139.4V144.5M260.5 139.3V144.3M261.0 139.3V144.3M261.5 138.6V144.2M262.0 138.6V144.2M262.5 138.3V145.1M263.0 138.3V145.1M263.5 134.7V144.3M264.0 139.6V144.3M264.5 139.9V144.3M265.0 139.9V144.3M265.5 139.2V146.9M266.0 139.2V144.7M266.5 139.5V144.2M267.0 139.5V144.2M267.5 138.5V144.8M268.0 138.5V144.8M268.5 129.7V144.2M269.0 139.4V144.2M269.5 139.9V144.3M270.0 139.9V146.0M270.5 139.4V144.2M271.0 139.4V144.2M271.5 139.7V145.6M272.0 139.7V145.6M272.5 137.0V146.4M273.0 139.9V146.4M273.5 139.8V145.0M274.0 139.8V145.0M274.5 137.9V144.9M275.0 137.9V144.9M275.5 139.8V144.4M276.0 136.2V144.4M276.5 139.8V144.9M277.0 136.0V144.9M277.5 139.7V144.9M278.0 139.7V144.9M278.5 138.8V145.1M279.0 138.8V145.1M279.5 139.3V145.2M280.0 139.3V145.2M280.5 139.9V145.2M281.0 139.9V145.2M281.5 140.0V144.2M282.0 140.0V144.2M282.5 139.7V144.9M283.0 139.7V144.9M283.5 139.9V144.8M284.0 139.9V144.8M284.5 138.8V145.4M285.0 138.8V147.7M285.5 139.9V144.3M286.0 139.9V144.3M286.5 139.6V144.9M287.0 139.6V144.9M287.5 139.4V144.6M288.0 139.4V144.6M288.5 138.3V144.6M289.0 138.3V144.6M289.5 139.8V144.3M290.0 139.8V144.3M290.5 139.0V145.1M291.0 139.0V145.1M291.5 139.5V144.6M292.0 139.5V144.6M292.5 139.0V144.3M293.0 139.0V144.3M293.5 139.8V148.7M294.0 139.8V148.7M294.5 139.8V144.8M295.0 139.8V144.8M295.5 126.5V144.5M296.0 139.8V144.5M296.5 139.4V146.2M297.0 139.4V146.2M297.5 139.6V145.3M298.0 139.6V145.3M298.5 139.5V145.1M299.0 139.5V145.1M299.5 139.2V144.2M300.0 139.2V144.2M300.5 139.3V144.9M301.0 139.3V144.9M301.5 136.7V145.5M302.0 139.4V145.5M302.5 139.2V151.8M303.0 139.2V144.6M303.5 140.0V145.1M304.0 140.0V145.1M304.5 139.1V144.4M305.0 139.1V144.4M305.5 139.2V144.3M306.0 137.2V145.9M306.5 139.7V145.5M307.0 139.7V145.5M307.5 139.9V144.5M308.0 139.9V144.5M308.5 139.6V144.6M309.0 139.6V144.6M309.5 138.8V144.4M310.0 138.8V144.4M310.5 139.8V144.6M311.0 139.8V144.6M311.5 139.1V144.4M312.0 139.1V144.4M312.5 138.2V144.2M313.0 136.6V144.2M313.5 139.8V145.4M314.0 139.8V145.4M314.5 137.4V144.3M315.0 137.4V144.3M315.5 140.0V144.4M316.0 140.0V144.4M316.5 138.4V145.4M317.0 140.0V145.4M317.5 138.9V144.9M318.0 138.9V144.9M318.5 139.6V144.7M319.0 139.6V144.7M319.5 139.6V145.5M320.0 139.6V145.5M320.5 138.8V144.3M321.0 138.8V144.3M321.5 138.5V144.6M322.0 138.5V144.6M322.5 139.5V144.6M323.0 139.5V153.0M323.5 138.7V146.3M324.0 138.7V146.3M324.5 139.4V145.2M325.0 139.4V145.2M325.5 139.7V144.3M326.0 139.7V144.3M326.5 139.9V144.3M327.0 139.9V144.3M327.5 139.2V144.5M328.0 139.2V144.5M328.5 138.7V144.3M329.0 138.7V144.3M329.5 138.4V144.5M330.0 138.4V144.5M330.5 139.8V144.3M331.0 139.8V144.3M331.5 139.4V144.7M332.0 139.4V144.7M332.5 139.7V144.3M333.0 139.7V144.3M333.5 139.0V144.3M334.0 139.0V144.3M334.5 139.9V146.6M335.0 139.9V146.6M335.5 140.0V147.1M336.0 140.0V145.2M336.5 139.8V145.5M337.0 139.8V145.5M337.5 140.0V144.2M338.0 140.0V144.2M338.5 139.7V144.4M339.0 139.7V144.4M339.5 139.7V144.5M340.0 139.7V144.5M340.5 139.9V145.2M341.0 139.9V145.2M341.5 138.1V144.8M342.0 138.1V144.8M342.5 139.8V144.2M343.0 139.8V144.2M343.5 139.3V144.4M344.0 139.3V144.4M344.5 139.9V145.2M345.0 139.9V145.2M345.5 137.2V147.6M346.0 139.7V147.6M346.5 139.9V144.5M347.0 139.9V144.5M347.5 139.9V144.6M348.0 139.9V144.6M348.5 140.0V144.8M349.0 140.0V144.8M349.5 139.0V144.6M350.0 139.0V144.6M350.5 139.8V145.2M351.0 139.8V145.2M351.5 139.6V145.5M352.0 139.6V145.5M352.5 139.5V144.3M353.0 139.5V144.3M353.5 139.9V144.7M354.0 139.9V144.7M354.5 138.2V144.3M355.0 138.2V144.3M355.5 139.7V144.3M356.0 139.7V146.6M356.5 140.0V144.6M357.0 140.0V144.6M357.5 139.9V144.4M358.0 139.9V144.4M358.5 139.7V144.3M359.0 139.7V144.3M359.5 139.9V144.6M360.0 139.9V144.6M360.5 139.8V145.0M361.0 139.8V145.0M361.5 139.6V145.0M362.0 126.5V145.0M362.5 140.0V144.4M363.0 128.0V147.4M363.5 139.8V144.7M364.0 131.0V144.7M364.5 139.1V144.3M365.0 139.1V144.3M365.5 140.0V144.4M366.0 140.0V144.4M366.5 139.4V144.4M367.0 139.4V144.4M367.5 140.0V145.9M368.0 140.0V145.9M368.5 138.4V144.5M369.0 138.4V144.5M369.5 139.8V144.7M370.0 139.8V144.7M370.5 139.9V144.7M371.0 139.9V144.7M371.5 139.3V145.0M372.0 139.3V145.0M372.5 138.6V146.0M373.0 138.6V146.0M373.5 138.1V144.5M374.0 138.1V144.5M374.5 139.2V145.0M375.0 139.2V145.0M375.5 139.0V144.4M376.0 139.0V144.4M376.5 139.3V145.4M377.0 139.3V145.4M377.5 137.5V144.3M378.0 139.9V144.3M378.5 139.3V144.3M379.0 139.3V144.3M379.5 139.9V144.6M380.0 139.9V144.6M380.5 139.4V144.3M381.0 139.4V144.3M381.5 139.5V144.4M382.0 139.5V144.4M382.5 138.2V144.7M383.0 139.8V144.7M383.5 139.6V144.4M384.0 139.6V144.4M384.5 136.5V145.8M385.0 139.5V145.8M385.5 139.9V144.7M386.0 139.9V144.7M386.5 137.9V153.7M387.0 139.7V144.6M387.5 139.7V144.6M388.0 139.7V144.6M388.5 139.9V145.0M389.0 139.9V145.0M389.5 130.0V144.4M390.0 139.8V144.4M390.5 130.0V145.0M391.0 139.4V145.0M391.5 139.3V145.7M392.0 139.3V145.7M392.5 139.7V145.4M393.0 139.7V145.4M393.5 139.6V144.6M394.0 139.6V144.6M394.5 139.8V144.3M395.0 139.8V144.3M395.5 139.3V144.4M396.0 139.3V144.4M396.5 139.8V145.2M397.0 139.8V149.0M397.5 139.4V144.8M398.0 139.4V144.8M398.5 139.6V144.4M399.0 139.6V144.4M399.5 136.7V144.2M400.0 139.6V144.2M400.5 138.3V145.4M401.0 138.3V145.4M401.5 138.7V144.3M402.0 138.7V144.3M402.5 139.4V144.6M403.0 139.4V144.6M403.5 139.3V144.4M404.0 139.3V144.4M404.5 139.9V144.5M405.0 139.9V144.5M405.5 139.7V144.2M406.0 139.7V147.1M406.5 139.2V144.4M407.0 139.2V144.4M407.5 139.4V145.7M408.0 139.4V145.7M408.5 139.9V144.6M409.0 139.9V144.6M409.5 138.1V144.6M410.0 138.1V144.6M410.5 140.0V144.7M411.0 140.0V144.7M411.5 139.3V144.5M412.0 139.3V144.5M412.5 139.9V144.4M413.0 139.9V144.4M413.5 138.5V144.2M414.0 138.5V144.2M414.5 126.5V157.0M415.0 126.5V157.0M415.5 139.1V144.9M416.0 139.1V144.9M416.5 139.9V144.5M417.0 139.9V144.5M417.5 137.3V144.8M418.0 137.3V144.8M418.5 139.7V144.5M419.0 139.7V144.5M419.5 139.3V155.6M420.0 139.3V155.6M420.5 139.4V144.3M421.0 139.4V144.3M421.5 139.6V146.2M422.0 139.6V146.2M422.5 139.1V145.0M423.0 139.1V145.0M423.5 139.6V144.5M424.0 139.6V144.5M424.5 138.4V145.1M425.0 138.4V145.1M425.5 137.9V144.6M426.0 140.0V144.6M426.5 136.8V145.1M427.0 136.8V145.1M427.5 133.7V144.9M428.0 136.6V144.9M428.5 139.8V145.0M429.0 139.8V145.0M429.5 139.6V144.2M430.0 139.6V144.2M430.5 139.3V146.8M431.0 139.3V146.8M431.5 137.8V144.2M432.0 135.4V144.2M432.5 138.7V144.5M433.0 138.7V144.5M433.5 138.6V144.3M434.0 138.6V144.3M434.5 139.4V144.3M435.0 139.4V144.3M435.5 139.1V144.5M436.0 139.1V144.5M436.5 126.5V144.5M437.0 139.6V144.5M437.5 139.9V145.9M438.0 138.3V145.9M438.5 139.7V144.5M439.0 139.7V144.5M439.5 139.8V146.0M440.0 139.8V146.0M440.5 138.8V147.0M441.0 138.8V144.7M441.5 139.9V144.5M442.0 139.9V144.5M442.5 139.2V144.7M443.0 139.2V144.7M443.5 126.5V144.7M444.0 138.6V144.7M444.5 139.9V144.4M445.0 139.9V144.4M445.5 139.4V144.4M446.0 139.4V144.4M446.5 138.4V145.6M447.0 138.4V145.6M447.5 139.7V144.2M448.0 139.7V144.2M448.5 139.7V144.6M449.0 139.7V144.6M449.5 139.6V146.0M450.0 139.6V146.0M450.5 139.9V144.4M451.0 139.9V144.4M451.5 139.9V145.2M452.0 139.9V145.2M452.5 138.1V144.4M453.0 138.1V144.4M453.5 138.6V146.1M454.0 138.6V146.1M454.5 139.6V144.3M455.0 139.6V144.3M455.5 139.8V144.5M456.0 139.8V144.5M456.5 139.2V144.6M457.0 139.2V144.6M457.5 137.4V147.5M458.0 137.4V145.0M458.5 138.7V144.7M459.0 138.7V144.7M459.5 139.7V145.1M460.0 137.1V145.1M460.5 139.6V144.3M461.0 139.6V144.3M461.5 139.3V145.2M462.0 139.3V145.2M462.5 137.9V145.7M463.0 139.5V145.7M463.5 139.8V147.9M464.0 139.8V145.1M464.5 139.8V144.4M465.0 139.8V144.4M465.5 139.4V144.3M466.0 139.4V144.3M466.5 137.9V144.4M467.0 137.9V144.4M467.5 137.9V144.3M468.0 139.9V144.3M468.5 137.0V144.9M469.0 139.3V144.9M469.5 138.4V144.7M470.0 138.4V144.7M470.5 140.0V144.7M471.0 140.0V144.7M471.5 139.7V144.8M472.0 139.7V144.8M472.5 139.2V145.6M473.0 139.2V145.6M473.5 138.6V156.8M474.0 138.6V144.2M474.5 138.3V144.5M475.0 138.3V144.5M475.5 139.8V144.3M476.0 139.8V144.3M476.5 140.0V144.9M477.0 140.0V144.9M477.5 139.8V156.8M478.0 139.8V145.5M478.5 139.5V144.4M479.0 139.5V144.4M479.5 139.8V144.6M480.0 139.8V144.6M480.5 139.7V144.2M481.0 139.7V144.2M481.5 139.1V144.6M482.0 139.1V144.6M482.5 140.0V144.4M483.0 140.0V144.4M483.5 138.9V144.8M484.0 136.2V144.8M484.5 140.0V144.6M485.0 140.0V144.6M485.5 139.4V145.2M486.0 139.4V145.2M486.5 140.0V144.5M487.0 140.0V146.4M487.5 139.8V144.6M488.0 139.8V144.6M488.5 139.6V145.3M489.0 139.6V145.3M489.5 138.7V144.5M490.0 138.7V144.5M490.5 139.9V144.8M491.0 139.9V144.8M491.5 137.7V144.4M492.0 137.7V144.4M492.5 138.7V147.8M493.0 138.7V150.5M493.5 140.0V144.8M494.0 140.0V144.8M494.5 140.0V144.8M495.0 140.0V144.8M495.5 139.9V144.9M496.0 139.9V144.9M496.5 139.4V144.8M497.0 139.4V144.8M497.5 136.3V144.2M498.0 136.3V144.2M498.5 139.8V144.4M499.0 139.8V144.4M499.5 139.2V145.5M500.0 139.2V145.5M500.5 139.9V145.3M501.0 139.9V145.3M501.5 139.1V145.2M502.0 139.1V145.2M502.5 136.4V146.0M503.0 138.8V146.0M503.5 138.7V144.7M504.0 138.7V144.7M504.5 138.6V144.7M505.0 138.6V144.7M505.5 139.0V144.6M506.0 139.0V144.6M506.5 139.9V144.2M507.0 139.9V144.2M507.5 139.5V144.6M508.0 139.5V144.6M508.5 139.7V145.0M509.0 139.7V145.0M509.5 139.7V144.4M510.0 136.6V144.4M510.5 138.7V145.5M511.0 138.7V145.5M511.5 138.7V144.8M512.0 138.7V144.8M512.5 139.3V146.5M513.0 139.3V144.9M513.5 139.8V144.8M514.0 139.8V144.8M514.5 139.3V145.2M515.0 139.3V145.2M515.5 139.8V144.6M516.0 139.8V144.6M516.5 139.1V144.7M517.0 139.1V144.7M517.5 139.9V144.4M518.0 139.9V144.4M518.5 139.3V144.6M519.0 139.3V144.6M519.5 139.7V144.4M520.0 139.7V144.4M520.5 139.9V145.3M521.0 139.9V145.3M521.5 139.2V144.7M522.0 137.5V144.7M522.5 139.9V149.0M523.0 139.9V147.3M523.5 137.4V145.2M524.0 135.4V145.2M524.5 139.6V144.3M525.0 139.6V144.3M525.5 139.8V144.4M526.0 139.8V144.4M526.5 139.9V146.1M527.0 139.9V146.1M527.5 139.6V144.8M528.0 139.6V144.8M528.5 139.2V144.7M529.0 139.2V144.7M529.5 138.9V144.2M530.0 138.9V144.2M530.5 139.5V144.5M531.0 139.5V144.5M531.5 138.0V145.6M532.0 138.0V145.6M532.5 139.1V145.2M533.0 139.1V145.2M533.5 139.9V144.5M534.0 139.9V144.5M534.5 138.1V144.8M535.0 138.1V144.8M535.5 138.2V144.5M536.0 139.8V144.5M536.5 138.0V144.6M537.0 138.0V144.6M537.5 139.8V144.5M538.0 137.4V144.5M538.5 139.7V144.3M539.0 139.7V144.3M539.5 139.3V144.7M540.0 139.3V144.7M540.5 140.0V144.6M541.0 140.0V144.6M541.5 138.4V146.0M542.0 138.4V146.0M542.5 139.7V144.3M543.0 139.7V144.3M543.5 139.8V144.6M544.0 139.8V144.6M544.5 140.0V145.1M545.0 140.0V145.1M545.5 140.0V144.6M546.0 140.0V144.6M546.5 140.0V145.8M547.0 140.0V145.8M547.5 139.8V144.5M548.0 139.8V144.5M548.5 139.8V144.3M549.0 139.8V144.3M549.5 139.4V145.5M550.0 136.5V145.5M550.5 138.6V144.2M551.0 138.6V144.2M551.5 139.3V144.5M552.0 139.3V144.5M552.5 139.3V144.5M553.0 139.3V144.5M553.5 139.7V144.8M554.0 139.7V144.8M554.5 139.4V145.0M555.0 139.4V145.0M555.5 139.5V144.6M556.0 139.5V144.6M556.5 140.0V145.3M557.0 140.0V145.3M557.5 139.8V145.8M558.0 139.8V144.2M558.5 139.8V144.4M559.0 139.8V146.9M559.5 140.0V144.7M560.0 140.0V144.7M560.5 139.7V144.5M561.0 139.7V144.5M561.5 140.0V144.3M562.0 137.6V144.3M562.5 139.1V144.3M563.0 139.1V144.3M563.5 139.1V144.5M564.0 139.1V144.5M564.5 139.9V144.5M565.0 139.9V144.5M565.5 139.9V145.0M566.0 139.9V145.0M566.5 138.1V144.9M567.0 136.1V144.9M567.5 139.8V144.9M568.0 139.8V144.9M568.5 139.6V144.8M569.0 139.6V146.8M569.5 139.6V145.0M570.0 139.6V145.0M570.5 139.2V148.9M571.0 139.2V146.0M571.5 139.4V144.4M572.0 126.5V144.4M572.5 138.6V145.5M573.0 126.5V145.5M573.5 139.9V144.2M574.0 126.5V144.2M574.5 139.4V146.0M575.0 139.4V146.0M575.5 139.7V147.1M576.0 139.7V144.3M576.5 139.6V144.3M577.0 139.6V144.3M577.5 137.5V144.5M578.0 137.5V144.5M578.5 139.7V144.3M579.0 139.7V144.3M579.5 139.3V144.2M580.0 139.3V144.2M580.5 139.6V144.2M581.0 139.6V144.2M581.5 139.9V144.4M582.0 139.9V144.4M582.5 140.0V145.2M583.0 140.0V145.2M583.5 139.1V144.3M584.0 139.1V144.3M584.5 139.9V144.8M585.0 139.9V144.8M585.5 139.9V145.2M586.0 139.9V145.2M586.5 139.5V144.3M587.0 139.5V144.3M587.5 139.8V144.4M588.0 134.7V144.4M588.5 139.6V147.2M589.0 139.6V147.2M589.5 139.6V144.9M590.0 139.6V144.9M590.5 140.0V144.6M591.0 140.0V144.6M591.5 138.7V145.3M592.0 138.7V145.3M592.5 137.6V144.3M593.0 137.6V144.3M593.5 139.6V145.1M594.0 139.6V145.1M594.5 139.8V145.0M595.0 139.8V145.0M595.5 126.5V144.5M596.0 138.6V144.5M596.5 139.7V144.4M597.0 139.7V144.4M597.5 139.4V144.7M598.0 139.4V144.7M598.5 138.8V145.1M599.0 138.8V145.1M599.5 139.7V145.2M600.0 139.7V145.2M600.5 138.8V145.6M601.0 138.8V145.6M601.5 139.3V144.3M602.0 139.3V144.3M602.5 139.4V144.4M603.0 139.4V144.4M603.5 138.9V145.0M604.0 138.9V145.0M604.5 140.0V144.3M605.0 140.0V144.3M605.5 139.8V144.2M606.0 139.8V144.2M606.5 139.9V144.3M607.0 136.6V144.3M607.5 139.8V144.4M608.0 139.8V144.4M608.5 137.7V144.4M609.0 139.7V144.4M609.5 139.8V144.9M610.0 139.8V144.9M610.5 137.5V144.8M611.0 139.6V144.8M611.5 139.8V147.3M612.0 139.8V144.6M612.5 139.7V145.0M613.0 139.7V145.0M613.5 139.6V144.6M614.0 137.4V144.6M614.5 139.8V144.8M615.0 139.8V144.8M615.5 139.4V146.1M616.0 139.4V146.1M616.5 139.3V145.0M617.0 139.3V145.0M617.5 139.1V144.4M618.0 139.1V146.6M618.5 139.9V144.3M619.0 139.9V144.3M619.5 139.4V145.9M620.0 139.4V145.9M620.5 139.2V144.8M621.0 139.2V144.8M621.5 137.8V145.3M622.0 140.0V145.3M622.5 139.7V144.7M623.0 139.7V144.7M623.5 139.4V144.7M624.0 139.4V144.7M624.5 139.8V148.5M625.0 139.8V148.5M625.5 138.9V145.7M626.0 138.9V145.7M626.5 139.2V144.2M627.0 139.2V144.2M627.5 139.9V144.3M628.0 139.9V144.3M628.5 139.6V144.5M629.0 139.6V144.5M629.5 138.0V146.9M630.0 138.0V144.5M630.5 137.3V144.3M631.0 139.5V144.3M631.5 139.1V144.9M632.0 139.1V144.9M632.5 138.5V144.5M633.0 138.5V146.2M633.5 139.6V145.5M634.0 139.6V148.0M634.5 139.9V144.5M635.0 139.9V144.5M635.5 139.9V144.6M636.0 139.9V144.6M636.5 139.6V144.5M637.0 139.6V144.5M637.5 139.6V144.8M638.0 139.6V144.8M638.5 139.5V144.4M639.0 139.5V144.4M639.5 139.2V145.3M640.0 139.2V145.3M640.5 139.1V146.3M641.0 139.1V146.3M641.5 139.4V144.2M642.0 139.4V144.2M642.5 138.3V144.2M643.0 138.3V144.2M643.5 137.8V144.5M644.0 137.8V144.5M644.5 139.2V144.7M645.0 139.2V144.7M645.5 138.8V145.0M646.0 138.8V145.0M646.5 135.0V144.5M647.0 139.7V144.5M647.5 139.9V144.6M648.0 139.9V144.6M648.5 139.5V144.8M649.0 139.5V144.8M649.5 138.4V157.0M650.0 138.4V144.5M650.5 139.9V146.2M651.0 139.9V146.2M651.5 137.4V144.2M652.0 139.7V144.2M652.5 139.4V144.3M653.0 139.4V144.3M653.5 137.9V144.6M654.0 139.7V144.6M654.5 140.0V144.4M655.0 140.0V144.4M655.5 137.5V145.2M656.0 137.5V145.2M656.5 139.5V144.5M657.0 139.5V144.5M657.5 139.8V144.3M658.0 139.8V146.7M658.5 139.7V144.3M659.0 139.7V144.3M659.5 140.0V146.6M660.0 140.0V144.8M660.5 139.5V144.3M661.0 139.5V144.3M661.5 136.9V144.5M662.0 139.0V144.5M662.5 134.0V144.9M663.0 139.5V144.9M663.5 139.1V145.0M664.0 139.1V145.0M664.5 139.6V144.5M665.0 139.6V144.5M665.5 139.1V144.2M666.0 139.1V144.2M666.5 139.6V144.5M667.0 139.6V144.5M667.5 139.4V144.5M668.0 139.4V144.5M668.5 138.8V144.6M669.0 138.8V144.6M669.5 135.7V144.4M670.0 137.4V144.4M670.5 139.7V146.7M671.0 139.7V146.7M671.5 135.5V147.6M672.0 137.9V145.0M672.5 139.9V144.3M673.0 139.9V144.3M673.5 139.5V144.3M674.0 139.5V144.3M674.5 139.6V144.6M675.0 139.6V144.6M675.5 139.5V145.2M676.0 139.5V145.2M676.5 138.9V144.3M677.0 138.9V144.3M677.5 139.7V145.2M678.0 139.7V145.2M678.5 137.5V144.8M679.0 137.5V144.8M679.5 139.5V148.2M680.0 137.0V145.2M680.5 139.1V145.2M681.0 139.1V145.2M681.5 139.5V145.0M682.0 139.5V145.0M682.5 139.6V144.8M683.0 139.6V144.8M683.5 139.7V145.5M684.0 139.7V145.5M684.5 140.0V150.8M685.0 140.0V144.8M685.5 137.6V144.7M686.0 137.6V144.7M686.5 139.4V144.7M687.0 139.4V144.7M687.5 138.3V145.0M688.0 138.3V147.1M688.5 137.6V144.4M689.0 137.6V146.4M689.5 139.1V146.8M690.0 139.1V146.8M690.5 139.7V145.2M691.0 139.7V145.2M691.5 139.6V144.3M692.0 139.6V144.3M692.5 139.9V145.0" stroke="#000" stroke-width="1" fill="none"/>
<rect x="79" y="510" width="614" height="3.5" fill="#000"/>
<line x1="74.0" y1="126.5" x2="709.0" y2="126.5" stroke="#000" stroke-width="1.0"/>
<line x1="74.0" y1="157.5" x2="709.0" y2="157.5" stroke="#000" stroke-width="1.0"/>
<line x1="79.5" y1="126.5" x2="79.5" y2="157.5" stroke="#000" stroke-width="1.0"/>
<line x1="703.5" y1="126.5" x2="703.5" y2="157.5" stroke="#000" stroke-width="1.0"/>
<line x1="74.0" y1="166.5" x2="709.0" y2="166.5" stroke="#000" stroke-width="1.0"/>
<line x1="74.0" y1="322.5" x2="709.0" y2="322.5" stroke="#000" stroke-width="1.0"/>
<line x1="703.5" y1="166.5" x2="703.5" y2="322.5" stroke="#000" stroke-width="1.0"/>
<line x1="74.0" y1="332.5" x2="709.0" y2="332.5" stroke="#000" stroke-width="1.0"/>
<line x1="74.0" y1="488.5" x2="709.0" y2="488.5" stroke="#000" stroke-width="1.0"/>
<line x1="703.5" y1="332.5" x2="703.5" y2="488.5" stroke="#000" stroke-width="1.0"/>
<line x1="74.0" y1="497.5" x2="709.0" y2="497.5" stroke="#000" stroke-width="1.0"/>
<line x1="74.0" y1="528.5" x2="709.0" y2="528.5" stroke="#000" stroke-width="1.0"/>
<line x1="79.5" y1="497.5" x2="79.5" y2="528.5" stroke="#000" stroke-width="1.0"/>
<line x1="703.5" y1="497.5" x2="703.5" y2="528.5" stroke="#000" stroke-width="1.0"/>
<line x1="79.5" y1="126.5" x2="79.5" y2="136.5" stroke="#000" stroke-width="1.0"/>
<line x1="79.5" y1="157.5" x2="79.5" y2="147.5" stroke="#000" stroke-width="1.0"/>
<line x1="79.5" y1="166.5" x2="79.5" y2="156.5" stroke="#000" stroke-width="1.0"/>
<line x1="79.5" y1="322.5" x2="79.5" y2="332.5" stroke="#000" stroke-width="1.0"/>
<line x1="79.5" y1="332.5" x2="79.5" y2="322.5" stroke="#000" stroke-width="1.0"/>
<line x1="79.5" y1="488.5" x2="79.5" y2="498.5" stroke="#000" stroke-width="1.0"/>
<line x1="79.5" y1="497.5" x2="79.5" y2="487.5" stroke="#000" stroke-width="1.0"/>
<line x1="79.5" y1="528.5" x2="79.5" y2="538.5" stroke="#000" stroke-width="1.0"/>
<line x1="89.5" y1="126.5" x2="89.5" y2="130.0" stroke="#000" stroke-width="1.0"/>
<line x1="89.5" y1="157.5" x2="89.5" y2="154.0" stroke="#000" stroke-width="1.0"/>
<line x1="89.5" y1="166.5" x2="89.5" y2="163.0" stroke="#000" stroke-width="1.0"/>
<line x1="89.5" y1="322.5" x2="89.5" y2="326.0" stroke="#000" stroke-width="1.0"/>
<line x1="89.5" y1="332.5" x2="89.5" y2="329.0" stroke="#000" stroke-width="1.0"/>
<line x1="89.5" y1="488.5" x2="89.5" y2="492.0" stroke="#000" stroke-width="1.0"/>
<line x1="89.5" y1="497.5" x2="89.5" y2="494.0" stroke="#000" stroke-width="1.0"/>
<line x1="89.5" y1="528.5" x2="89.5" y2="532.0" stroke="#000" stroke-width="1.0"/>
<line x1="100.5" y1="126.5" x2="100.5" y2="130.0" stroke="#000" stroke-width="1.0"/>
<line x1="100.5" y1="157.5" x2="100.5" y2="154.0" stroke="#000" stroke-width="1.0"/>
<line x1="100.5" y1="166.5" x2="100.5" y2="163.0" stroke="#000" stroke-width="1.0"/>
<line x1="100.5" y1="322.5" x2="100.5" y2="326.0" stroke="#000" stroke-width="1.0"/>
<line x1="100.5" y1="332.5" x2="100.5" y2="329.0" stroke="#000" stroke-width="1.0"/>
<line x1="100.5" y1="488.5" x2="100.5" y2="492.0" stroke="#000" stroke-width="1.0"/>
<line x1="100.5" y1="497.5" x2="100.5" y2="494.0" stroke="#000" stroke-width="1.0"/>
<line x1="100.5" y1="528.5" x2="100.5" y2="532.0" stroke="#000" stroke-width="1.0"/>
<line x1="110.5" y1="126.5" x2="110.5" y2="130.0" stroke="#000" stroke-width="1.0"/>
<line x1="110.5" y1="157.5" x2="110.5" y2="154.0" stroke="#000" stroke-width="1.0"/>
<line x1="110.5" y1="166.5" x2="110.5" y2="163.0" stroke="#000" stroke-width="1.0"/>
<line x1="110.5" y1="322.5" x2="110.5" y2="326.0" stroke="#000" stroke-width="1.0"/>
<line x1="110.5" y1="332.5" x2="110.5" y2="329.0" stroke="#000" stroke-width="1.0"/>
<line x1="110.5" y1="488.5" x2="110.5" y2="492.0" stroke="#000" stroke-width="1.0"/>
<line x1="110.5" y1="497.5" x2="110.5" y2="494.0" stroke="#000" stroke-width="1.0"/>
<line x1="110.5" y1="528.5" x2="110.5" y2="532.0" stroke="#000" stroke-width="1.0"/>
<line x1="120.5" y1="126.5" x2="120.5" y2="130.0" stroke="#000" stroke-width="1.0"/>
<line x1="120.5" y1="157.5" x2="120.5" y2="154.0" stroke="#000" stroke-width="1.0"/>
<line x1="120.5" y1="166.5" x2="120.5" y2="163.0" stroke="#000" stroke-width="1.0"/>
<line x1="120.5" y1="322.5" x2="120.5" y2="326.0" stroke="#000" stroke-width="1.0"/>
<line x1="120.5" y1="332.5" x2="120.5" y2="329.0" stroke="#000" stroke-width="1.0"/>
<line x1="120.5" y1="488.5" x2="120.5" y2="492.0" stroke="#000" stroke-width="1.0"/>
<line x1="120.5" y1="497.5" x2="120.5" y2="494.0" stroke="#000" stroke-width="1.0"/>
<line x1="120.5" y1="528.5" x2="120.5" y2="532.0" stroke="#000" stroke-width="1.0"/>
<line x1="131.5" y1="126.5" x2="131.5" y2="130.0" stroke="#000" stroke-width="1.0"/>
<line x1="131.5" y1="157.5" x2="131.5" y2="154.0" stroke="#000" stroke-width="1.0"/>
<line x1="131.5" y1="166.5" x2="131.5" y2="163.0" stroke="#000" stroke-width="1.0"/>
<line x1="131.5" y1="322.5" x2="131.5" y2="326.0" stroke="#000" stroke-width="1.0"/>
<line x1="131.5" y1="332.5" x2="131.5" y2="329.0" stroke="#000" stroke-width="1.0"/>
<line x1="131.5" y1="488.5" x2="131.5" y2="492.0" stroke="#000" stroke-width="1.0"/>
<line x1="131.5" y1="497.5" x2="131.5" y2="494.0" stroke="#000" stroke-width="1.0"/>
<line x1="131.5" y1="528.5" x2="131.5" y2="532.0" stroke="#000" stroke-width="1.0"/>
<line x1="141.5" y1="126.5" x2="141.5" y2="136.5" stroke="#000" stroke-width="1.0"/>
<line x1="141.5" y1="157.5" x2="141.5" y2="147.5" stroke="#000" stroke-width="1.0"/>
<line x1="141.5" y1="166.5" x2="141.5" y2="156.5" stroke="#000" stroke-width="1.0"/>
<line x1="141.5" y1="322.5" x2="141.5" y2="332.5" stroke="#000" stroke-width="1.0"/>
<line x1="141.5" y1="332.5" x2="141.5" y2="322.5" stroke="#000" stroke-width="1.0"/>
<line x1="141.5" y1="488.5" x2="141.5" y2="498.5" stroke="#000" stroke-width="1.0"/>
<line x1="141.5" y1="497.5" x2="141.5" y2="487.5" stroke="#000" stroke-width="1.0"/>
<line x1="141.5" y1="528.5" x2="141.5" y2="538.5" stroke="#000" stroke-width="1.0"/>
<line x1="152.5" y1="126.5" x2="152.5" y2="130.0" stroke="#000" stroke-width="1.0"/>
<line x1="152.5" y1="157.5" x2="152.5" y2="154.0" stroke="#000" stroke-width="1.0"/>
<line x1="152.5" y1="166.5" x2="152.5" y2="163.0" stroke="#000" stroke-width="1.0"/>
<line x1="152.5" y1="322.5" x2="152.5" y2="326.0" stroke="#000" stroke-width="1.0"/>
<line x1="152.5" y1="332.5" x2="152.5" y2="329.0" stroke="#000" stroke-width="1.0"/>
<line x1="152.5" y1="488.5" x2="152.5" y2="492.0" stroke="#000" stroke-width="1.0"/>
<line x1="152.5" y1="497.5" x2="152.5" y2="494.0" stroke="#000" stroke-width="1.0"/>
<line x1="152.5" y1="528.5" x2="152.5" y2="532.0" stroke="#000" stroke-width="1.0"/>
<line x1="162.5" y1="126.5" x2="162.5" y2="130.0" stroke="#000" stroke-width="1.0"/>
<line x1="162.5" y1="157.5" x2="162.5" y2="154.0" stroke="#000" stroke-width="1.0"/>
<line x1="162.5" y1="166.5" x2="162.5" y2="163.0" stroke="#000" stroke-width="1.0"/>
<line x1="162.5" y1="322.5" x2="162.5" y2="326.0" stroke="#000" stroke-width="1.0"/>
<line x1="162.5" y1="332.5" x2="162.5" y2="329.0" stroke="#000" stroke-width="1.0"/>
<line x1="162.5" y1="488.5" x2="162.5" y2="492.0" stroke="#000" stroke-width="1.0"/>
<line x1="162.5" y1="497.5" x2="162.5" y2="494.0" stroke="#000" stroke-width="1.0"/>
<line x1="162.5" y1="528.5" x2="162.5" y2="532.0" stroke="#000" stroke-width="1.0"/>
<line x1="172.5" y1="126.5" x2="172.5" y2="130.0" stroke="#000" stroke-width="1.0"/>
<line x1="172.5" y1="157.5" x2="172.5" y2="154.0" stroke="#000" stroke-width="1.0"/>
<line x1="172.5" y1="166.5" x2="172.5" y2="163.0" stroke="#000" stroke-width="1.0"/>
<line x1="172.5" y1="322.5" x2="172.5" y2="326.0" stroke="#000" stroke-width="1.0"/>
<line x1="172.5" y1="332.5" x2="172.5" y2="329.0" stroke="#000" stroke-width="1.0"/>
<line x1="172.5" y1="488.5" x2="172.5" y2="492.0" stroke="#000" stroke-width="1.0"/>
<line x1="172.5" y1="497.5" x2="172.5" y2="494.0" stroke="#000" stroke-width="1.0"/>
<line x1="172.5" y1="528.5" x2="172.5" y2="532.0" stroke="#000" stroke-width="1.0"/>
<line x1="183.5" y1="126.5" x2="183.5" y2="130.0" stroke="#000" stroke-width="1.0"/>
<line x1="183.5" y1="157.5" x2="183.5" y2="154.0" stroke="#000" stroke-width="1.0"/>
<line x1="183.5" y1="166.5" x2="183.5" y2="163.0" stroke="#000" stroke-width="1.0"/>
<line x1="183.5" y1="322.5" x2="183.5" y2="326.0" stroke="#000" stroke-width="1.0"/>
<line x1="183.5" y1="332.5" x2="183.5" y2="329.0" stroke="#000" stroke-width="1.0"/>
<line x1="183.5" y1="488.5" x2="183.5" y2="492.0" stroke="#000" stroke-width="1.0"/>
<line x1="183.5" y1="497.5" x2="183.5" y2="494.0" stroke="#000" stroke-width="1.0"/>
<line x1="183.5" y1="528.5" x2="183.5" y2="532.0" stroke="#000" stroke-width="1.0"/>
<line x1="193.5" y1="126.5" x2="193.5" y2="130.0" stroke="#000" stroke-width="1.0"/>
<line x1="193.5" y1="157.5" x2="193.5" y2="154.0" stroke="#000" stroke-width="1.0"/>
<line x1="193.5" y1="166.5" x2="193.5" y2="163.0" stroke="#000" stroke-width="1.0"/>
<line x1="193.5" y1="322.5" x2="193.5" y2="326.0" stroke="#000" stroke-width="1.0"/>
<line x1="193.5" y1="332.5" x2="193.5" y2="329.0" stroke="#000" stroke-width="1.0"/>
<line x1="193.5" y1="488.5" x2="193.5" y2="492.0" stroke="#000" stroke-width="1.0"/>
<line x1="193.5" y1="497.5" x2="193.5" y2="494.0" stroke="#000" stroke-width="1.0"/>
<line x1="193.5" y1="528.5" x2="193.5" y2="532.0" stroke="#000" stroke-width="1.0"/>
<line x1="204.5" y1="126.5" x2="204.5" y2="136.5" stroke="#000" stroke-width="1.0"/>
<line x1="204.5" y1="157.5" x2="204.5" y2="147.5" stroke="#000" stroke-width="1.0"/>
<line x1="204.5" y1="166.5" x2="204.5" y2="156.5" stroke="#000" stroke-width="1.0"/>
<line x1="204.5" y1="322.5" x2="204.5" y2="332.5" stroke="#000" stroke-width="1.0"/>
<line x1="204.5" y1="332.5" x2="204.5" y2="322.5" stroke="#000" stroke-width="1.0"/>
<line x1="204.5" y1="488.5" x2="204.5" y2="498.5" stroke="#000" stroke-width="1.0"/>
<line x1="204.5" y1="497.5" x2="204.5" y2="487.5" stroke="#000" stroke-width="1.0"/>
<line x1="204.5" y1="528.5" x2="204.5" y2="538.5" stroke="#000" stroke-width="1.0"/>
<line x1="214.5" y1="126.5" x2="214.5" y2="130.0" stroke="#000" stroke-width="1.0"/>
<line x1="214.5" y1="157.5" x2="214.5" y2="154.0" stroke="#000" stroke-width="1.0"/>
<line x1="214.5" y1="166.5" x2="214.5" y2="163.0" stroke="#000" stroke-width="1.0"/>
<line x1="214.5" y1="322.5" x2="214.5" y2="326.0" stroke="#000" stroke-width="1.0"/>
<line x1="214.5" y1="332.5" x2="214.5" y2="329.0" stroke="#000" stroke-width="1.0"/>
<line x1="214.5" y1="488.5" x2="214.5" y2="492.0" stroke="#000" stroke-width="1.0"/>
<line x1="214.5" y1="497.5" x2="214.5" y2="494.0" stroke="#000" stroke-width="1.0"/>
<line x1="214.5" y1="528.5" x2="214.5" y2="532.0" stroke="#000" stroke-width="1.0"/>
<line x1="224.5" y1="126.5" x2="224.5" y2="130.0" stroke="#000" stroke-width="1.0"/>
<line x1="224.5" y1="157.5" x2="224.5" y2="154.0" stroke="#000" stroke-width="1.0"/>
<line x1="224.5" y1="166.5" x2="224.5" y2="163.0" stroke="#000" stroke-width="1.0"/>
<line x1="224.5" y1="322.5" x2="224.5" y2="326.0" stroke="#000" stroke-width="1.0"/>
<line x1="224.5" y1="332.5" x2="224.5" y2="329.0" stroke="#000" stroke-width="1.0"/>
<line x1="224.5" y1="488.5" x2="224.5" y2="492.0" stroke="#000" stroke-width="1.0"/>
<line x1="224.5" y1="497.5" x2="224.5" y2="494.0" stroke="#000" stroke-width="1.0"/>
<line x1="224.5" y1="528.5" x2="224.5" y2="532.0" stroke="#000" stroke-width="1.0"/>
<line x1="235.5" y1="126.5" x2="235.5" y2="130.0" stroke="#000" stroke-width="1.0"/>
<line x1="235.5" y1="157.5" x2="235.5" y2="154.0" stroke="#000" stroke-width="1.0"/>
<line x1="235.5" y1="166.5" x2="235.5" y2="163.0" stroke="#000" stroke-width="1.0"/>
<line x1="235.5" y1="322.5" x2="235.5" y2="326.0" stroke="#000" stroke-width="1.0"/>
<line x1="235.5" y1="332.5" x2="235.5" y2="329.0" stroke="#000" stroke-width="1.0"/>
<line x1="235.5" y1="488.5" x2="235.5" y2="492.0" stroke="#000" stroke-width="1.0"/>
<line x1="235.5" y1="497.5" x2="235.5" y2="494.0" stroke="#000" stroke-width="1.0"/>
<line x1="235.5" y1="528.5" x2="235.5" y2="532.0" stroke="#000" stroke-width="1.0"/>
<line x1="245.5" y1="126.5" x2="245.5" y2="130.0" stroke="#000" stroke-width="1.0"/>
<line x1="245.5" y1="157.5" x2="245.5" y2="154.0" stroke="#000" stroke-width="1.0"/>
<line x1="245.5" y1="166.5" x2="245.5" y2="163.0" stroke="#000" stroke-width="1.0"/>
<line x1="245.5" y1="322.5" x2="245.5" y2="326.0" stroke="#000" stroke-width="1.0"/>
<line x1="245.5" y1="332.5" x2="245.5" y2="329.0" stroke="#000" stroke-width="1.0"/>
<line x1="245.5" y1="488.5" x2="245.5" y2="492.0" stroke="#000" stroke-width="1.0"/>
<line x1="245.5" y1="497.5" x2="245.5" y2="494.0" stroke="#000" stroke-width="1.0"/>
<line x1="245.5" y1="528.5" x2="245.5" y2="532.0" stroke="#000" stroke-width="1.0"/>
<line x1="256.5" y1="126.5" x2="256.5" y2="130.0" stroke="#000" stroke-width="1.0"/>
<line x1="256.5" y1="157.5" x2="256.5" y2="154.0" stroke="#000" stroke-width="1.0"/>
<line x1="256.5" y1="166.5" x2="256.5" y2="163.0" stroke="#000" stroke-width="1.0"/>
<line x1="256.5" y1="322.5" x2="256.5" y2="326.0" stroke="#000" stroke-width="1.0"/>
<line x1="256.5" y1="332.5" x2="256.5" y2="329.0" stroke="#000" stroke-width="1.0"/>
<line x1="256.5" y1="488.5" x2="256.5" y2="492.0" stroke="#000" stroke-width="1.0"/>
<line x1="256.5" y1="497.5" x2="256.5" y2="494.0" stroke="#000" stroke-width="1.0"/>
<line x1="256.5" y1="528.5" x2="256.5" y2="532.0" stroke="#000" stroke-width="1.0"/>
<line x1="266.5" y1="126.5" x2="266.5" y2="136.5" stroke="#000" stroke-width="1.0"/>
<line x1="266.5" y1="157.5" x2="266.5" y2="147.5" stroke="#000" stroke-width="1.0"/>
<line x1="266.5" y1="166.5" x2="266.5" y2="156.5" stroke="#000" stroke-width="1.0"/>
<line x1="266.5" y1="322.5" x2="266.5" y2="332.5" stroke="#000" stroke-width="1.0"/>
<line x1="266.5" y1="332.5" x2="266.5" y2="322.5" stroke="#000" stroke-width="1.0"/>
<line x1="266.5" y1="488.5" x2="266.5" y2="498.5" stroke="#000" stroke-width="1.0"/>
<line x1="266.5" y1="497.5" x2="266.5" y2="487.5" stroke="#000" stroke-width="1.0"/>
<line x1="266.5" y1="528.5" x2="266.5" y2="538.5" stroke="#000" stroke-width="1.0"/>
<line x1="276.5" y1="126.5" x2="276.5" y2="130.0" stroke="#000" stroke-width="1.0"/>
<line x1="276.5" y1="157.5" x2="276.5" y2="154.0" stroke="#000" stroke-width="1.0"/>
<line x1="276.5" y1="166.5" x2="276.5" y2="163.0" stroke="#000" stroke-width="1.0"/>
<line x1="276.5" y1="322.5" x2="276.5" y2="326.0" stroke="#000" stroke-width="1.0"/>
<line x1="276.5" y1="332.5" x2="276.5" y2="329.0" stroke="#000" stroke-width="1.0"/>
<line x1="276.5" y1="488.5" x2="276.5" y2="492.0" stroke="#000" stroke-width="1.0"/>
<line x1="276.5" y1="497.5" x2="276.5" y2="494.0" stroke="#000" stroke-width="1.0"/>
<line x1="276.5" y1="528.5" x2="276.5" y2="532.0" stroke="#000" stroke-width="1.0"/>
<line x1="287.5" y1="126.5" x2="287.5" y2="130.0" stroke="#000" stroke-width="1.0"/>
<line x1="287.5" y1="157.5" x2="287.5" y2="154.0" stroke="#000" stroke-width="1.0"/>
<line x1="287.5" y1="166.5" x2="287.5" y2="163.0" stroke="#000" stroke-width="1.0"/>
<line x1="287.5" y1="322.5" x2="287.5" y2="326.0" stroke="#000" stroke-width="1.0"/>
<line x1="287.5" y1="332.5" x2="287.5" y2="329.0" stroke="#000" stroke-width="1.0"/>
<line x1="287.5" y1="488.5" x2="287.5" y2="492.0" stroke="#000" stroke-width="1.0"/>
<line x1="287.5" y1="497.5" x2="287.5" y2="494.0" stroke="#000" stroke-width="1.0"/>
<line x1="287.5" y1="528.5" x2="287.5" y2="532.0" stroke="#000" stroke-width="1.0"/>
<line x1="297.5" y1="126.5" x2="297.5" y2="130.0" stroke="#000" stroke-width="1.0"/>
<line x1="297.5" y1="157.5" x2="297.5" y2="154.0" stroke="#000" stroke-width="1.0"/>
<line x1="297.5" y1="166.5" x2="297.5" y2="163.0" stroke="#000" stroke-width="1.0"/>
<line x1="297.5" y1="322.5" x2="297.5" y2="326.0" stroke="#000" stroke-width="1.0"/>
<line x1="297.5" y1="332.5" x2="297.5" y2="329.0" stroke="#000" stroke-width="1.0"/>
<line x1="297.5" y1="488.5" x2="297.5" y2="492.0" stroke="#000" stroke-width="1.0"/>
<line x1="297.5" y1="497.5" x2="297.5" y2="494.0" stroke="#000" stroke-width="1.0"/>
<line x1="297.5" y1="528.5" x2="297.5" y2="532.0" stroke="#000" stroke-width="1.0"/>
<line x1="308.5" y1="126.5" x2="308.5" y2="130.0" stroke="#000" stroke-width="1.0"/>
<line x1="308.5" y1="157.5" x2="308.5" y2="154.0" stroke="#000" stroke-width="1.0"/>
<line x1="308.5" y1="166.5" x2="308.5" y2="163.0" stroke="#000" stroke-width="1.0"/>
<line x1="308.5" y1="322.5" x2="308.5" y2="326.0" stroke="#000" stroke-width="1.0"/>
<line x1="308.5" y1="332.5" x2="308.5" y2="329.0" stroke="#000" stroke-width="1.0"/>
<line x1="308.5" y1="488.5" x2="308.5" y2="492.0" stroke="#000" stroke-width="1.0"/>
<line x1="308.5" y1="497.5" x2="308.5" y2="494.0" stroke="#000" stroke-width="1.0"/>
<line x1="308.5" y1="528.5" x2="308.5" y2="532.0" stroke="#000" stroke-width="1.0"/>
<line x1="318.5" y1="126.5" x2="318.5" y2="130.0" stroke="#000" stroke-width="1.0"/>
<line x1="318.5" y1="157.5" x2="318.5" y2="154.0" stroke="#000" stroke-width="1.0"/>
<line x1="318.5" y1="166.5" x2="318.5" y2="163.0" stroke="#000" stroke-width="1.0"/>
<line x1="318.5" y1="322.5" x2="318.5" y2="326.0" stroke="#000" stroke-width="1.0"/>
<line x1="318.5" y1="332.5" x2="318.5" y2="329.0" stroke="#000" stroke-width="1.0"/>
<line x1="318.5" y1="488.5" x2="318.5" y2="492.0" stroke="#000" stroke-width="1.0"/>
<line x1="318.5" y1="497.5" x2="318.5" y2="494.0" stroke="#000" stroke-width="1.0"/>
<line x1="318.5" y1="528.5" x2="318.5" y2="532.0" stroke="#000" stroke-width="1.0"/>
<line x1="328.5" y1="126.5" x2="328.5" y2="136.5" stroke="#000" stroke-width="1.0"/>
<line x1="328.5" y1="157.5" x2="328.5" y2="147.5" stroke="#000" stroke-width="1.0"/>
<line x1="328.5" y1="166.5" x2="328.5" y2="156.5" stroke="#000" stroke-width="1.0"/>
<line x1="328.5" y1="322.5" x2="328.5" y2="332.5" stroke="#000" stroke-width="1.0"/>
<line x1="328.5" y1="332.5" x2="328.5" y2="322.5" stroke="#000" stroke-width="1.0"/>
<line x1="328.5" y1="488.5" x2="328.5" y2="498.5" stroke="#000" stroke-width="1.0"/>
<line x1="328.5" y1="497.5" x2="328.5" y2="487.5" stroke="#000" stroke-width="1.0"/>
<line x1="328.5" y1="528.5" x2="328.5" y2="538.5" stroke="#000" stroke-width="1.0"/>
<line x1="339.5" y1="126.5" x2="339.5" y2="130.0" stroke="#000" stroke-width="1.0"/>
<line x1="339.5" y1="157.5" x2="339.5" y2="154.0" stroke="#000" stroke-width="1.0"/>
<line x1="339.5" y1="166.5" x2="339.5" y2="163.0" stroke="#000" stroke-width="1.0"/>
<line x1="339.5" y1="322.5" x2="339.5" y2="326.0" stroke="#000" stroke-width="1.0"/>
<line x1="339.5" y1="332.5" x2="339.5" y2="329.0" stroke="#000" stroke-width="1.0"/>
<line x1="339.5" y1="488.5" x2="339.5" y2="492.0" stroke="#000" stroke-width="1.0"/>
<line x1="339.5" y1="497.5" x2="339.5" y2="494.0" stroke="#000" stroke-width="1.0"/>
<line x1="339.5" y1="528.5" x2="339.5" y2="532.0" stroke="#000" stroke-width="1.0"/>
<line x1="349.5" y1="126.5" x2="349.5" y2="130.0" stroke="#000" stroke-width="1.0"/>
<line x1="349.5" y1="157.5" x2="349.5" y2="154.0" stroke="#000" stroke-width="1.0"/>
<line x1="349.5" y1="166.5" x2="349.5" y2="163.0" stroke="#000" stroke-width="1.0"/>
<line x1="349.5" y1="322.5" x2="349.5" y2="326.0" stroke="#000" stroke-width="1.0"/>
<line x1="349.5" y1="332.5" x2="349.5" y2="329.0" stroke="#000" stroke-width="1.0"/>
<line x1="349.5" y1="488.5" x2="349.5" y2="492.0" stroke="#000" stroke-width="1.0"/>
<line x1="349.5" y1="497.5" x2="349.5" y2="494.0" stroke="#000" stroke-width="1.0"/>
<line x1="349.5" y1="528.5" x2="349.5" y2="532.0" stroke="#000" stroke-width="1.0"/>
<line x1="360.5" y1="126.5" x2="360.5" y2="130.0" stroke="#000" stroke-width="1.0"/>
<line x1="360.5" y1="157.5" x2="360.5" y2="154.0" stroke="#000" stroke-width="1.0"/>
<line x1="360.5" y1="166.5" x2="360.5" y2="163.0" stroke="#000" stroke-width="1.0"/>
<line x1="360.5" y1="322.5" x2="360.5" y2="326.0" stroke="#000" stroke-width="1.0"/>
<line x1="360.5" y1="332.5" x2="360.5" y2="329.0" stroke="#000" stroke-width="1.0"/>
<line x1="360.5" y1="488.5" x2="360.5" y2="492.0" stroke="#000" stroke-width="1.0"/>
<line x1="360.5" y1="497.5" x2="360.5" y2="494.0" stroke="#000" stroke-width="1.0"/>
<line x1="360.5" y1="528.5" x2="360.5" y2="532.0" stroke="#000" stroke-width="1.0"/>
<line x1="370.5" y1="126.5" x2="370.5" y2="130.0" stroke="#000" stroke-width="1.0"/>
<line x1="370.5" y1="157.5" x2="370.5" y2="154.0" stroke="#000" stroke-width="1.0"/>
<line x1="370.5" y1="166.5" x2="370.5" y2="163.0" stroke="#000" stroke-width="1.0"/>
<line x1="370.5" y1="322.5" x2="370.5" y2="326.0" stroke="#000" stroke-width="1.0"/>
<line x1="370.5" y1="332.5" x2="370.5" y2="329.0" stroke="#000" stroke-width="1.0"/>
<line x1="370.5" y1="488.5" x2="370.5" y2="492.0" stroke="#000" stroke-width="1.0"/>
<line x1="370.5" y1="497.5" x2="370.5" y2="494.0" stroke="#000" stroke-width="1.0"/>
<line x1="370.5" y1="528.5" x2="370.5" y2="532.0" stroke="#000" stroke-width="1.0"/>
<line x1="380.5" y1="126.5" x2="380.5" y2="130.0" stroke="#000" stroke-width="1.0"/>
<line x1="380.5" y1="157.5" x2="380.5" y2="154.0" stroke="#000" stroke-width="1.0"/>
<line x1="380.5" y1="166.5" x2="380.5" y2="163.0" stroke="#000" stroke-width="1.0"/>
<line x1="380.5" y1="322.5" x2="380.5" y2="326.0" stroke="#000" stroke-width="1.0"/>
<line x1="380.5" y1="332.5" x2="380.5" y2="329.0" stroke="#000" stroke-width="1.0"/>
<line x1="380.5" y1="488.5" x2="380.5" y2="492.0" stroke="#000" stroke-width="1.0"/>
<line x1="380.5" y1="497.5" x2="380.5" y2="494.0" stroke="#000" stroke-width="1.0"/>
<line x1="380.5" y1="528.5" x2="380.5" y2="532.0" stroke="#000" stroke-width="1.0"/>
<line x1="391.5" y1="126.5" x2="391.5" y2="136.5" stroke="#000" stroke-width="1.0"/>
<line x1="391.5" y1="157.5" x2="391.5" y2="147.5" stroke="#000" stroke-width="1.0"/>
<line x1="391.5" y1="166.5" x2="391.5" y2="156.5" stroke="#000" stroke-width="1.0"/>
<line x1="391.5" y1="322.5" x2="391.5" y2="332.5" stroke="#000" stroke-width="1.0"/>
<line x1="391.5" y1="332.5" x2="391.5" y2="322.5" stroke="#000" stroke-width="1.0"/>
<line x1="391.5" y1="488.5" x2="391.5" y2="498.5" stroke="#000" stroke-width="1.0"/>
<line x1="391.5" y1="497.5" x2="391.5" y2="487.5" stroke="#000" stroke-width="1.0"/>
<line x1="391.5" y1="528.5" x2="391.5" y2="538.5" stroke="#000" stroke-width="1.0"/>
<line x1="401.5" y1="126.5" x2="401.5" y2="130.0" stroke="#000" stroke-width="1.0"/>
<line x1="401.5" y1="157.5" x2="401.5" y2="154.0" stroke="#000" stroke-width="1.0"/>
<line x1="401.5" y1="166.5" x2="401.5" y2="163.0" stroke="#000" stroke-width="1.0"/>
<line x1="401.5" y1="322.5" x2="401.5" y2="326.0" stroke="#000" stroke-width="1.0"/>
<line x1="401.5" y1="332.5" x2="401.5" y2="329.0" stroke="#000" stroke-width="1.0"/>
<line x1="401.5" y1="488.5" x2="401.5" y2="492.0" stroke="#000" stroke-width="1.0"/>
<line x1="401.5" y1="497.5" x2="401.5" y2="494.0" stroke="#000" stroke-width="1.0"/>
<line x1="401.5" y1="528.5" x2="401.5" y2="532.0" stroke="#000" stroke-width="1.0"/>
<line x1="412.5" y1="126.5" x2="412.5" y2="130.0" stroke="#000" stroke-width="1.0"/>
<line x1="412.5" y1="157.5" x2="412.5" y2="154.0" stroke="#000" stroke-width="1.0"/>
<line x1="412.5" y1="166.5" x2="412.5" y2="163.0" stroke="#000" stroke-width="1.0"/>
<line x1="412.5" y1="322.5" x2="412.5" y2="326.0" stroke="#000" stroke-width="1.0"/>
<line x1="412.5" y1="332.5" x2="412.5" y2="329.0" stroke="#000" stroke-width="1.0"/>
<line x1="412.5" y1="488.5" x2="412.5" y2="492.0" stroke="#000" stroke-width="1.0"/>
<line x1="412.5" y1="497.5" x2="412.5" y2="494.0" stroke="#000" stroke-width="1.0"/>
<line x1="412.5" y1="528.5" x2="412.5" y2="532.0" stroke="#000" stroke-width="1.0"/>
<line x1="422.5" y1="126.5" x2="422.5" y2="130.0" stroke="#000" stroke-width="1.0"/>
<line x1="422.5" y1="157.5" x2="422.5" y2="154.0" stroke="#000" stroke-width="1.0"/>
<line x1="422.5" y1="166.5" x2="422.5" y2="163.0" stroke="#000" stroke-width="1.0"/>
<line x1="422.5" y1="322.5" x2="422.5" y2="326.0" stroke="#000" stroke-width="1.0"/>
<line x1="422.5" y1="332.5" x2="422.5" y2="329.0" stroke="#000" stroke-width="1.0"/>
<line x1="422.5" y1="488.5" x2="422.5" y2="492.0" stroke="#000" stroke-width="1.0"/>
<line x1="422.5" y1="497.5" x2="422.5" y2="494.0" stroke="#000" stroke-width="1.0"/>
<line x1="422.5" y1="528.5" x2="422.5" y2="532.0" stroke="#000" stroke-width="1.0"/>
<line x1="432.5" y1="126.5" x2="432.5" y2="130.0" stroke="#000" stroke-width="1.0"/>
<line x1="432.5" y1="157.5" x2="432.5" y2="154.0" stroke="#000" stroke-width="1.0"/>
<line x1="432.5" y1="166.5" x2="432.5" y2="163.0" stroke="#000" stroke-width="1.0"/>
<line x1="432.5" y1="322.5" x2="432.5" y2="326.0" stroke="#000" stroke-width="1.0"/>
<line x1="432.5" y1="332.5" x2="432.5" y2="329.0" stroke="#000" stroke-width="1.0"/>
<line x1="432.5" y1="488.5" x2="432.5" y2="492.0" stroke="#000" stroke-width="1.0"/>
<line x1="432.5" y1="497.5" x2="432.5" y2="494.0" stroke="#000" stroke-width="1.0"/>
<line x1="432.5" y1="528.5" x2="432.5" y2="532.0" stroke="#000" stroke-width="1.0"/>
<line x1="443.5" y1="126.5" x2="443.5" y2="130.0" stroke="#000" stroke-width="1.0"/>
<line x1="443.5" y1="157.5" x2="443.5" y2="154.0" stroke="#000" stroke-width="1.0"/>
<line x1="443.5" y1="166.5" x2="443.5" y2="163.0" stroke="#000" stroke-width="1.0"/>
<line x1="443.5" y1="322.5" x2="443.5" y2="326.0" stroke="#000" stroke-width="1.0"/>
<line x1="443.5" y1="332.5" x2="443.5" y2="329.0" stroke="#000" stroke-width="1.0"/>
<line x1="443.5" y1="488.5" x2="443.5" y2="492.0" stroke="#000" stroke-width="1.0"/>
<line x1="443.5" y1="497.5" x2="443.5" y2="494.0" stroke="#000" stroke-width="1.0"/>
<line x1="443.5" y1="528.5" x2="443.5" y2="532.0" stroke="#000" stroke-width="1.0"/>
<line x1="453.5" y1="126.5" x2="453.5" y2="136.5" stroke="#000" stroke-width="1.0"/>
<line x1="453.5" y1="157.5" x2="453.5" y2="147.5" stroke="#000" stroke-width="1.0"/>
<line x1="453.5" y1="166.5" x2="453.5" y2="156.5" stroke="#000" stroke-width="1.0"/>
<line x1="453.5" y1="322.5" x2="453.5" y2="332.5" stroke="#000" stroke-width="1.0"/>
<line x1="453.5" y1="332.5" x2="453.5" y2="322.5" stroke="#000" stroke-width="1.0"/>
<line x1="453.5" y1="488.5" x2="453.5" y2="498.5" stroke="#000" stroke-width="1.0"/>
<line x1="453.5" y1="497.5" x2="453.5" y2="487.5" stroke="#000" stroke-width="1.0"/>
<line x1="453.5" y1="528.5" x2="453.5" y2="538.5" stroke="#000" stroke-width="1.0"/>
<line x1="464.5" y1="126.5" x2="464.5" y2="130.0" stroke="#000" stroke-width="1.0"/>
<line x1="464.5" y1="157.5" x2="464.5" y2="154.0" stroke="#000" stroke-width="1.0"/>
<line x1="464.5" y1="166.5" x2="464.5" y2="163.0" stroke="#000" stroke-width="1.0"/>
<line x1="464.5" y1="322.5" x2="464.5" y2="326.0" stroke="#000" stroke-width="1.0"/>
<line x1="464.5" y1="332.5" x2="464.5" y2="329.0" stroke="#000" stroke-width="1.0"/>
<line x1="464.5" y1="488.5" x2="464.5" y2="492.0" stroke="#000" stroke-width="1.0"/>
<line x1="464.5" y1="497.5" x2="464.5" y2="494.0" stroke="#000" stroke-width="1.0"/>
<line x1="464.5" y1="528.5" x2="464.5" y2="532.0" stroke="#000" stroke-width="1.0"/>
<line x1="474.5" y1="126.5" x2="474.5" y2="130.0" stroke="#000" stroke-width="1.0"/>
<line x1="474.5" y1="157.5" x2="474.5" y2="154.0" stroke="#000" stroke-width="1.0"/>
<line x1="474.5" y1="166.5" x2="474.5" y2="163.0" stroke="#000" stroke-width="1.0"/>
<line x1="474.5" y1="322.5" x2="474.5" y2="326.0" stroke="#000" stroke-width="1.0"/>
<line x1="474.5" y1="332.5" x2="474.5" y2="329.0" stroke="#000" stroke-width="1.0"/>
<line x1="474.5" y1="488.5" x2="474.5" y2="492.0" stroke="#000" stroke-width="1.0"/>
<line x1="474.5" y1="497.5" x2="474.5" y2="494.0" stroke="#000" stroke-width="1.0"/>
<line x1="474.5" y1="528.5" x2="474.5" y2="532.0" stroke="#000" stroke-width="1.0"/>
<line x1="484.5" y1="126.5" x2="484.5" y2="130.0" stroke="#000" stroke-width="1.0"/>
<line x1="484.5" y1="157.5" x2="484.5" y2="154.0" stroke="#000" stroke-width="1.0"/>
<line x1="484.5" y1="166.5" x2="484.5" y2="163.0" stroke="#000" stroke-width="1.0"/>
<line x1="484.5" y1="322.5" x2="484.5" y2="326.0" stroke="#000" stroke-width="1.0"/>
<line x1="484.5" y1="332.5" x2="484.5" y2="329.0" stroke="#000" stroke-width="1.0"/>
<line x1="484.5" y1="488.5" x2="484.5" y2="492.0" stroke="#000" stroke-width="1.0"/>
<line x1="484.5" y1="497.5" x2="484.5" y2="494.0" stroke="#000" stroke-width="1.0"/>
<line x1="484.5" y1="528.5" x2="484.5" y2="532.0" stroke="#000" stroke-width="1.0"/>
<line x1="495.5" y1="126.5" x2="495.5" y2="130.0" stroke="#000" stroke-width="1.0"/>
<line x1="495.5" y1="157.5" x2="495.5" y2="154.0" stroke="#000" stroke-width="1.0"/>
<line x1="495.5" y1="166.5" x2="495.5" y2="163.0" stroke="#000" stroke-width="1.0"/>
<line x1="495.5" y1="322.5" x2="495.5" y2="326.0" stroke="#000" stroke-width="1.0"/>
<line x1="495.5" y1="332.5" x2="495.5" y2="329.0" stroke="#000" stroke-width="1.0"/>
<line x1="495.5" y1="488.5" x2="495.5" y2="492.0" stroke="#000" stroke-width="1.0"/>
<line x1="495.5" y1="497.5" x2="495.5" y2="494.0" stroke="#000" stroke-width="1.0"/>
<line x1="495.5" y1="528.5" x2="495.5" y2="532.0" stroke="#000" stroke-width="1.0"/>
<line x1="505.5" y1="126.5" x2="505.5" y2="130.0" stroke="#000" stroke-width="1.0"/>
<line x1="505.5" y1="157.5" x2="505.5" y2="154.0" stroke="#000" stroke-width="1.0"/>
<line x1="505.5" y1="166.5" x2="505.5" y2="163.0" stroke="#000" stroke-width="1.0"/>
<line x1="505.5" y1="322.5" x2="505.5" y2="326.0" stroke="#000" stroke-width="1.0"/>
<line x1="505.5" y1="332.5" x2="505.5" y2="329.0" stroke="#000" stroke-width="1.0"/>
<line x1="505.5" y1="488.5" x2="505.5" y2="492.0" stroke="#000" stroke-width="1.0"/>
<line x1="505.5" y1="497.5" x2="505.5" y2="494.0" stroke="#000" stroke-width="1.0"/>
<line x1="505.5" y1="528.5" x2="505.5" y2="532.0" stroke="#000" stroke-width="1.0"/>
<line x1="516.5" y1="126.5" x2="516.5" y2="136.5" stroke="#000" stroke-width="1.0"/>
<line x1="516.5" y1="157.5" x2="516.5" y2="147.5" stroke="#000" stroke-width="1.0"/>
<line x1="516.5" y1="166.5" x2="516.5" y2="156.5" stroke="#000" stroke-width="1.0"/>
<line x1="516.5" y1="322.5" x2="516.5" y2="332.5" stroke="#000" stroke-width="1.0"/>
<line x1="516.5" y1="332.5" x2="516.5" y2="322.5" stroke="#000" stroke-width="1.0"/>
<line x1="516.5" y1="488.5" x2="516.5" y2="498.5" stroke="#000" stroke-width="1.0"/>
<line x1="516.5" y1="497.5" x2="516.5" y2="487.5" stroke="#000" stroke-width="1.0"/>
<line x1="516.5" y1="528.5" x2="516.5" y2="538.5" stroke="#000" stroke-width="1.0"/>
<line x1="526.5" y1="126.5" x2="526.5" y2="130.0" stroke="#000" stroke-width="1.0"/>
<line x1="526.5" y1="157.5" x2="526.5" y2="154.0" stroke="#000" stroke-width="1.0"/>
<line x1="526.5" y1="166.5" x2="526.5" y2="163.0" stroke="#000" stroke-width="1.0"/>
<line x1="526.5" y1="322.5" x2="526.5" y2="326.0" stroke="#000" stroke-width="1.0"/>
<line x1="526.5" y1="332.5" x2="526.5" y2="329.0" stroke="#000" stroke-width="1.0"/>
<line x1="526.5" y1="488.5" x2="526.5" y2="492.0" stroke="#000" stroke-width="1.0"/>
<line x1="526.5" y1="497.5" x2="526.5" y2="494.0" stroke="#000" stroke-width="1.0"/>
<line x1="526.5" y1="528.5" x2="526.5" y2="532.0" stroke="#000" stroke-width="1.0"/>
<line x1="536.5" y1="126.5" x2="536.5" y2="130.0" stroke="#000" stroke-width="1.0"/>
<line x1="536.5" y1="157.5" x2="536.5" y2="154.0" stroke="#000" stroke-width="1.0"/>
<line x1="536.5" y1="166.5" x2="536.5" y2="163.0" stroke="#000" stroke-width="1.0"/>
<line x1="536.5" y1="322.5" x2="536.5" y2="326.0" stroke="#000" stroke-width="1.0"/>
<line x1="536.5" y1="332.5" x2="536.5" y2="329.0" stroke="#000" stroke-width="1.0"/>
<line x1="536.5" y1="488.5" x2="536.5" y2="492.0" stroke="#000" stroke-width="1.0"/>
<line x1="536.5" y1="497.5" x2="536.5" y2="494.0" stroke="#000" stroke-width="1.0"/>
<line x1="536.5" y1="528.5" x2="536.5" y2="532.0" stroke="#000" stroke-width="1.0"/>
<line x1="547.5" y1="126.5" x2="547.5" y2="130.0" stroke="#000" stroke-width="1.0"/>
<line x1="547.5" y1="157.5" x2="547.5" y2="154.0" stroke="#000" stroke-width="1.0"/>
<line x1="547.5" y1="166.5" x2="547.5" y2="163.0" stroke="#000" stroke-width="1.0"/>
<line x1="547.5" y1="322.5" x2="547.5" y2="326.0" stroke="#000" stroke-width="1.0"/>
<line x1="547.5" y1="332.5" x2="547.5" y2="329.0" stroke="#000" stroke-width="1.0"/>
<line x1="547.5" y1="488.5" x2="547.5" y2="492.0" stroke="#000" stroke-width="1.0"/>
<line x1="547.5" y1="497.5" x2="547.5" y2="494.0" stroke="#000" stroke-width="1.0"/>
<line x1="547.5" y1="528.5" x2="547.5" y2="532.0" stroke="#000" stroke-width="1.0"/>
<line x1="557.5" y1="126.5" x2="557.5" y2="130.0" stroke="#000" stroke-width="1.0"/>
<line x1="557.5" y1="157.5" x2="557.5" y2="154.0" stroke="#000" stroke-width="1.0"/>
<line x1="557.5" y1="166.5" x2="557.5" y2="163.0" stroke="#000" stroke-width="1.0"/>
<line x1="557.5" y1="322.5" x2="557.5" y2="326.0" stroke="#000" stroke-width="1.0"/>
<line x1="557.5" y1="332.5" x2="557.5" y2="329.0" stroke="#000" stroke-width="1.0"/>
<line x1="557.5" y1="488.5" x2="557.5" y2="492.0" stroke="#000" stroke-width="1.0"/>
<line x1="557.5" y1="497.5" x2="557.5" y2="494.0" stroke="#000" stroke-width="1.0"/>
<line x1="557.5" y1="528.5" x2="557.5" y2="532.0" stroke="#000" stroke-width="1.0"/>
<line x1="568.5" y1="126.5" x2="568.5" y2="130.0" stroke="#000" stroke-width="1.0"/>
<line x1="568.5" y1="157.5" x2="568.5" y2="154.0" stroke="#000" stroke-width="1.0"/>
<line x1="568.5" y1="166.5" x2="568.5" y2="163.0" stroke="#000" stroke-width="1.0"/>
<line x1="568.5" y1="322.5" x2="568.5" y2="326.0" stroke="#000" stroke-width="1.0"/>
<line x1="568.5" y1="332.5" x2="568.5" y2="329.0" stroke="#000" stroke-width="1.0"/>
<line x1="568.5" y1="488.5" x2="568.5" y2="492.0" stroke="#000" stroke-width="1.0"/>
<line x1="568.5" y1="497.5" x2="568.5" y2="494.0" stroke="#000" stroke-width="1.0"/>
<line x1="568.5" y1="528.5" x2="568.5" y2="532.0" stroke="#000" stroke-width="1.0"/>
<line x1="578.5" y1="126.5" x2="578.5" y2="136.5" stroke="#000" stroke-width="1.0"/>
<line x1="578.5" y1="157.5" x2="578.5" y2="147.5" stroke="#000" stroke-width="1.0"/>
<line x1="578.5" y1="166.5" x2="578.5" y2="156.5" stroke="#000" stroke-width="1.0"/>
<line x1="578.5" y1="322.5" x2="578.5" y2="332.5" stroke="#000" stroke-width="1.0"/>
<line x1="578.5" y1="332.5" x2="578.5" y2="322.5" stroke="#000" stroke-width="1.0"/>
<line x1="578.5" y1="488.5" x2="578.5" y2="498.5" stroke="#000" stroke-width="1.0"/>
<line x1="578.5" y1="497.5" x2="578.5" y2="487.5" stroke="#000" stroke-width="1.0"/>
<line x1="578.5" y1="528.5" x2="578.5" y2="538.5" stroke="#000" stroke-width="1.0"/>
<line x1="588.5" y1="126.5" x2="588.5" y2="130.0" stroke="#000" stroke-width="1.0"/>
<line x1="588.5" y1="157.5" x2="588.5" y2="154.0" stroke="#000" stroke-width="1.0"/>
<line x1="588.5" y1="166.5" x2="588.5" y2="163.0" stroke="#000" stroke-width="1.0"/>
<line x1="588.5" y1="322.5" x2="588.5" y2="326.0" stroke="#000" stroke-width="1.0"/>
<line x1="588.5" y1="332.5" x2="588.5" y2="329.0" stroke="#000" stroke-width="1.0"/>
<line x1="588.5" y1="488.5" x2="588.5" y2="492.0" stroke="#000" stroke-width="1.0"/>
<line x1="588.5" y1="497.5" x2="588.5" y2="494.0" stroke="#000" stroke-width="1.0"/>
<line x1="588.5" y1="528.5" x2="588.5" y2="532.0" stroke="#000" stroke-width="1.0"/>
<line x1="599.5" y1="126.5" x2="599.5" y2="130.0" stroke="#000" stroke-width="1.0"/>
<line x1="599.5" y1="157.5" x2="599.5" y2="154.0" stroke="#000" stroke-width="1.0"/>
<line x1="599.5" y1="166.5" x2="599.5" y2="163.0" stroke="#000" stroke-width="1.0"/>
<line x1="599.5" y1="322.5" x2="599.5" y2="326.0" stroke="#000" stroke-width="1.0"/>
<line x1="599.5" y1="332.5" x2="599.5" y2="329.0" stroke="#000" stroke-width="1.0"/>
<line x1="599.5" y1="488.5" x2="599.5" y2="492.0" stroke="#000" stroke-width="1.0"/>
<line x1="599.5" y1="497.5" x2="599.5" y2="494.0" stroke="#000" stroke-width="1.0"/>
<line x1="599.5" y1="528.5" x2="599.5" y2="532.0" stroke="#000" stroke-width="1.0"/>
<line x1="609.5" y1="126.5" x2="609.5" y2="130.0" stroke="#000" stroke-width="1.0"/>
<line x1="609.5" y1="157.5" x2="609.5" y2="154.0" stroke="#000" stroke-width="1.0"/>
<line x1="609.5" y1="166.5" x2="609.5" y2="163.0" stroke="#000" stroke-width="1.0"/>
<line x1="609.5" y1="322.5" x2="609.5" y2="326.0" stroke="#000" stroke-width="1.0"/>
<line x1="609.5" y1="332.5" x2="609.5" y2="329.0" stroke="#000" stroke-width="1.0"/>
<line x1="609.5" y1="488.5" x2="609.5" y2="492.0" stroke="#000" stroke-width="1.0"/>
<line x1="609.5" y1="497.5" x2="609.5" y2="494.0" stroke="#000" stroke-width="1.0"/>
<line x1="609.5" y1="528.5" x2="609.5" y2="532.0" stroke="#000" stroke-width="1.0"/>
<line x1="620.5" y1="126.5" x2="620.5" y2="130.0" stroke="#000" stroke-width="1.0"/>
<line x1="620.5" y1="157.5" x2="620.5" y2="154.0" stroke="#000" stroke-width="1.0"/>
<line x1="620.5" y1="166.5" x2="620.5" y2="163.0" stroke="#000" stroke-width="1.0"/>
<line x1="620.5" y1="322.5" x2="620.5" y2="326.0" stroke="#000" stroke-width="1.0"/>
<line x1="620.5" y1="332.5" x2="620.5" y2="329.0" stroke="#000" stroke-width="1.0"/>
<line x1="620.5" y1="488.5" x2="620.5" y2="492.0" stroke="#000" stroke-width="1.0"/>
<line x1="620.5" y1="497.5" x2="620.5" y2="494.0" stroke="#000" stroke-width="1.0"/>
<line x1="620.5" y1="528.5" x2="620.5" y2="532.0" stroke="#000" stroke-width="1.0"/>
<line x1="630.5" y1="126.5" x2="630.5" y2="130.0" stroke="#000" stroke-width="1.0"/>
<line x1="630.5" y1="157.5" x2="630.5" y2="154.0" stroke="#000" stroke-width="1.0"/>
<line x1="630.5" y1="166.5" x2="630.5" y2="163.0" stroke="#000" stroke-width="1.0"/>
<line x1="630.5" y1="322.5" x2="630.5" y2="326.0" stroke="#000" stroke-width="1.0"/>
<line x1="630.5" y1="332.5" x2="630.5" y2="329.0" stroke="#000" stroke-width="1.0"/>
<line x1="630.5" y1="488.5" x2="630.5" y2="492.0" stroke="#000" stroke-width="1.0"/>
<line x1="630.5" y1="497.5" x2="630.5" y2="494.0" stroke="#000" stroke-width="1.0"/>
<line x1="630.5" y1="528.5" x2="630.5" y2="532.0" stroke="#000" stroke-width="1.0"/>
<line x1="640.5" y1="126.5" x2="640.5" y2="136.5" stroke="#000" stroke-width="1.0"/>
<line x1="640.5" y1="157.5" x2="640.5" y2="147.5" stroke="#000" stroke-width="1.0"/>
<line x1="640.5" y1="166.5" x2="640.5" y2="156.5" stroke="#000" stroke-width="1.0"/>
<line x1="640.5" y1="322.5" x2="640.5" y2="332.5" stroke="#000" stroke-width="1.0"/>
<line x1="640.5" y1="332.5" x2="640.5" y2="322.5" stroke="#000" stroke-width="1.0"/>
<line x1="640.5" y1="488.5" x2="640.5" y2="498.5" stroke="#000" stroke-width="1.0"/>
<line x1="640.5" y1="497.5" x2="640.5" y2="487.5" stroke="#000" stroke-width="1.0"/>
<line x1="640.5" y1="528.5" x2="640.5" y2="538.5" stroke="#000" stroke-width="1.0"/>
<line x1="651.5" y1="126.5" x2="651.5" y2="130.0" stroke="#000" stroke-width="1.0"/>
<line x1="651.5" y1="157.5" x2="651.5" y2="154.0" stroke="#000" stroke-width="1.0"/>
<line x1="651.5" y1="166.5" x2="651.5" y2="163.0" stroke="#000" stroke-width="1.0"/>
<line x1="651.5" y1="322.5" x2="651.5" y2="326.0" stroke="#000" stroke-width="1.0"/>
<line x1="651.5" y1="332.5" x2="651.5" y2="329.0" stroke="#000" stroke-width="1.0"/>
<line x1="651.5" y1="488.5" x2="651.5" y2="492.0" stroke="#000" stroke-width="1.0"/>
<line x1="651.5" y1="497.5" x2="651.5" y2="494.0" stroke="#000" stroke-width="1.0"/>
<line x1="651.5" y1="528.5" x2="651.5" y2="532.0" stroke="#000" stroke-width="1.0"/>
<line x1="661.5" y1="126.5" x2="661.5" y2="130.0" stroke="#000" stroke-width="1.0"/>
<line x1="661.5" y1="157.5" x2="661.5" y2="154.0" stroke="#000" stroke-width="1.0"/>
<line x1="661.5" y1="166.5" x2="661.5" y2="163.0" stroke="#000" stroke-width="1.0"/>
<line x1="661.5" y1="322.5" x2="661.5" y2="326.0" stroke="#000" stroke-width="1.0"/>
<line x1="661.5" y1="332.5" x2="661.5" y2="329.0" stroke="#000" stroke-width="1.0"/>
<line x1="661.5" y1="488.5" x2="661.5" y2="492.0" stroke="#000" stroke-width="1.0"/>
<line x1="661.5" y1="497.5" x2="661.5" y2="494.0" stroke="#000" stroke-width="1.0"/>
<line x1="661.5" y1="528.5" x2="661.5" y2="532.0" stroke="#000" stroke-width="1.0"/>
<line x1="672.5" y1="126.5" x2="672.5" y2="130.0" stroke="#000" stroke-width="1.0"/>
<line x1="672.5" y1="157.5" x2="672.5" y2="154.0" stroke="#000" stroke-width="1.0"/>
<line x1="672.5" y1="166.5" x2="672.5" y2="163.0" stroke="#000" stroke-width="1.0"/>
<line x1="672.5" y1="322.5" x2="672.5" y2="326.0" stroke="#000" stroke-width="1.0"/>
<line x1="672.5" y1="332.5" x2="672.5" y2="329.0" stroke="#000" stroke-width="1.0"/>
<line x1="672.5" y1="488.5" x2="672.5" y2="492.0" stroke="#000" stroke-width="1.0"/>
<line x1="672.5" y1="497.5" x2="672.5" y2="494.0" stroke="#000" stroke-width="1.0"/>
<line x1="672.5" y1="528.5" x2="672.5" y2="532.0" stroke="#000" stroke-width="1.0"/>
<line x1="682.5" y1="126.5" x2="682.5" y2="130.0" stroke="#000" stroke-width="1.0"/>
<line x1="682.5" y1="157.5" x2="682.5" y2="154.0" stroke="#000" stroke-width="1.0"/>
<line x1="682.5" y1="166.5" x2="682.5" y2="163.0" stroke="#000" stroke-width="1.0"/>
<line x1="682.5" y1="322.5" x2="682.5" y2="326.0" stroke="#000" stroke-width="1.0"/>
<line x1="682.5" y1="332.5" x2="682.5" y2="329.0" stroke="#000" stroke-width="1.0"/>
<line x1="682.5" y1="488.5" x2="682.5" y2="492.0" stroke="#000" stroke-width="1.0"/>
<line x1="682.5" y1="497.5" x2="682.5" y2="494.0" stroke="#000" stroke-width="1.0"/>
<line x1="682.5" y1="528.5" x2="682.5" y2="532.0" stroke="#000" stroke-width="1.0"/>
<line x1="692.5" y1="126.5" x2="692.5" y2="130.0" stroke="#000" stroke-width="1.0"/>
<line x1="692.5" y1="157.5" x2="692.5" y2="154.0" stroke="#000" stroke-width="1.0"/>
<line x1="692.5" y1="166.5" x2="692.5" y2="163.0" stroke="#000" stroke-width="1.0"/>
<line x1="692.5" y1="322.5" x2="692.5" y2="326.0" stroke="#000" stroke-width="1.0"/>
<line x1="692.5" y1="332.5" x2="692.5" y2="329.0" stroke="#000" stroke-width="1.0"/>
<line x1="692.5" y1="488.5" x2="692.5" y2="492.0" stroke="#000" stroke-width="1.0"/>
<line x1="692.5" y1="497.5" x2="692.5" y2="494.0" stroke="#000" stroke-width="1.0"/>
<line x1="692.5" y1="528.5" x2="692.5" y2="532.0" stroke="#000" stroke-width="1.0"/>
<line x1="703.5" y1="126.5" x2="703.5" y2="136.5" stroke="#000" stroke-width="1.0"/>
<line x1="703.5" y1="157.5" x2="703.5" y2="147.5" stroke="#000" stroke-width="1.0"/>
<line x1="703.5" y1="166.5" x2="703.5" y2="156.5" stroke="#000" stroke-width="1.0"/>
<line x1="703.5" y1="322.5" x2="703.5" y2="332.5" stroke="#000" stroke-width="1.0"/>
<line x1="703.5" y1="332.5" x2="703.5" y2="322.5" stroke="#000" stroke-width="1.0"/>
<line x1="703.5" y1="488.5" x2="703.5" y2="498.5" stroke="#000" stroke-width="1.0"/>
<line x1="703.5" y1="497.5" x2="703.5" y2="487.5" stroke="#000" stroke-width="1.0"/>
<line x1="703.5" y1="528.5" x2="703.5" y2="538.5" stroke="#000" stroke-width="1.0"/>
<line x1="74.0" y1="157.5" x2="79.5" y2="157.5" stroke="#000" stroke-width="1.0"/>
<line x1="703.5" y1="157.5" x2="709.0" y2="157.5" stroke="#000" stroke-width="1.0"/>
<line x1="76.5" y1="149.5" x2="79.5" y2="149.5" stroke="#000" stroke-width="1.0"/>
<line x1="703.5" y1="149.5" x2="705.5" y2="149.5" stroke="#000" stroke-width="1.0"/>
<line x1="76.5" y1="142.5" x2="79.5" y2="142.5" stroke="#000" stroke-width="1.0"/>
<line x1="703.5" y1="142.5" x2="705.5" y2="142.5" stroke="#000" stroke-width="1.0"/>
<line x1="76.5" y1="134.5" x2="79.5" y2="134.5" stroke="#000" stroke-width="1.0"/>
<line x1="703.5" y1="134.5" x2="705.5" y2="134.5" stroke="#000" stroke-width="1.0"/>
<line x1="74.0" y1="126.5" x2="79.5" y2="126.5" stroke="#000" stroke-width="1.0"/>
<line x1="703.5" y1="126.5" x2="709.0" y2="126.5" stroke="#000" stroke-width="1.0"/>
<line x1="74.0" y1="322.5" x2="79.5" y2="322.5" stroke="#000" stroke-width="1.0"/>
<line x1="703.5" y1="322.5" x2="709.0" y2="322.5" stroke="#000" stroke-width="1.0"/>
<line x1="76.5" y1="314.5" x2="79.5" y2="314.5" stroke="#000" stroke-width="1.0"/>
<line x1="703.5" y1="314.5" x2="705.5" y2="314.5" stroke="#000" stroke-width="1.0"/>
<line x1="76.5" y1="306.5" x2="79.5" y2="306.5" stroke="#000" stroke-width="1.0"/>
<line x1="703.5" y1="306.5" x2="705.5" y2="306.5" stroke="#000" stroke-width="1.0"/>
<line x1="76.5" y1="299.5" x2="79.5" y2="299.5" stroke="#000" stroke-width="1.0"/>
<line x1="703.5" y1="299.5" x2="705.5" y2="299.5" stroke="#000" stroke-width="1.0"/>
<line x1="74.0" y1="291.5" x2="79.5" y2="291.5" stroke="#000" stroke-width="1.0"/>
<line x1="703.5" y1="291.5" x2="709.0" y2="291.5" stroke="#000" stroke-width="1.0"/>
<line x1="76.5" y1="283.5" x2="79.5" y2="283.5" stroke="#000" stroke-width="1.0"/>
<line x1="703.5" y1="283.5" x2="705.5" y2="283.5" stroke="#000" stroke-width="1.0"/>
<line x1="76.5" y1="275.5" x2="79.5" y2="275.5" stroke="#000" stroke-width="1.0"/>
<line x1="703.5" y1="275.5" x2="705.5" y2="275.5" stroke="#000" stroke-width="1.0"/>
<line x1="76.5" y1="267.5" x2="79.5" y2="267.5" stroke="#000" stroke-width="1.0"/>
<line x1="703.5" y1="267.5" x2="705.5" y2="267.5" stroke="#000" stroke-width="1.0"/>
<line x1="74.0" y1="260.5" x2="79.5" y2="260.5" stroke="#000" stroke-width="1.0"/>
<line x1="703.5" y1="260.5" x2="709.0" y2="260.5" stroke="#000" stroke-width="1.0"/>
<line x1="76.5" y1="252.5" x2="79.5" y2="252.5" stroke="#000" stroke-width="1.0"/>
<line x1="703.5" y1="252.5" x2="705.5" y2="252.5" stroke="#000" stroke-width="1.0"/>
<line x1="76.5" y1="244.5" x2="79.5" y2="244.5" stroke="#000" stroke-width="1.0"/>
<line x1="703.5" y1="244.5" x2="705.5" y2="244.5" stroke="#000" stroke-width="1.0"/>
<line x1="76.5" y1="236.5" x2="79.5" y2="236.5" stroke="#000" stroke-width="1.0"/>
<line x1="703.5" y1="236.5" x2="705.5" y2="236.5" stroke="#000" stroke-width="1.0"/>
<line x1="74.0" y1="228.5" x2="79.5" y2="228.5" stroke="#000" stroke-width="1.0"/>
<line x1="703.5" y1="228.5" x2="709.0" y2="228.5" stroke="#000" stroke-width="1.0"/>
<line x1="76.5" y1="221.5" x2="79.5" y2="221.5" stroke="#000" stroke-width="1.0"/>
<line x1="703.5" y1="221.5" x2="705.5" y2="221.5" stroke="#000" stroke-width="1.0"/>
<line x1="76.5" y1="213.5" x2="79.5" y2="213.5" stroke="#000" stroke-width="1.0"/>
<line x1="703.5" y1="213.5" x2="705.5" y2="213.5" stroke="#000" stroke-width="1.0"/>
<line x1="76.5" y1="205.5" x2="79.5" y2="205.5" stroke="#000" stroke-width="1.0"/>
<line x1="703.5" y1="205.5" x2="705.5" y2="205.5" stroke="#000" stroke-width="1.0"/>
<line x1="74.0" y1="197.5" x2="79.5" y2="197.5" stroke="#000" stroke-width="1.0"/>
<line x1="703.5" y1="197.5" x2="709.0" y2="197.5" stroke="#000" stroke-width="1.0"/>
<line x1="76.5" y1="189.5" x2="79.5" y2="189.5" stroke="#000" stroke-width="1.0"/>
<line x1="703.5" y1="189.5" x2="705.5" y2="189.5" stroke="#000" stroke-width="1.0"/>
<line x1="76.5" y1="182.5" x2="79.5" y2="182.5" stroke="#000" stroke-width="1.0"/>
<line x1="703.5" y1="182.5" x2="705.5" y2="182.5" stroke="#000" stroke-width="1.0"/>
<line x1="76.5" y1="174.5" x2="79.5" y2="174.5" stroke="#000" stroke-width="1.0"/>
<line x1="703.5" y1="174.5" x2="705.5" y2="174.5" stroke="#000" stroke-width="1.0"/>
<line x1="74.0" y1="166.5" x2="79.5" y2="166.5" stroke="#000" stroke-width="1.0"/>
<line x1="703.5" y1="166.5" x2="709.0" y2="166.5" stroke="#000" stroke-width="1.0"/>
<line x1="74.0" y1="488.5" x2="79.5" y2="488.5" stroke="#000" stroke-width="1.0"/>
<line x1="703.5" y1="488.5" x2="709.0" y2="488.5" stroke="#000" stroke-width="1.0"/>
<line x1="76.5" y1="480.5" x2="79.5" y2="480.5" stroke="#000" stroke-width="1.0"/>
<line x1="703.5" y1="480.5" x2="705.5" y2="480.5" stroke="#000" stroke-width="1.0"/>
<line x1="76.5" y1="472.5" x2="79.5" y2="472.5" stroke="#000" stroke-width="1.0"/>
<line x1="703.5" y1="472.5" x2="705.5" y2="472.5" stroke="#000" stroke-width="1.0"/>
<line x1="76.5" y1="465.5" x2="79.5" y2="465.5" stroke="#000" stroke-width="1.0"/>
<line x1="703.5" y1="465.5" x2="705.5" y2="465.5" stroke="#000" stroke-width="1.0"/>
<line x1="74.0" y1="457.5" x2="79.5" y2="457.5" stroke="#000" stroke-width="1.0"/>
<line x1="703.5" y1="457.5" x2="709.0" y2="457.5" stroke="#000" stroke-width="1.0"/>
<line x1="76.5" y1="449.5" x2="79.5" y2="449.5" stroke="#000" stroke-width="1.0"/>
<line x1="703.5" y1="449.5" x2="705.5" y2="449.5" stroke="#000" stroke-width="1.0"/>
<line x1="76.5" y1="441.5" x2="79.5" y2="441.5" stroke="#000" stroke-width="1.0"/>
<line x1="703.5" y1="441.5" x2="705.5" y2="441.5" stroke="#000" stroke-width="1.0"/>
<line x1="76.5" y1="433.5" x2="79.5" y2="433.5" stroke="#000" stroke-width="1.0"/>
<line x1="703.5" y1="433.5" x2="705.5" y2="433.5" stroke="#000" stroke-width="1.0"/>
<line x1="74.0" y1="426.5" x2="79.5" y2="426.5" stroke="#000" stroke-width="1.0"/>
<line x1="703.5" y1="426.5" x2="709.0" y2="426.5" stroke="#000" stroke-width="1.0"/>
<line x1="76.5" y1="418.5" x2="79.5" y2="418.5" stroke="#000" stroke-width="1.0"/>
<line x1="703.5" y1="418.5" x2="705.5" y2="418.5" stroke="#000" stroke-width="1.0"/>
<line x1="76.5" y1="410.5" x2="79.5" y2="410.5" stroke="#000" stroke-width="1.0"/>
<line x1="703.5" y1="410.5" x2="705.5" y2="410.5" stroke="#000" stroke-width="1.0"/>
<line x1="76.5" y1="402.5" x2="79.5" y2="402.5" stroke="#000" stroke-width="1.0"/>
<line x1="703.5" y1="402.5" x2="705.5" y2="402.5" stroke="#000" stroke-width="1.0"/>
<line x1="74.0" y1="394.5" x2="79.5" y2="394.5" stroke="#000" stroke-width="1.0"/>
<line x1="703.5" y1="394.5" x2="709.0" y2="394.5" stroke="#000" stroke-width="1.0"/>
<line x1="76.5" y1="387.5" x2="79.5" y2="387.5" stroke="#000" stroke-width="1.0"/>
<line x1="703.5" y1="387.5" x2="705.5" y2="387.5" stroke="#000" stroke-width="1.0"/>
<line x1="76.5" y1="379.5" x2="79.5" y2="379.5" stroke="#000" stroke-width="1.0"/>
<line x1="703.5" y1="379.5" x2="705.5" y2="379.5" stroke="#000" stroke-width="1.0"/>
<line x1="76.5" y1="371.5" x2="79.5" y2="371.5" stroke="#000" stroke-width="1.0"/>
<line x1="703.5" y1="371.5" x2="705.5" y2="371.5" stroke="#000" stroke-width="1.0"/>
<line x1="74.0" y1="363.5" x2="79.5" y2="363.5" stroke="#000" stroke-width="1.0"/>
<line x1="703.5" y1="363.5" x2="709.0" y2="363.5" stroke="#000" stroke-width="1.0"/>
<line x1="76.5" y1="355.5" x2="79.5" y2="355.5" stroke="#000" stroke-width="1.0"/>
<line x1="703.5" y1="355.5" x2="705.5" y2="355.5" stroke="#000" stroke-width="1.0"/>
<line x1="76.5" y1="348.5" x2="79.5" y2="348.5" stroke="#000" stroke-width="1.0"/>
<line x1="703.5" y1="348.5" x2="705.5" y2="348.5" stroke="#000" stroke-width="1.0"/>
<line x1="76.5" y1="340.5" x2="79.5" y2="340.5" stroke="#000" stroke-width="1.0"/>
<line x1="703.5" y1="340.5" x2="705.5" y2="340.5" stroke="#000" stroke-width="1.0"/>
<line x1="74.0" y1="332.5" x2="79.5" y2="332.5" stroke="#000" stroke-width="1.0"/>
<line x1="703.5" y1="332.5" x2="709.0" y2="332.5" stroke="#000" stroke-width="1.0"/>
<line x1="74.0" y1="528.5" x2="79.5" y2="528.5" stroke="#000" stroke-width="1.0"/>
<line x1="703.5" y1="528.5" x2="709.0" y2="528.5" stroke="#000" stroke-width="1.0"/>
<line x1="76.5" y1="520.5" x2="79.5" y2="520.5" stroke="#000" stroke-width="1.0"/>
<line x1="703.5" y1="520.5" x2="705.5" y2="520.5" stroke="#000" stroke-width="1.0"/>
<line x1="76.5" y1="513.5" x2="79.5" y2="513.5" stroke="#000" stroke-width="1.0"/>
<line x1="703.5" y1="513.5" x2="705.5" y2="513.5" stroke="#000" stroke-width="1.0"/>
<line x1="76.5" y1="505.5" x2="79.5" y2="505.5" stroke="#000" stroke-width="1.0"/>
<line x1="703.5" y1="505.5" x2="705.5" y2="505.5" stroke="#000" stroke-width="1.0"/>
<line x1="74.0" y1="497.5" x2="79.5" y2="497.5" stroke="#000" stroke-width="1.0"/>
<line x1="703.5" y1="497.5" x2="709.0" y2="497.5" stroke="#000" stroke-width="1.0"/>
<g style="font-family:'Liberation Serif',serif;font-weight:bold" fill="#000" stroke="#000" stroke-width="0.3" shape-rendering="auto">
<text x="62.1" y="130.7" font-size="9.9" textLength="9.2" lengthAdjust="spacingAndGlyphs">10</text>
<text x="56.5" y="161.7" font-size="9.9" textLength="14.8" lengthAdjust="spacingAndGlyphs">-10</text>
<text x="66.7" y="326.7" font-size="9.9" textLength="4.6" lengthAdjust="spacingAndGlyphs">0</text>
<text x="66.7" y="295.5" font-size="9.9" textLength="4.6" lengthAdjust="spacingAndGlyphs">2</text>
<text x="66.7" y="264.3" font-size="9.9" textLength="4.6" lengthAdjust="spacingAndGlyphs">4</text>
<text x="66.7" y="233.1" font-size="9.9" textLength="4.6" lengthAdjust="spacingAndGlyphs">6</text>
<text x="66.7" y="201.9" font-size="9.9" textLength="4.6" lengthAdjust="spacingAndGlyphs">8</text>
<text x="62.1" y="170.7" font-size="9.9" textLength="9.2" lengthAdjust="spacingAndGlyphs">10</text>
<text x="66.7" y="492.7" font-size="9.9" textLength="4.6" lengthAdjust="spacingAndGlyphs">0</text>
<text x="66.7" y="461.5" font-size="9.9" textLength="4.6" lengthAdjust="spacingAndGlyphs">2</text>
<text x="66.7" y="430.3" font-size="9.9" textLength="4.6" lengthAdjust="spacingAndGlyphs">4</text>
<text x="66.7" y="399.1" font-size="9.9" textLength="4.6" lengthAdjust="spacingAndGlyphs">6</text>
<text x="66.7" y="367.9" font-size="9.9" textLength="4.6" lengthAdjust="spacingAndGlyphs">8</text>
<text x="62.1" y="336.7" font-size="9.9" textLength="9.2" lengthAdjust="spacingAndGlyphs">10</text>
<text x="66.7" y="501.7" font-size="9.9" textLength="4.6" lengthAdjust="spacingAndGlyphs">5</text>
<text x="61.1" y="532.7" font-size="9.9" textLength="10.2" lengthAdjust="spacingAndGlyphs">-5</text>
<text x="77.3" y="548.6" font-size="9.9" textLength="4.4" lengthAdjust="spacingAndGlyphs">0</text>
<text x="139.3" y="548.6" font-size="9.9" textLength="4.4" lengthAdjust="spacingAndGlyphs">1</text>
<text x="202.3" y="548.6" font-size="9.9" textLength="4.4" lengthAdjust="spacingAndGlyphs">2</text>
<text x="264.3" y="548.6" font-size="9.9" textLength="4.5" lengthAdjust="spacingAndGlyphs">3</text>
<text x="326.3" y="548.6" font-size="9.9" textLength="4.5" lengthAdjust="spacingAndGlyphs">4</text>
<text x="389.3" y="548.6" font-size="9.9" textLength="4.5" lengthAdjust="spacingAndGlyphs">5</text>
<text x="451.3" y="548.6" font-size="9.9" textLength="4.5" lengthAdjust="spacingAndGlyphs">6</text>
<text x="514.3" y="548.6" font-size="9.9" textLength="4.5" lengthAdjust="spacingAndGlyphs">7</text>
<text x="576.3" y="548.6" font-size="9.9" textLength="4.5" lengthAdjust="spacingAndGlyphs">8</text>
<text x="638.3" y="548.6" font-size="9.9" textLength="4.5" lengthAdjust="spacingAndGlyphs">9</text>
<text x="699.0" y="548.6" font-size="9.9" textLength="8.9" lengthAdjust="spacingAndGlyphs">10</text>
<text x="376.2" y="557.8" font-size="9.6" textLength="48.2" lengthAdjust="spacingAndGlyphs">Time&#160; (min)</text>
<text x="79.0" y="122.6" font-size="11.8" textLength="69.0" lengthAdjust="spacingAndGlyphs">VLF Spectra</text>
<text x="250.8" y="122.9" font-size="9.8" textLength="17.5" lengthAdjust="spacingAndGlyphs">Oct.</text>
<text x="271.0" y="122.9" font-size="9.8" textLength="5.2" lengthAdjust="spacingAndGlyphs">6</text>
<text x="281.0" y="122.9" font-size="9.8" textLength="2.6" lengthAdjust="spacingAndGlyphs">,</text>
<text x="287.8" y="122.9" font-size="9.8" textLength="19.2" lengthAdjust="spacingAndGlyphs">2025</text>
<text x="343.8" y="122.9" font-size="9.8" textLength="53.4" lengthAdjust="spacingAndGlyphs">station= OUI</text>
<text x="437.8" y="122.9" font-size="9.8" textLength="18.2" lengthAdjust="spacingAndGlyphs">start</text>
<text x="460.2" y="122.9" font-size="9.8" textLength="14.0" lengthAdjust="spacingAndGlyphs">UT</text>
<text x="478.5" y="122.9" font-size="9.8" textLength="6.3" lengthAdjust="spacingAndGlyphs">=</text>
<text x="493.0" y="122.9" font-size="9.8" textLength="36.0" lengthAdjust="spacingAndGlyphs">14: 50: 0</text>
<text x="50.3" y="142.5" font-size="10.3" textLength="31.2" lengthAdjust="spacingAndGlyphs" text-anchor="middle" transform="rotate(-90 50.3 142.5)">ch.1(V)</text>
<text x="50.4" y="244.2" font-size="8.6" textLength="14.6" lengthAdjust="spacingAndGlyphs" text-anchor="middle" transform="rotate(-90 50.4 244.2)">ch.1</text>
<text x="57.6" y="232.2" font-size="9.4" textLength="70.0" lengthAdjust="spacingAndGlyphs" text-anchor="middle" transform="rotate(-90 57.6 232.2)">Frequency&#160; (kHz)</text>
<text x="50.4" y="409.8" font-size="8.6" textLength="14.6" lengthAdjust="spacingAndGlyphs" text-anchor="middle" transform="rotate(-90 50.4 409.8)">ch.2</text>
<text x="57.6" y="397.8" font-size="9.4" textLength="70.0" lengthAdjust="spacingAndGlyphs" text-anchor="middle" transform="rotate(-90 57.6 397.8)">Frequency&#160; (kHz)</text>
<text x="50.5" y="513.4" font-size="10.3" textLength="30.8" lengthAdjust="spacingAndGlyphs" text-anchor="middle" transform="rotate(-90 50.5 513.4)">ch.3(V)</text>
</g>
<linearGradient id="cb1" x1="0" y1="1" x2="0" y2="0">
<stop offset="0.000" stop-color="rgb(0,0,30)"/>
<stop offset="0.060" stop-color="rgb(0,0,90)"/>
<stop offset="0.110" stop-color="rgb(0,0,170)"/>
<stop offset="0.150" stop-color="rgb(0,0,240)"/>
<stop offset="0.190" stop-color="rgb(0,60,240)"/>
<stop offset="0.220" stop-color="rgb(0,140,240)"/>
<stop offset="0.260" stop-color="rgb(0,200,240)"/>
<stop offset="0.300" stop-color="rgb(0,240,230)"/>
<stop offset="0.345" stop-color="rgb(0,240,160)"/>
<stop offset="0.390" stop-color="rgb(0,240,60)"/>
<stop offset="0.430" stop-color="rgb(0,240,0)"/>
<stop offset="0.480" stop-color="rgb(100,240,0)"/>
<stop offset="0.520" stop-color="rgb(170,230,0)"/>
<stop offset="0.565" stop-color="rgb(240,240,0)"/>
<stop offset="0.600" stop-color="rgb(255,210,0)"/>
<stop offset="0.643" stop-color="rgb(255,150,0)"/>
<stop offset="0.684" stop-color="rgb(255,70,0)"/>
<stop offset="0.736" stop-color="rgb(240,0,0)"/>
<stop offset="0.787" stop-color="rgb(240,40,40)"/>
<stop offset="0.857" stop-color="rgb(255,110,110)"/>
<stop offset="0.940" stop-color="rgb(255,200,200)"/>
<stop offset="1.000" stop-color="rgb(250,245,245)"/>
</linearGradient>
<rect x="719" y="201.5" width="9" height="108.5" fill="url(#cb1)"/>
<line x1="728.5" y1="201.5" x2="728.5" y2="310.0" stroke="#000" stroke-width="1.0"/>
<line x1="728.5" y1="310.5" x2="732.0" y2="310.5" stroke="#000" stroke-width="1.0"/>
<line x1="728.5" y1="282.5" x2="732.0" y2="282.5" stroke="#000" stroke-width="1.0"/>
<line x1="728.5" y1="255.5" x2="732.0" y2="255.5" stroke="#000" stroke-width="1.0"/>
<line x1="728.5" y1="228.5" x2="732.0" y2="228.5" stroke="#000" stroke-width="1.0"/>
<line x1="728.5" y1="201.5" x2="732.0" y2="201.5" stroke="#000" stroke-width="1.0"/>
<g style="font-family:'Liberation Serif',serif;font-weight:bold" fill="#000" stroke="#000" stroke-width="0.1" shape-rendering="auto">
<text x="734.2" y="313.2" font-size="8.2" textLength="7.8" lengthAdjust="spacingAndGlyphs">-7</text>
<text x="734.2" y="286.1" font-size="8.2" textLength="7.8" lengthAdjust="spacingAndGlyphs">-6</text>
<text x="734.2" y="258.9" font-size="8.2" textLength="7.8" lengthAdjust="spacingAndGlyphs">-5</text>
<text x="734.2" y="231.8" font-size="8.2" textLength="7.8" lengthAdjust="spacingAndGlyphs">-4</text>
<text x="734.2" y="204.7" font-size="8.2" textLength="7.8" lengthAdjust="spacingAndGlyphs">-3</text>
<text x="750.6" y="260.4" font-size="7.2" textLength="52.8" lengthAdjust="spacingAndGlyphs" transform="rotate(-90 750.6 260.4)" text-anchor="middle">log(PSD)(V<tspan font-size="5" dy="-3">2</tspan><tspan dy="3">/Hz)</tspan></text>
</g>
<linearGradient id="cb2" x1="0" y1="1" x2="0" y2="0">
<stop offset="0.000" stop-color="rgb(0,0,30)"/>
<stop offset="0.060" stop-color="rgb(0,0,90)"/>
<stop offset="0.110" stop-color="rgb(0,0,170)"/>
<stop offset="0.150" stop-color="rgb(0,0,240)"/>
<stop offset="0.190" stop-color="rgb(0,60,240)"/>
<stop offset="0.220" stop-color="rgb(0,140,240)"/>
<stop offset="0.260" stop-color="rgb(0,200,240)"/>
<stop offset="0.300" stop-color="rgb(0,240,230)"/>
<stop offset="0.345" stop-color="rgb(0,240,160)"/>
<stop offset="0.390" stop-color="rgb(0,240,60)"/>
<stop offset="0.430" stop-color="rgb(0,240,0)"/>
<stop offset="0.480" stop-color="rgb(100,240,0)"/>
<stop offset="0.520" stop-color="rgb(170,230,0)"/>
<stop offset="0.565" stop-color="rgb(240,240,0)"/>
<stop offset="0.600" stop-color="rgb(255,210,0)"/>
<stop offset="0.643" stop-color="rgb(255,150,0)"/>
<stop offset="0.684" stop-color="rgb(255,70,0)"/>
<stop offset="0.736" stop-color="rgb(240,0,0)"/>
<stop offset="0.787" stop-color="rgb(240,40,40)"/>
<stop offset="0.857" stop-color="rgb(255,110,110)"/>
<stop offset="0.940" stop-color="rgb(255,200,200)"/>
<stop offset="1.000" stop-color="rgb(250,245,245)"/>
</linearGradient>
<rect x="719" y="366.6" width="9" height="109.0" fill="url(#cb2)"/>
<line x1="728.5" y1="366.6" x2="728.5" y2="475.6" stroke="#000" stroke-width="1.0"/>
<line x1="728.5" y1="475.5" x2="732.0" y2="475.5" stroke="#000" stroke-width="1.0"/>
<line x1="728.5" y1="448.5" x2="732.0" y2="448.5" stroke="#000" stroke-width="1.0"/>
<line x1="728.5" y1="421.5" x2="732.0" y2="421.5" stroke="#000" stroke-width="1.0"/>
<line x1="728.5" y1="393.5" x2="732.0" y2="393.5" stroke="#000" stroke-width="1.0"/>
<line x1="728.5" y1="366.5" x2="732.0" y2="366.5" stroke="#000" stroke-width="1.0"/>
<g style="font-family:'Liberation Serif',serif;font-weight:bold" fill="#000" stroke="#000" stroke-width="0.1" shape-rendering="auto">
<text x="734.2" y="478.8" font-size="8.2" textLength="7.8" lengthAdjust="spacingAndGlyphs">-7</text>
<text x="734.2" y="451.6" font-size="8.2" textLength="7.8" lengthAdjust="spacingAndGlyphs">-6</text>
<text x="734.2" y="424.3" font-size="8.2" textLength="7.8" lengthAdjust="spacingAndGlyphs">-5</text>
<text x="734.2" y="397.1" font-size="8.2" textLength="7.8" lengthAdjust="spacingAndGlyphs">-4</text>
<text x="734.2" y="369.8" font-size="8.2" textLength="7.8" lengthAdjust="spacingAndGlyphs">-3</text>
<text x="750.6" y="425.0" font-size="7.2" textLength="52.8" lengthAdjust="spacingAndGlyphs" transform="rotate(-90 750.6 425.0)" text-anchor="middle">log(PSD)(V<tspan font-size="5" dy="-3">2</tspan><tspan dy="3">/Hz)</tspan></text>
</g>
</svg>
</body></html>
